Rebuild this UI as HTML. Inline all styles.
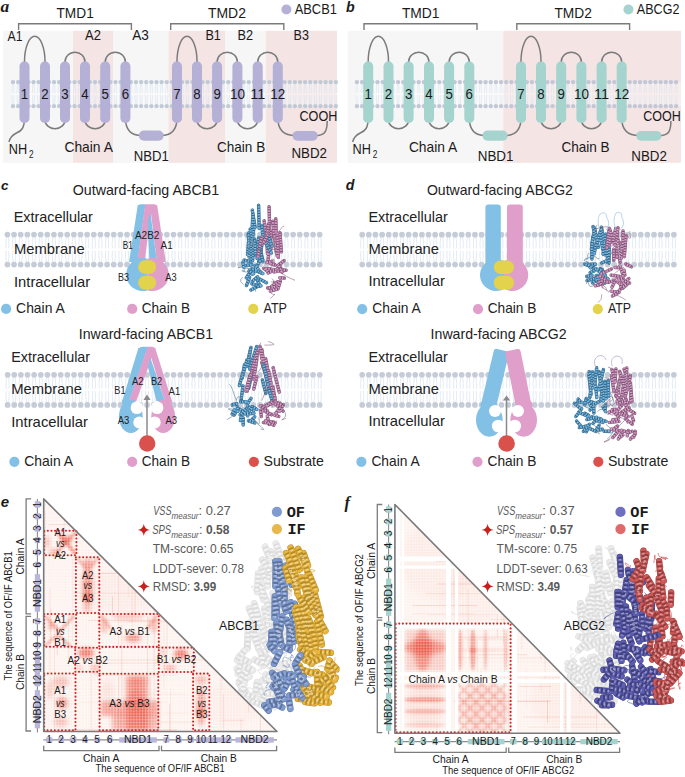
<!DOCTYPE html>
<html><head><meta charset="utf-8"><style>
html,body{margin:0;padding:0;background:#fff;width:685px;height:777px;overflow:hidden}
svg{display:block}
</style></head><body>
<svg width="685" height="777" viewBox="0 0 685 777" font-family="Liberation Sans, sans-serif" fill="#1a1a1a">
<rect x="3" y="30.8" width="70" height="132" fill="#f6f6f6"/>
<rect x="73" y="30.8" width="40" height="132" fill="#f4e4e4"/>
<rect x="113" y="30.8" width="55.5" height="132" fill="#f6f6f6"/>
<rect x="168.5" y="30.8" width="56.8" height="132" fill="#f4e4e4"/>
<rect x="225.3" y="30.8" width="40.5" height="132" fill="#f6f6f6"/>
<rect x="265.8" y="30.8" width="71.2" height="132" fill="#f4e4e4"/>
<rect x="11" y="82.1" width="328" height="24" fill="#ffffff" opacity="0.35"/>
<path d="M12.3 84.1L11.9 93.1M13.7 84.1L14.1 93.1M12.3 104.1L11.9 95.1M13.7 104.1L14.1 95.1M17.43 84.1L17.02 93.1M18.82 84.1L19.23 93.1M17.43 104.1L17.02 95.1M18.82 104.1L19.23 95.1M22.55 84.1L22.15 93.1M23.95 84.1L24.35 93.1M22.55 104.1L22.15 95.1M23.95 104.1L24.35 95.1M27.68 84.1L27.27 93.1M29.07 84.1L29.48 93.1M27.68 104.1L27.27 95.1M29.07 104.1L29.48 95.1M32.8 84.1L32.4 93.1M34.2 84.1L34.6 93.1M32.8 104.1L32.4 95.1M34.2 104.1L34.6 95.1M37.92 84.1L37.52 93.1M39.33 84.1L39.73 93.1M37.92 104.1L37.52 95.1M39.33 104.1L39.73 95.1M43.05 84.1L42.65 93.1M44.45 84.1L44.85 93.1M43.05 104.1L42.65 95.1M44.45 104.1L44.85 95.1M48.17 84.1L47.77 93.1M49.58 84.1L49.98 93.1M48.17 104.1L47.77 95.1M49.58 104.1L49.98 95.1M53.3 84.1L52.9 93.1M54.7 84.1L55.1 93.1M53.3 104.1L52.9 95.1M54.7 104.1L55.1 95.1M58.42 84.1L58.02 93.1M59.83 84.1L60.23 93.1M58.42 104.1L58.02 95.1M59.83 104.1L60.23 95.1M63.55 84.1L63.15 93.1M64.95 84.1L65.35 93.1M63.55 104.1L63.15 95.1M64.95 104.1L65.35 95.1M68.67 84.1L68.28 93.1M70.08 84.1L70.47 93.1M68.67 104.1L68.28 95.1M70.08 104.1L70.47 95.1M73.8 84.1L73.4 93.1M75.2 84.1L75.6 93.1M73.8 104.1L73.4 95.1M75.2 104.1L75.6 95.1M78.92 84.1L78.53 93.1M80.33 84.1L80.72 93.1M78.92 104.1L78.53 95.1M80.33 104.1L80.72 95.1M84.05 84.1L83.65 93.1M85.45 84.1L85.85 93.1M84.05 104.1L83.65 95.1M85.45 104.1L85.85 95.1M89.17 84.1L88.78 93.1M90.58 84.1L90.97 93.1M89.17 104.1L88.78 95.1M90.58 104.1L90.97 95.1M94.3 84.1L93.9 93.1M95.7 84.1L96.1 93.1M94.3 104.1L93.9 95.1M95.7 104.1L96.1 95.1M99.42 84.1L99.03 93.1M100.83 84.1L101.22 93.1M99.42 104.1L99.03 95.1M100.83 104.1L101.22 95.1M104.55 84.1L104.15 93.1M105.95 84.1L106.35 93.1M104.55 104.1L104.15 95.1M105.95 104.1L106.35 95.1M109.67 84.1L109.28 93.1M111.08 84.1L111.47 93.1M109.67 104.1L109.28 95.1M111.08 104.1L111.47 95.1M114.8 84.1L114.4 93.1M116.2 84.1L116.6 93.1M114.8 104.1L114.4 95.1M116.2 104.1L116.6 95.1M119.92 84.1L119.53 93.1M121.33 84.1L121.72 93.1M119.92 104.1L119.53 95.1M121.33 104.1L121.72 95.1M125.05 84.1L124.65 93.1M126.45 84.1L126.85 93.1M125.05 104.1L124.65 95.1M126.45 104.1L126.85 95.1M130.18 84.1L129.78 93.1M131.57 84.1L131.97 93.1M130.18 104.1L129.78 95.1M131.57 104.1L131.97 95.1M135.3 84.1L134.9 93.1M136.7 84.1L137.1 93.1M135.3 104.1L134.9 95.1M136.7 104.1L137.1 95.1M140.43 84.1L140.03 93.1M141.82 84.1L142.22 93.1M140.43 104.1L140.03 95.1M141.82 104.1L142.22 95.1M145.55 84.1L145.15 93.1M146.95 84.1L147.35 93.1M145.55 104.1L145.15 95.1M146.95 104.1L147.35 95.1M150.68 84.1L150.28 93.1M152.07 84.1L152.47 93.1M150.68 104.1L150.28 95.1M152.07 104.1L152.47 95.1M155.8 84.1L155.4 93.1M157.2 84.1L157.6 93.1M155.8 104.1L155.4 95.1M157.2 104.1L157.6 95.1M160.93 84.1L160.53 93.1M162.32 84.1L162.72 93.1M160.93 104.1L160.53 95.1M162.32 104.1L162.72 95.1M166.05 84.1L165.65 93.1M167.45 84.1L167.85 93.1M166.05 104.1L165.65 95.1M167.45 104.1L167.85 95.1M171.18 84.1L170.78 93.1M172.57 84.1L172.97 93.1M171.18 104.1L170.78 95.1M172.57 104.1L172.97 95.1M176.3 84.1L175.9 93.1M177.7 84.1L178.1 93.1M176.3 104.1L175.9 95.1M177.7 104.1L178.1 95.1M181.43 84.1L181.03 93.1M182.82 84.1L183.22 93.1M181.43 104.1L181.03 95.1M182.82 104.1L183.22 95.1M186.55 84.1L186.15 93.1M187.95 84.1L188.35 93.1M186.55 104.1L186.15 95.1M187.95 104.1L188.35 95.1M191.68 84.1L191.28 93.1M193.07 84.1L193.47 93.1M191.68 104.1L191.28 95.1M193.07 104.1L193.47 95.1M196.8 84.1L196.4 93.1M198.2 84.1L198.6 93.1M196.8 104.1L196.4 95.1M198.2 104.1L198.6 95.1M201.93 84.1L201.53 93.1M203.32 84.1L203.72 93.1M201.93 104.1L201.53 95.1M203.32 104.1L203.72 95.1M207.05 84.1L206.65 93.1M208.45 84.1L208.85 93.1M207.05 104.1L206.65 95.1M208.45 104.1L208.85 95.1M212.18 84.1L211.78 93.1M213.57 84.1L213.97 93.1M212.18 104.1L211.78 95.1M213.57 104.1L213.97 95.1M217.3 84.1L216.9 93.1M218.7 84.1L219.1 93.1M217.3 104.1L216.9 95.1M218.7 104.1L219.1 95.1M222.43 84.1L222.03 93.1M223.82 84.1L224.22 93.1M222.43 104.1L222.03 95.1M223.82 104.1L224.22 95.1M227.55 84.1L227.15 93.1M228.95 84.1L229.35 93.1M227.55 104.1L227.15 95.1M228.95 104.1L229.35 95.1M232.68 84.1L232.28 93.1M234.07 84.1L234.47 93.1M232.68 104.1L232.28 95.1M234.07 104.1L234.47 95.1M237.8 84.1L237.4 93.1M239.2 84.1L239.6 93.1M237.8 104.1L237.4 95.1M239.2 104.1L239.6 95.1M242.93 84.1L242.53 93.1M244.32 84.1L244.72 93.1M242.93 104.1L242.53 95.1M244.32 104.1L244.72 95.1M248.05 84.1L247.65 93.1M249.45 84.1L249.85 93.1M248.05 104.1L247.65 95.1M249.45 104.1L249.85 95.1M253.18 84.1L252.78 93.1M254.57 84.1L254.97 93.1M253.18 104.1L252.78 95.1M254.57 104.1L254.97 95.1M258.3 84.1L257.9 93.1M259.7 84.1L260.1 93.1M258.3 104.1L257.9 95.1M259.7 104.1L260.1 95.1M263.43 84.1L263.02 93.1M264.82 84.1L265.23 93.1M263.43 104.1L263.02 95.1M264.82 104.1L265.23 95.1M268.55 84.1L268.15 93.1M269.95 84.1L270.35 93.1M268.55 104.1L268.15 95.1M269.95 104.1L270.35 95.1M273.68 84.1L273.27 93.1M275.07 84.1L275.48 93.1M273.68 104.1L273.27 95.1M275.07 104.1L275.48 95.1M278.8 84.1L278.4 93.1M280.2 84.1L280.6 93.1M278.8 104.1L278.4 95.1M280.2 104.1L280.6 95.1M283.93 84.1L283.52 93.1M285.32 84.1L285.73 93.1M283.93 104.1L283.52 95.1M285.32 104.1L285.73 95.1M289.05 84.1L288.65 93.1M290.45 84.1L290.85 93.1M289.05 104.1L288.65 95.1M290.45 104.1L290.85 95.1M294.18 84.1L293.77 93.1M295.57 84.1L295.98 93.1M294.18 104.1L293.77 95.1M295.57 104.1L295.98 95.1M299.3 84.1L298.9 93.1M300.7 84.1L301.1 93.1M299.3 104.1L298.9 95.1M300.7 104.1L301.1 95.1M304.43 84.1L304.02 93.1M305.82 84.1L306.23 93.1M304.43 104.1L304.02 95.1M305.82 104.1L306.23 95.1M309.55 84.1L309.15 93.1M310.95 84.1L311.35 93.1M309.55 104.1L309.15 95.1M310.95 104.1L311.35 95.1M314.68 84.1L314.27 93.1M316.07 84.1L316.48 93.1M314.68 104.1L314.27 95.1M316.07 104.1L316.48 95.1M319.8 84.1L319.4 93.1M321.2 84.1L321.6 93.1M319.8 104.1L319.4 95.1M321.2 104.1L321.6 95.1M324.93 84.1L324.52 93.1M326.32 84.1L326.73 93.1M324.93 104.1L324.52 95.1M326.32 104.1L326.73 95.1M330.05 84.1L329.65 93.1M331.45 84.1L331.85 93.1M330.05 104.1L329.65 95.1M331.45 104.1L331.85 95.1M335.18 84.1L334.77 93.1M336.57 84.1L336.98 93.1M335.18 104.1L334.77 95.1M336.57 104.1L336.98 95.1" fill="none" stroke="#d4e1ef" stroke-width="0.6"/>
<circle cx="13" cy="82.1" r="2.2" fill="#c0cad6"/>
<circle cx="13" cy="106.1" r="2.2" fill="#c0cad6"/>
<circle cx="18.12" cy="82.1" r="2.2" fill="#c0cad6"/>
<circle cx="18.12" cy="106.1" r="2.2" fill="#c0cad6"/>
<circle cx="23.25" cy="82.1" r="2.2" fill="#c0cad6"/>
<circle cx="23.25" cy="106.1" r="2.2" fill="#c0cad6"/>
<circle cx="28.38" cy="82.1" r="2.2" fill="#c0cad6"/>
<circle cx="28.38" cy="106.1" r="2.2" fill="#c0cad6"/>
<circle cx="33.5" cy="82.1" r="2.2" fill="#c0cad6"/>
<circle cx="33.5" cy="106.1" r="2.2" fill="#c0cad6"/>
<circle cx="38.62" cy="82.1" r="2.2" fill="#c0cad6"/>
<circle cx="38.62" cy="106.1" r="2.2" fill="#c0cad6"/>
<circle cx="43.75" cy="82.1" r="2.2" fill="#c0cad6"/>
<circle cx="43.75" cy="106.1" r="2.2" fill="#c0cad6"/>
<circle cx="48.88" cy="82.1" r="2.2" fill="#c0cad6"/>
<circle cx="48.88" cy="106.1" r="2.2" fill="#c0cad6"/>
<circle cx="54" cy="82.1" r="2.2" fill="#c0cad6"/>
<circle cx="54" cy="106.1" r="2.2" fill="#c0cad6"/>
<circle cx="59.12" cy="82.1" r="2.2" fill="#c0cad6"/>
<circle cx="59.12" cy="106.1" r="2.2" fill="#c0cad6"/>
<circle cx="64.25" cy="82.1" r="2.2" fill="#c0cad6"/>
<circle cx="64.25" cy="106.1" r="2.2" fill="#c0cad6"/>
<circle cx="69.38" cy="82.1" r="2.2" fill="#c0cad6"/>
<circle cx="69.38" cy="106.1" r="2.2" fill="#c0cad6"/>
<circle cx="74.5" cy="82.1" r="2.2" fill="#c0cad6"/>
<circle cx="74.5" cy="106.1" r="2.2" fill="#c0cad6"/>
<circle cx="79.62" cy="82.1" r="2.2" fill="#c0cad6"/>
<circle cx="79.62" cy="106.1" r="2.2" fill="#c0cad6"/>
<circle cx="84.75" cy="82.1" r="2.2" fill="#c0cad6"/>
<circle cx="84.75" cy="106.1" r="2.2" fill="#c0cad6"/>
<circle cx="89.88" cy="82.1" r="2.2" fill="#c0cad6"/>
<circle cx="89.88" cy="106.1" r="2.2" fill="#c0cad6"/>
<circle cx="95" cy="82.1" r="2.2" fill="#c0cad6"/>
<circle cx="95" cy="106.1" r="2.2" fill="#c0cad6"/>
<circle cx="100.12" cy="82.1" r="2.2" fill="#c0cad6"/>
<circle cx="100.12" cy="106.1" r="2.2" fill="#c0cad6"/>
<circle cx="105.25" cy="82.1" r="2.2" fill="#c0cad6"/>
<circle cx="105.25" cy="106.1" r="2.2" fill="#c0cad6"/>
<circle cx="110.38" cy="82.1" r="2.2" fill="#c0cad6"/>
<circle cx="110.38" cy="106.1" r="2.2" fill="#c0cad6"/>
<circle cx="115.5" cy="82.1" r="2.2" fill="#c0cad6"/>
<circle cx="115.5" cy="106.1" r="2.2" fill="#c0cad6"/>
<circle cx="120.62" cy="82.1" r="2.2" fill="#c0cad6"/>
<circle cx="120.62" cy="106.1" r="2.2" fill="#c0cad6"/>
<circle cx="125.75" cy="82.1" r="2.2" fill="#c0cad6"/>
<circle cx="125.75" cy="106.1" r="2.2" fill="#c0cad6"/>
<circle cx="130.88" cy="82.1" r="2.2" fill="#c0cad6"/>
<circle cx="130.88" cy="106.1" r="2.2" fill="#c0cad6"/>
<circle cx="136" cy="82.1" r="2.2" fill="#c0cad6"/>
<circle cx="136" cy="106.1" r="2.2" fill="#c0cad6"/>
<circle cx="141.12" cy="82.1" r="2.2" fill="#c0cad6"/>
<circle cx="141.12" cy="106.1" r="2.2" fill="#c0cad6"/>
<circle cx="146.25" cy="82.1" r="2.2" fill="#c0cad6"/>
<circle cx="146.25" cy="106.1" r="2.2" fill="#c0cad6"/>
<circle cx="151.38" cy="82.1" r="2.2" fill="#c0cad6"/>
<circle cx="151.38" cy="106.1" r="2.2" fill="#c0cad6"/>
<circle cx="156.5" cy="82.1" r="2.2" fill="#c0cad6"/>
<circle cx="156.5" cy="106.1" r="2.2" fill="#c0cad6"/>
<circle cx="161.62" cy="82.1" r="2.2" fill="#c0cad6"/>
<circle cx="161.62" cy="106.1" r="2.2" fill="#c0cad6"/>
<circle cx="166.75" cy="82.1" r="2.2" fill="#c0cad6"/>
<circle cx="166.75" cy="106.1" r="2.2" fill="#c0cad6"/>
<circle cx="171.88" cy="82.1" r="2.2" fill="#c0cad6"/>
<circle cx="171.88" cy="106.1" r="2.2" fill="#c0cad6"/>
<circle cx="177" cy="82.1" r="2.2" fill="#c0cad6"/>
<circle cx="177" cy="106.1" r="2.2" fill="#c0cad6"/>
<circle cx="182.12" cy="82.1" r="2.2" fill="#c0cad6"/>
<circle cx="182.12" cy="106.1" r="2.2" fill="#c0cad6"/>
<circle cx="187.25" cy="82.1" r="2.2" fill="#c0cad6"/>
<circle cx="187.25" cy="106.1" r="2.2" fill="#c0cad6"/>
<circle cx="192.38" cy="82.1" r="2.2" fill="#c0cad6"/>
<circle cx="192.38" cy="106.1" r="2.2" fill="#c0cad6"/>
<circle cx="197.5" cy="82.1" r="2.2" fill="#c0cad6"/>
<circle cx="197.5" cy="106.1" r="2.2" fill="#c0cad6"/>
<circle cx="202.62" cy="82.1" r="2.2" fill="#c0cad6"/>
<circle cx="202.62" cy="106.1" r="2.2" fill="#c0cad6"/>
<circle cx="207.75" cy="82.1" r="2.2" fill="#c0cad6"/>
<circle cx="207.75" cy="106.1" r="2.2" fill="#c0cad6"/>
<circle cx="212.88" cy="82.1" r="2.2" fill="#c0cad6"/>
<circle cx="212.88" cy="106.1" r="2.2" fill="#c0cad6"/>
<circle cx="218" cy="82.1" r="2.2" fill="#c0cad6"/>
<circle cx="218" cy="106.1" r="2.2" fill="#c0cad6"/>
<circle cx="223.12" cy="82.1" r="2.2" fill="#c0cad6"/>
<circle cx="223.12" cy="106.1" r="2.2" fill="#c0cad6"/>
<circle cx="228.25" cy="82.1" r="2.2" fill="#c0cad6"/>
<circle cx="228.25" cy="106.1" r="2.2" fill="#c0cad6"/>
<circle cx="233.38" cy="82.1" r="2.2" fill="#c0cad6"/>
<circle cx="233.38" cy="106.1" r="2.2" fill="#c0cad6"/>
<circle cx="238.5" cy="82.1" r="2.2" fill="#c0cad6"/>
<circle cx="238.5" cy="106.1" r="2.2" fill="#c0cad6"/>
<circle cx="243.62" cy="82.1" r="2.2" fill="#c0cad6"/>
<circle cx="243.62" cy="106.1" r="2.2" fill="#c0cad6"/>
<circle cx="248.75" cy="82.1" r="2.2" fill="#c0cad6"/>
<circle cx="248.75" cy="106.1" r="2.2" fill="#c0cad6"/>
<circle cx="253.88" cy="82.1" r="2.2" fill="#c0cad6"/>
<circle cx="253.88" cy="106.1" r="2.2" fill="#c0cad6"/>
<circle cx="259" cy="82.1" r="2.2" fill="#c0cad6"/>
<circle cx="259" cy="106.1" r="2.2" fill="#c0cad6"/>
<circle cx="264.12" cy="82.1" r="2.2" fill="#c0cad6"/>
<circle cx="264.12" cy="106.1" r="2.2" fill="#c0cad6"/>
<circle cx="269.25" cy="82.1" r="2.2" fill="#c0cad6"/>
<circle cx="269.25" cy="106.1" r="2.2" fill="#c0cad6"/>
<circle cx="274.38" cy="82.1" r="2.2" fill="#c0cad6"/>
<circle cx="274.38" cy="106.1" r="2.2" fill="#c0cad6"/>
<circle cx="279.5" cy="82.1" r="2.2" fill="#c0cad6"/>
<circle cx="279.5" cy="106.1" r="2.2" fill="#c0cad6"/>
<circle cx="284.62" cy="82.1" r="2.2" fill="#c0cad6"/>
<circle cx="284.62" cy="106.1" r="2.2" fill="#c0cad6"/>
<circle cx="289.75" cy="82.1" r="2.2" fill="#c0cad6"/>
<circle cx="289.75" cy="106.1" r="2.2" fill="#c0cad6"/>
<circle cx="294.88" cy="82.1" r="2.2" fill="#c0cad6"/>
<circle cx="294.88" cy="106.1" r="2.2" fill="#c0cad6"/>
<circle cx="300" cy="82.1" r="2.2" fill="#c0cad6"/>
<circle cx="300" cy="106.1" r="2.2" fill="#c0cad6"/>
<circle cx="305.12" cy="82.1" r="2.2" fill="#c0cad6"/>
<circle cx="305.12" cy="106.1" r="2.2" fill="#c0cad6"/>
<circle cx="310.25" cy="82.1" r="2.2" fill="#c0cad6"/>
<circle cx="310.25" cy="106.1" r="2.2" fill="#c0cad6"/>
<circle cx="315.38" cy="82.1" r="2.2" fill="#c0cad6"/>
<circle cx="315.38" cy="106.1" r="2.2" fill="#c0cad6"/>
<circle cx="320.5" cy="82.1" r="2.2" fill="#c0cad6"/>
<circle cx="320.5" cy="106.1" r="2.2" fill="#c0cad6"/>
<circle cx="325.62" cy="82.1" r="2.2" fill="#c0cad6"/>
<circle cx="325.62" cy="106.1" r="2.2" fill="#c0cad6"/>
<circle cx="330.75" cy="82.1" r="2.2" fill="#c0cad6"/>
<circle cx="330.75" cy="106.1" r="2.2" fill="#c0cad6"/>
<circle cx="335.88" cy="82.1" r="2.2" fill="#c0cad6"/>
<circle cx="335.88" cy="106.1" r="2.2" fill="#c0cad6"/>
<path d="M24.5 66V61.5A10.25 25.2 0 0 1 45 61.5V66M177 66V61.5A10 25.2 0 0 1 197 61.5V66M65 66V62A10 9.8 0 0 1 85 62V66M105.2 66V62A10.1 9.8 0 0 1 125.4 62V66M217.1 66V62A10.15 9.8 0 0 1 237.4 62V66M257.7 66V62A10.05 9.8 0 0 1 277.8 62V66M45 116V120A10 8.7 0 0 0 65 120V116M85 116V120A10.1 8.7 0 0 0 105.2 120V116M197 116V120A10.05 8.7 0 0 0 217.1 120V116M237.4 116V120A10.15 8.7 0 0 0 257.7 120V116M24.5 118C24.5 128 21.5 131 16.5 133C12.5 135 10 137 9 142M125.4 118C125.4 132 132.9 135.6 141.9 135.6M160.6 135.6C169.6 135.6 177 132 177 118M277.8 118C277.8 132 286.5 135.6 295.5 135.6M314.7 135.6C324.7 135.6 327.2 132 327.2 121" fill="none" stroke="#7b7b7b" stroke-width="1.5"/>
<rect x="19.5" y="61.6" width="10" height="61.3" fill="#b4b0d6" rx="4.6"/>
<rect x="40" y="61.6" width="10" height="61.3" fill="#b4b0d6" rx="4.6"/>
<rect x="60" y="61.6" width="10" height="61.3" fill="#b4b0d6" rx="4.6"/>
<rect x="80" y="61.6" width="10" height="61.3" fill="#b4b0d6" rx="4.6"/>
<rect x="100.2" y="61.6" width="10" height="61.3" fill="#b4b0d6" rx="4.6"/>
<rect x="120.4" y="61.6" width="10" height="61.3" fill="#b4b0d6" rx="4.6"/>
<rect x="172" y="61.6" width="10" height="61.3" fill="#b4b0d6" rx="4.6"/>
<rect x="192" y="61.6" width="10" height="61.3" fill="#b4b0d6" rx="4.6"/>
<rect x="212.1" y="61.6" width="10" height="61.3" fill="#b4b0d6" rx="4.6"/>
<rect x="232.4" y="61.6" width="10" height="61.3" fill="#b4b0d6" rx="4.6"/>
<rect x="252.7" y="61.6" width="10" height="61.3" fill="#b4b0d6" rx="4.6"/>
<rect x="272.8" y="61.6" width="10" height="61.3" fill="#b4b0d6" rx="4.6"/>
<rect x="138.9" y="130.6" width="24.7" height="10.1" fill="#b4b0d6" rx="5"/>
<rect x="292.5" y="130.9" width="25.2" height="9.8" fill="#b4b0d6" rx="5"/>
<text x="24.5" y="99.3" font-size="14.6" text-anchor="middle" textLength="7.4" lengthAdjust="spacingAndGlyphs">1</text>
<text x="45" y="99.3" font-size="14.6" text-anchor="middle" textLength="7.4" lengthAdjust="spacingAndGlyphs">2</text>
<text x="65" y="99.3" font-size="14.6" text-anchor="middle" textLength="7.4" lengthAdjust="spacingAndGlyphs">3</text>
<text x="85" y="99.3" font-size="14.6" text-anchor="middle" textLength="7.4" lengthAdjust="spacingAndGlyphs">4</text>
<text x="105.2" y="99.3" font-size="14.6" text-anchor="middle" textLength="7.4" lengthAdjust="spacingAndGlyphs">5</text>
<text x="125.4" y="99.3" font-size="14.6" text-anchor="middle" textLength="7.4" lengthAdjust="spacingAndGlyphs">6</text>
<text x="177" y="99.3" font-size="14.6" text-anchor="middle" textLength="7.4" lengthAdjust="spacingAndGlyphs">7</text>
<text x="197" y="99.3" font-size="14.6" text-anchor="middle" textLength="7.4" lengthAdjust="spacingAndGlyphs">8</text>
<text x="217.1" y="99.3" font-size="14.6" text-anchor="middle" textLength="7.4" lengthAdjust="spacingAndGlyphs">9</text>
<text x="237.4" y="99.3" font-size="14.6" text-anchor="middle" textLength="15" lengthAdjust="spacingAndGlyphs">10</text>
<text x="257.7" y="99.3" font-size="14.6" text-anchor="middle" textLength="15" lengthAdjust="spacingAndGlyphs">11</text>
<text x="277.8" y="99.3" font-size="14.6" text-anchor="middle" textLength="15" lengthAdjust="spacingAndGlyphs">12</text>
<path d="M18.6 30V23.8H131.4 V30" fill="none" stroke="#7b7b7b" stroke-width="1.4"/>
<path d="M170.7 30V23.8H283.8 V30" fill="none" stroke="#7b7b7b" stroke-width="1.4"/>
<circle cx="286.4" cy="9.5" r="5" fill="#b4b0d6"/>
<text x="294.7" y="14.3" font-size="14.6" textLength="42.2" lengthAdjust="spacingAndGlyphs">ABCB1</text>
<text x="56.5" y="18.2" font-size="14.6" textLength="37.3" lengthAdjust="spacingAndGlyphs">TMD1</text>
<text x="208" y="18.3" font-size="14.6" textLength="37.9" lengthAdjust="spacingAndGlyphs">TMD2</text>
<text x="7.5" y="40.5" font-size="14.6" textLength="15" lengthAdjust="spacingAndGlyphs">A1</text>
<text x="85" y="40.4" font-size="14.6" textLength="15.9" lengthAdjust="spacingAndGlyphs">A2</text>
<text x="132.2" y="40.4" font-size="14.6" textLength="16.6" lengthAdjust="spacingAndGlyphs">A3</text>
<text x="205.4" y="40.4" font-size="14.6" textLength="15.4" lengthAdjust="spacingAndGlyphs">B1</text>
<text x="237.6" y="40.4" font-size="14.6" textLength="15.6" lengthAdjust="spacingAndGlyphs">B2</text>
<text x="293.6" y="40.4" font-size="14.6" textLength="15.3" lengthAdjust="spacingAndGlyphs">B3</text>
<text x="64.4" y="151.8" font-size="14.6" textLength="48.5" lengthAdjust="spacingAndGlyphs">Chain A</text>
<text x="133.7" y="161" font-size="14.6" textLength="35.1" lengthAdjust="spacingAndGlyphs">NBD1</text>
<text x="217" y="151.8" font-size="14.6" textLength="48.2" lengthAdjust="spacingAndGlyphs">Chain B</text>
<text x="299.5" y="121" font-size="14.6" textLength="37.9" lengthAdjust="spacingAndGlyphs">COOH</text>
<text x="291.4" y="158.1" font-size="14.6" textLength="35.6" lengthAdjust="spacingAndGlyphs">NBD2</text>
<text x="8.8" y="154.1" font-size="14.6" textLength="18.4" lengthAdjust="spacingAndGlyphs">NH</text>
<text x="29" y="157.8" font-size="10.2" textLength="4.6" lengthAdjust="spacingAndGlyphs">2</text>
<text x="0.5" y="11.6" font-size="17.5" font-family="Liberation Serif" font-weight="bold" font-style="italic">a</text>
<rect x="347.7" y="30.8" width="155.6" height="132" fill="#f6f6f6"/>
<rect x="503.3" y="30.8" width="177.7" height="132" fill="#f4e4e4"/>
<rect x="354.9" y="82.1" width="328.1" height="24" fill="#ffffff" opacity="0.35"/>
<path d="M356.2 84.1L355.8 93.1M357.6 84.1L358 93.1M356.2 104.1L355.8 95.1M357.6 104.1L358 95.1M361.35 84.1L360.95 93.1M362.75 84.1L363.15 93.1M361.35 104.1L360.95 95.1M362.75 104.1L363.15 95.1M366.5 84.1L366.1 93.1M367.9 84.1L368.3 93.1M366.5 104.1L366.1 95.1M367.9 104.1L368.3 95.1M371.64 84.1L371.24 93.1M373.04 84.1L373.44 93.1M371.64 104.1L371.24 95.1M373.04 104.1L373.44 95.1M376.79 84.1L376.39 93.1M378.19 84.1L378.59 93.1M376.79 104.1L376.39 95.1M378.19 104.1L378.59 95.1M381.94 84.1L381.54 93.1M383.34 84.1L383.74 93.1M381.94 104.1L381.54 95.1M383.34 104.1L383.74 95.1M387.09 84.1L386.69 93.1M388.49 84.1L388.89 93.1M387.09 104.1L386.69 95.1M388.49 104.1L388.89 95.1M392.24 84.1L391.84 93.1M393.64 84.1L394.04 93.1M392.24 104.1L391.84 95.1M393.64 104.1L394.04 95.1M397.38 84.1L396.98 93.1M398.78 84.1L399.18 93.1M397.38 104.1L396.98 95.1M398.78 104.1L399.18 95.1M402.53 84.1L402.13 93.1M403.93 84.1L404.33 93.1M402.53 104.1L402.13 95.1M403.93 104.1L404.33 95.1M407.68 84.1L407.28 93.1M409.08 84.1L409.48 93.1M407.68 104.1L407.28 95.1M409.08 104.1L409.48 95.1M412.83 84.1L412.43 93.1M414.23 84.1L414.63 93.1M412.83 104.1L412.43 95.1M414.23 104.1L414.63 95.1M417.98 84.1L417.58 93.1M419.38 84.1L419.78 93.1M417.98 104.1L417.58 95.1M419.38 104.1L419.78 95.1M423.12 84.1L422.72 93.1M424.52 84.1L424.92 93.1M423.12 104.1L422.72 95.1M424.52 104.1L424.92 95.1M428.27 84.1L427.87 93.1M429.67 84.1L430.07 93.1M428.27 104.1L427.87 95.1M429.67 104.1L430.07 95.1M433.42 84.1L433.02 93.1M434.82 84.1L435.22 93.1M433.42 104.1L433.02 95.1M434.82 104.1L435.22 95.1M438.57 84.1L438.17 93.1M439.97 84.1L440.37 93.1M438.57 104.1L438.17 95.1M439.97 104.1L440.37 95.1M443.72 84.1L443.32 93.1M445.12 84.1L445.52 93.1M443.72 104.1L443.32 95.1M445.12 104.1L445.52 95.1M448.86 84.1L448.46 93.1M450.26 84.1L450.66 93.1M448.86 104.1L448.46 95.1M450.26 104.1L450.66 95.1M454.01 84.1L453.61 93.1M455.41 84.1L455.81 93.1M454.01 104.1L453.61 95.1M455.41 104.1L455.81 95.1M459.16 84.1L458.76 93.1M460.56 84.1L460.96 93.1M459.16 104.1L458.76 95.1M460.56 104.1L460.96 95.1M464.31 84.1L463.91 93.1M465.71 84.1L466.11 93.1M464.31 104.1L463.91 95.1M465.71 104.1L466.11 95.1M469.46 84.1L469.06 93.1M470.86 84.1L471.26 93.1M469.46 104.1L469.06 95.1M470.86 104.1L471.26 95.1M474.6 84.1L474.2 93.1M476 84.1L476.4 93.1M474.6 104.1L474.2 95.1M476 104.1L476.4 95.1M479.75 84.1L479.35 93.1M481.15 84.1L481.55 93.1M479.75 104.1L479.35 95.1M481.15 104.1L481.55 95.1M484.9 84.1L484.5 93.1M486.3 84.1L486.7 93.1M484.9 104.1L484.5 95.1M486.3 104.1L486.7 95.1M490.05 84.1L489.65 93.1M491.45 84.1L491.85 93.1M490.05 104.1L489.65 95.1M491.45 104.1L491.85 95.1M495.2 84.1L494.8 93.1M496.6 84.1L497 93.1M495.2 104.1L494.8 95.1M496.6 104.1L497 95.1M500.34 84.1L499.94 93.1M501.74 84.1L502.14 93.1M500.34 104.1L499.94 95.1M501.74 104.1L502.14 95.1M505.49 84.1L505.09 93.1M506.89 84.1L507.29 93.1M505.49 104.1L505.09 95.1M506.89 104.1L507.29 95.1M510.64 84.1L510.24 93.1M512.04 84.1L512.44 93.1M510.64 104.1L510.24 95.1M512.04 104.1L512.44 95.1M515.79 84.1L515.39 93.1M517.19 84.1L517.59 93.1M515.79 104.1L515.39 95.1M517.19 104.1L517.59 95.1M520.94 84.1L520.54 93.1M522.34 84.1L522.74 93.1M520.94 104.1L520.54 95.1M522.34 104.1L522.74 95.1M526.08 84.1L525.68 93.1M527.48 84.1L527.88 93.1M526.08 104.1L525.68 95.1M527.48 104.1L527.88 95.1M531.23 84.1L530.83 93.1M532.63 84.1L533.03 93.1M531.23 104.1L530.83 95.1M532.63 104.1L533.03 95.1M536.38 84.1L535.98 93.1M537.78 84.1L538.18 93.1M536.38 104.1L535.98 95.1M537.78 104.1L538.18 95.1M541.53 84.1L541.13 93.1M542.93 84.1L543.33 93.1M541.53 104.1L541.13 95.1M542.93 104.1L543.33 95.1M546.68 84.1L546.28 93.1M548.08 84.1L548.48 93.1M546.68 104.1L546.28 95.1M548.08 104.1L548.48 95.1M551.82 84.1L551.42 93.1M553.22 84.1L553.62 93.1M551.82 104.1L551.42 95.1M553.22 104.1L553.62 95.1M556.97 84.1L556.57 93.1M558.37 84.1L558.77 93.1M556.97 104.1L556.57 95.1M558.37 104.1L558.77 95.1M562.12 84.1L561.72 93.1M563.52 84.1L563.92 93.1M562.12 104.1L561.72 95.1M563.52 104.1L563.92 95.1M567.27 84.1L566.87 93.1M568.67 84.1L569.07 93.1M567.27 104.1L566.87 95.1M568.67 104.1L569.07 95.1M572.42 84.1L572.02 93.1M573.82 84.1L574.22 93.1M572.42 104.1L572.02 95.1M573.82 104.1L574.22 95.1M577.56 84.1L577.16 93.1M578.96 84.1L579.36 93.1M577.56 104.1L577.16 95.1M578.96 104.1L579.36 95.1M582.71 84.1L582.31 93.1M584.11 84.1L584.51 93.1M582.71 104.1L582.31 95.1M584.11 104.1L584.51 95.1M587.86 84.1L587.46 93.1M589.26 84.1L589.66 93.1M587.86 104.1L587.46 95.1M589.26 104.1L589.66 95.1M593.01 84.1L592.61 93.1M594.41 84.1L594.81 93.1M593.01 104.1L592.61 95.1M594.41 104.1L594.81 95.1M598.16 84.1L597.76 93.1M599.56 84.1L599.96 93.1M598.16 104.1L597.76 95.1M599.56 104.1L599.96 95.1M603.3 84.1L602.9 93.1M604.7 84.1L605.1 93.1M603.3 104.1L602.9 95.1M604.7 104.1L605.1 95.1M608.45 84.1L608.05 93.1M609.85 84.1L610.25 93.1M608.45 104.1L608.05 95.1M609.85 104.1L610.25 95.1M613.6 84.1L613.2 93.1M615 84.1L615.4 93.1M613.6 104.1L613.2 95.1M615 104.1L615.4 95.1M618.75 84.1L618.35 93.1M620.15 84.1L620.55 93.1M618.75 104.1L618.35 95.1M620.15 104.1L620.55 95.1M623.9 84.1L623.5 93.1M625.3 84.1L625.7 93.1M623.9 104.1L623.5 95.1M625.3 104.1L625.7 95.1M629.04 84.1L628.64 93.1M630.44 84.1L630.84 93.1M629.04 104.1L628.64 95.1M630.44 104.1L630.84 95.1M634.19 84.1L633.79 93.1M635.59 84.1L635.99 93.1M634.19 104.1L633.79 95.1M635.59 104.1L635.99 95.1M639.34 84.1L638.94 93.1M640.74 84.1L641.14 93.1M639.34 104.1L638.94 95.1M640.74 104.1L641.14 95.1M644.49 84.1L644.09 93.1M645.89 84.1L646.29 93.1M644.49 104.1L644.09 95.1M645.89 104.1L646.29 95.1M649.64 84.1L649.24 93.1M651.04 84.1L651.44 93.1M649.64 104.1L649.24 95.1M651.04 104.1L651.44 95.1M654.78 84.1L654.38 93.1M656.18 84.1L656.58 93.1M654.78 104.1L654.38 95.1M656.18 104.1L656.58 95.1M659.93 84.1L659.53 93.1M661.33 84.1L661.73 93.1M659.93 104.1L659.53 95.1M661.33 104.1L661.73 95.1M665.08 84.1L664.68 93.1M666.48 84.1L666.88 93.1M665.08 104.1L664.68 95.1M666.48 104.1L666.88 95.1M670.23 84.1L669.83 93.1M671.63 84.1L672.03 93.1M670.23 104.1L669.83 95.1M671.63 104.1L672.03 95.1M675.38 84.1L674.98 93.1M676.78 84.1L677.18 93.1M675.38 104.1L674.98 95.1M676.78 104.1L677.18 95.1" fill="none" stroke="#d8e2ef" stroke-width="0.6"/>
<circle cx="356.9" cy="82.1" r="2.2" fill="#c2c7d6"/>
<circle cx="356.9" cy="106.1" r="2.2" fill="#c2c7d6"/>
<circle cx="362.05" cy="82.1" r="2.2" fill="#c2c7d6"/>
<circle cx="362.05" cy="106.1" r="2.2" fill="#c2c7d6"/>
<circle cx="367.2" cy="82.1" r="2.2" fill="#c2c7d6"/>
<circle cx="367.2" cy="106.1" r="2.2" fill="#c2c7d6"/>
<circle cx="372.34" cy="82.1" r="2.2" fill="#c2c7d6"/>
<circle cx="372.34" cy="106.1" r="2.2" fill="#c2c7d6"/>
<circle cx="377.49" cy="82.1" r="2.2" fill="#c2c7d6"/>
<circle cx="377.49" cy="106.1" r="2.2" fill="#c2c7d6"/>
<circle cx="382.64" cy="82.1" r="2.2" fill="#c2c7d6"/>
<circle cx="382.64" cy="106.1" r="2.2" fill="#c2c7d6"/>
<circle cx="387.79" cy="82.1" r="2.2" fill="#c2c7d6"/>
<circle cx="387.79" cy="106.1" r="2.2" fill="#c2c7d6"/>
<circle cx="392.94" cy="82.1" r="2.2" fill="#c2c7d6"/>
<circle cx="392.94" cy="106.1" r="2.2" fill="#c2c7d6"/>
<circle cx="398.08" cy="82.1" r="2.2" fill="#c2c7d6"/>
<circle cx="398.08" cy="106.1" r="2.2" fill="#c2c7d6"/>
<circle cx="403.23" cy="82.1" r="2.2" fill="#c2c7d6"/>
<circle cx="403.23" cy="106.1" r="2.2" fill="#c2c7d6"/>
<circle cx="408.38" cy="82.1" r="2.2" fill="#c2c7d6"/>
<circle cx="408.38" cy="106.1" r="2.2" fill="#c2c7d6"/>
<circle cx="413.53" cy="82.1" r="2.2" fill="#c2c7d6"/>
<circle cx="413.53" cy="106.1" r="2.2" fill="#c2c7d6"/>
<circle cx="418.68" cy="82.1" r="2.2" fill="#c2c7d6"/>
<circle cx="418.68" cy="106.1" r="2.2" fill="#c2c7d6"/>
<circle cx="423.82" cy="82.1" r="2.2" fill="#c2c7d6"/>
<circle cx="423.82" cy="106.1" r="2.2" fill="#c2c7d6"/>
<circle cx="428.97" cy="82.1" r="2.2" fill="#c2c7d6"/>
<circle cx="428.97" cy="106.1" r="2.2" fill="#c2c7d6"/>
<circle cx="434.12" cy="82.1" r="2.2" fill="#c2c7d6"/>
<circle cx="434.12" cy="106.1" r="2.2" fill="#c2c7d6"/>
<circle cx="439.27" cy="82.1" r="2.2" fill="#c2c7d6"/>
<circle cx="439.27" cy="106.1" r="2.2" fill="#c2c7d6"/>
<circle cx="444.42" cy="82.1" r="2.2" fill="#c2c7d6"/>
<circle cx="444.42" cy="106.1" r="2.2" fill="#c2c7d6"/>
<circle cx="449.56" cy="82.1" r="2.2" fill="#c2c7d6"/>
<circle cx="449.56" cy="106.1" r="2.2" fill="#c2c7d6"/>
<circle cx="454.71" cy="82.1" r="2.2" fill="#c2c7d6"/>
<circle cx="454.71" cy="106.1" r="2.2" fill="#c2c7d6"/>
<circle cx="459.86" cy="82.1" r="2.2" fill="#c2c7d6"/>
<circle cx="459.86" cy="106.1" r="2.2" fill="#c2c7d6"/>
<circle cx="465.01" cy="82.1" r="2.2" fill="#c2c7d6"/>
<circle cx="465.01" cy="106.1" r="2.2" fill="#c2c7d6"/>
<circle cx="470.16" cy="82.1" r="2.2" fill="#c2c7d6"/>
<circle cx="470.16" cy="106.1" r="2.2" fill="#c2c7d6"/>
<circle cx="475.3" cy="82.1" r="2.2" fill="#c2c7d6"/>
<circle cx="475.3" cy="106.1" r="2.2" fill="#c2c7d6"/>
<circle cx="480.45" cy="82.1" r="2.2" fill="#c2c7d6"/>
<circle cx="480.45" cy="106.1" r="2.2" fill="#c2c7d6"/>
<circle cx="485.6" cy="82.1" r="2.2" fill="#c2c7d6"/>
<circle cx="485.6" cy="106.1" r="2.2" fill="#c2c7d6"/>
<circle cx="490.75" cy="82.1" r="2.2" fill="#c2c7d6"/>
<circle cx="490.75" cy="106.1" r="2.2" fill="#c2c7d6"/>
<circle cx="495.9" cy="82.1" r="2.2" fill="#c2c7d6"/>
<circle cx="495.9" cy="106.1" r="2.2" fill="#c2c7d6"/>
<circle cx="501.04" cy="82.1" r="2.2" fill="#c2c7d6"/>
<circle cx="501.04" cy="106.1" r="2.2" fill="#c2c7d6"/>
<circle cx="506.19" cy="82.1" r="2.2" fill="#c2c7d6"/>
<circle cx="506.19" cy="106.1" r="2.2" fill="#c2c7d6"/>
<circle cx="511.34" cy="82.1" r="2.2" fill="#c2c7d6"/>
<circle cx="511.34" cy="106.1" r="2.2" fill="#c2c7d6"/>
<circle cx="516.49" cy="82.1" r="2.2" fill="#c2c7d6"/>
<circle cx="516.49" cy="106.1" r="2.2" fill="#c2c7d6"/>
<circle cx="521.64" cy="82.1" r="2.2" fill="#c2c7d6"/>
<circle cx="521.64" cy="106.1" r="2.2" fill="#c2c7d6"/>
<circle cx="526.78" cy="82.1" r="2.2" fill="#c2c7d6"/>
<circle cx="526.78" cy="106.1" r="2.2" fill="#c2c7d6"/>
<circle cx="531.93" cy="82.1" r="2.2" fill="#c2c7d6"/>
<circle cx="531.93" cy="106.1" r="2.2" fill="#c2c7d6"/>
<circle cx="537.08" cy="82.1" r="2.2" fill="#c2c7d6"/>
<circle cx="537.08" cy="106.1" r="2.2" fill="#c2c7d6"/>
<circle cx="542.23" cy="82.1" r="2.2" fill="#c2c7d6"/>
<circle cx="542.23" cy="106.1" r="2.2" fill="#c2c7d6"/>
<circle cx="547.38" cy="82.1" r="2.2" fill="#c2c7d6"/>
<circle cx="547.38" cy="106.1" r="2.2" fill="#c2c7d6"/>
<circle cx="552.52" cy="82.1" r="2.2" fill="#c2c7d6"/>
<circle cx="552.52" cy="106.1" r="2.2" fill="#c2c7d6"/>
<circle cx="557.67" cy="82.1" r="2.2" fill="#c2c7d6"/>
<circle cx="557.67" cy="106.1" r="2.2" fill="#c2c7d6"/>
<circle cx="562.82" cy="82.1" r="2.2" fill="#c2c7d6"/>
<circle cx="562.82" cy="106.1" r="2.2" fill="#c2c7d6"/>
<circle cx="567.97" cy="82.1" r="2.2" fill="#c2c7d6"/>
<circle cx="567.97" cy="106.1" r="2.2" fill="#c2c7d6"/>
<circle cx="573.12" cy="82.1" r="2.2" fill="#c2c7d6"/>
<circle cx="573.12" cy="106.1" r="2.2" fill="#c2c7d6"/>
<circle cx="578.26" cy="82.1" r="2.2" fill="#c2c7d6"/>
<circle cx="578.26" cy="106.1" r="2.2" fill="#c2c7d6"/>
<circle cx="583.41" cy="82.1" r="2.2" fill="#c2c7d6"/>
<circle cx="583.41" cy="106.1" r="2.2" fill="#c2c7d6"/>
<circle cx="588.56" cy="82.1" r="2.2" fill="#c2c7d6"/>
<circle cx="588.56" cy="106.1" r="2.2" fill="#c2c7d6"/>
<circle cx="593.71" cy="82.1" r="2.2" fill="#c2c7d6"/>
<circle cx="593.71" cy="106.1" r="2.2" fill="#c2c7d6"/>
<circle cx="598.86" cy="82.1" r="2.2" fill="#c2c7d6"/>
<circle cx="598.86" cy="106.1" r="2.2" fill="#c2c7d6"/>
<circle cx="604" cy="82.1" r="2.2" fill="#c2c7d6"/>
<circle cx="604" cy="106.1" r="2.2" fill="#c2c7d6"/>
<circle cx="609.15" cy="82.1" r="2.2" fill="#c2c7d6"/>
<circle cx="609.15" cy="106.1" r="2.2" fill="#c2c7d6"/>
<circle cx="614.3" cy="82.1" r="2.2" fill="#c2c7d6"/>
<circle cx="614.3" cy="106.1" r="2.2" fill="#c2c7d6"/>
<circle cx="619.45" cy="82.1" r="2.2" fill="#c2c7d6"/>
<circle cx="619.45" cy="106.1" r="2.2" fill="#c2c7d6"/>
<circle cx="624.6" cy="82.1" r="2.2" fill="#c2c7d6"/>
<circle cx="624.6" cy="106.1" r="2.2" fill="#c2c7d6"/>
<circle cx="629.74" cy="82.1" r="2.2" fill="#c2c7d6"/>
<circle cx="629.74" cy="106.1" r="2.2" fill="#c2c7d6"/>
<circle cx="634.89" cy="82.1" r="2.2" fill="#c2c7d6"/>
<circle cx="634.89" cy="106.1" r="2.2" fill="#c2c7d6"/>
<circle cx="640.04" cy="82.1" r="2.2" fill="#c2c7d6"/>
<circle cx="640.04" cy="106.1" r="2.2" fill="#c2c7d6"/>
<circle cx="645.19" cy="82.1" r="2.2" fill="#c2c7d6"/>
<circle cx="645.19" cy="106.1" r="2.2" fill="#c2c7d6"/>
<circle cx="650.34" cy="82.1" r="2.2" fill="#c2c7d6"/>
<circle cx="650.34" cy="106.1" r="2.2" fill="#c2c7d6"/>
<circle cx="655.48" cy="82.1" r="2.2" fill="#c2c7d6"/>
<circle cx="655.48" cy="106.1" r="2.2" fill="#c2c7d6"/>
<circle cx="660.63" cy="82.1" r="2.2" fill="#c2c7d6"/>
<circle cx="660.63" cy="106.1" r="2.2" fill="#c2c7d6"/>
<circle cx="665.78" cy="82.1" r="2.2" fill="#c2c7d6"/>
<circle cx="665.78" cy="106.1" r="2.2" fill="#c2c7d6"/>
<circle cx="670.93" cy="82.1" r="2.2" fill="#c2c7d6"/>
<circle cx="670.93" cy="106.1" r="2.2" fill="#c2c7d6"/>
<circle cx="676.08" cy="82.1" r="2.2" fill="#c2c7d6"/>
<circle cx="676.08" cy="106.1" r="2.2" fill="#c2c7d6"/>
<path d="M368.2 66V61.5A10.15 25.2 0 0 1 388.5 61.5V66M521 66V61.5A10 25.2 0 0 1 541 61.5V66M408.6 66V62A10.2 9.8 0 0 1 429 62V66M449.1 66V62A10.1 9.8 0 0 1 469.3 62V66M561.2 66V62A10.1 9.8 0 0 1 581.4 62V66M601.6 66V62A10.05 9.8 0 0 1 621.7 62V66M388.5 116V120A10.05 8.7 0 0 0 408.6 120V116M429 116V120A10.05 8.7 0 0 0 449.1 120V116M541 116V120A10.1 8.7 0 0 0 561.2 120V116M581.4 116V120A10.1 8.7 0 0 0 601.6 120V116M368.2 118C368.2 128 365.2 131 360.2 133C356.2 135 353.7 137 352.7 142M469.3 118C469.3 132 476.5 135.6 485.5 135.6M504.6 135.6C513.6 135.6 521 132 521 118M621.7 118C621.7 132 630.3 135.6 639.3 135.6M658.4 135.6C668.4 135.6 670.9 132 670.9 121" fill="none" stroke="#7b7b7b" stroke-width="1.5"/>
<rect x="363.2" y="61.6" width="10" height="61.3" fill="#a5d4ce" rx="4.6"/>
<rect x="383.5" y="61.6" width="10" height="61.3" fill="#a5d4ce" rx="4.6"/>
<rect x="403.6" y="61.6" width="10" height="61.3" fill="#a5d4ce" rx="4.6"/>
<rect x="424" y="61.6" width="10" height="61.3" fill="#a5d4ce" rx="4.6"/>
<rect x="444.1" y="61.6" width="10" height="61.3" fill="#a5d4ce" rx="4.6"/>
<rect x="464.3" y="61.6" width="10" height="61.3" fill="#a5d4ce" rx="4.6"/>
<rect x="516" y="61.6" width="10" height="61.3" fill="#a5d4ce" rx="4.6"/>
<rect x="536" y="61.6" width="10" height="61.3" fill="#a5d4ce" rx="4.6"/>
<rect x="556.2" y="61.6" width="10" height="61.3" fill="#a5d4ce" rx="4.6"/>
<rect x="576.4" y="61.6" width="10" height="61.3" fill="#a5d4ce" rx="4.6"/>
<rect x="596.6" y="61.6" width="10" height="61.3" fill="#a5d4ce" rx="4.6"/>
<rect x="616.7" y="61.6" width="10" height="61.3" fill="#a5d4ce" rx="4.6"/>
<rect x="482.5" y="130.6" width="25.1" height="10.1" fill="#a5d4ce" rx="5"/>
<rect x="636.3" y="130.9" width="25.1" height="9.8" fill="#a5d4ce" rx="5"/>
<text x="368.2" y="99.3" font-size="14.6" text-anchor="middle" textLength="7.4" lengthAdjust="spacingAndGlyphs">1</text>
<text x="388.5" y="99.3" font-size="14.6" text-anchor="middle" textLength="7.4" lengthAdjust="spacingAndGlyphs">2</text>
<text x="408.6" y="99.3" font-size="14.6" text-anchor="middle" textLength="7.4" lengthAdjust="spacingAndGlyphs">3</text>
<text x="429" y="99.3" font-size="14.6" text-anchor="middle" textLength="7.4" lengthAdjust="spacingAndGlyphs">4</text>
<text x="449.1" y="99.3" font-size="14.6" text-anchor="middle" textLength="7.4" lengthAdjust="spacingAndGlyphs">5</text>
<text x="469.3" y="99.3" font-size="14.6" text-anchor="middle" textLength="7.4" lengthAdjust="spacingAndGlyphs">6</text>
<text x="521" y="99.3" font-size="14.6" text-anchor="middle" textLength="7.4" lengthAdjust="spacingAndGlyphs">7</text>
<text x="541" y="99.3" font-size="14.6" text-anchor="middle" textLength="7.4" lengthAdjust="spacingAndGlyphs">8</text>
<text x="561.2" y="99.3" font-size="14.6" text-anchor="middle" textLength="7.4" lengthAdjust="spacingAndGlyphs">9</text>
<text x="581.4" y="99.3" font-size="14.6" text-anchor="middle" textLength="15" lengthAdjust="spacingAndGlyphs">10</text>
<text x="601.6" y="99.3" font-size="14.6" text-anchor="middle" textLength="15" lengthAdjust="spacingAndGlyphs">11</text>
<text x="621.7" y="99.3" font-size="14.6" text-anchor="middle" textLength="15" lengthAdjust="spacingAndGlyphs">12</text>
<path d="M364 30V23.8H477 V30" fill="none" stroke="#7b7b7b" stroke-width="1.4"/>
<path d="M516.8 30V23.8H629.6 V30" fill="none" stroke="#7b7b7b" stroke-width="1.4"/>
<circle cx="628.4" cy="9.5" r="5" fill="#a5d4ce"/>
<text x="636.8" y="14.3" font-size="14.6" textLength="42.6" lengthAdjust="spacingAndGlyphs">ABCG2</text>
<text x="401.9" y="17.9" font-size="14.6" textLength="37.6" lengthAdjust="spacingAndGlyphs">TMD1</text>
<text x="554.4" y="18" font-size="14.6" textLength="37.4" lengthAdjust="spacingAndGlyphs">TMD2</text>
<text x="408.9" y="152" font-size="14.6" textLength="48.4" lengthAdjust="spacingAndGlyphs">Chain A</text>
<text x="477.7" y="160.7" font-size="14.6" textLength="35.8" lengthAdjust="spacingAndGlyphs">NBD1</text>
<text x="561.4" y="152.2" font-size="14.6" textLength="48.2" lengthAdjust="spacingAndGlyphs">Chain B</text>
<text x="643.3" y="120.5" font-size="14.6" textLength="37.6" lengthAdjust="spacingAndGlyphs">COOH</text>
<text x="631.3" y="160.9" font-size="14.6" textLength="35.6" lengthAdjust="spacingAndGlyphs">NBD2</text>
<text x="352.6" y="154.1" font-size="14.6" textLength="18.4" lengthAdjust="spacingAndGlyphs">NH</text>
<text x="372.8" y="157.8" font-size="10.2" textLength="4.6" lengthAdjust="spacingAndGlyphs">2</text>
<text x="346" y="12.1" font-size="14.2" font-weight="bold" font-style="italic">b</text>
<path d="M6.4 237.1L5.8 243.1L6.1 248.4M8.4 237.1L9 243.1L8.7 248.4M6.4 262.1L5.8 256.1L6.1 250.8M8.4 262.1L9 256.1L8.7 250.8M13.04 237.1L12.44 243.1L12.74 248.4M15.04 237.1L15.64 243.1L15.34 248.4M13.04 262.1L12.44 256.1L12.74 250.8M15.04 262.1L15.64 256.1L15.34 250.8M19.69 237.1L19.09 243.1L19.39 248.4M21.69 237.1L22.29 243.1L21.99 248.4M19.69 262.1L19.09 256.1L19.39 250.8M21.69 262.1L22.29 256.1L21.99 250.8M26.33 237.1L25.73 243.1L26.03 248.4M28.33 237.1L28.93 243.1L28.63 248.4M26.33 262.1L25.73 256.1L26.03 250.8M28.33 262.1L28.93 256.1L28.63 250.8M32.98 237.1L32.38 243.1L32.68 248.4M34.98 237.1L35.58 243.1L35.28 248.4M32.98 262.1L32.38 256.1L32.68 250.8M34.98 262.1L35.58 256.1L35.28 250.8M39.62 237.1L39.02 243.1L39.32 248.4M41.62 237.1L42.22 243.1L41.92 248.4M39.62 262.1L39.02 256.1L39.32 250.8M41.62 262.1L42.22 256.1L41.92 250.8M46.27 237.1L45.67 243.1L45.97 248.4M48.27 237.1L48.87 243.1L48.57 248.4M46.27 262.1L45.67 256.1L45.97 250.8M48.27 262.1L48.87 256.1L48.57 250.8M52.91 237.1L52.31 243.1L52.61 248.4M54.91 237.1L55.51 243.1L55.21 248.4M52.91 262.1L52.31 256.1L52.61 250.8M54.91 262.1L55.51 256.1L55.21 250.8M59.56 237.1L58.96 243.1L59.26 248.4M61.56 237.1L62.16 243.1L61.86 248.4M59.56 262.1L58.96 256.1L59.26 250.8M61.56 262.1L62.16 256.1L61.86 250.8M66.2 237.1L65.6 243.1L65.9 248.4M68.2 237.1L68.8 243.1L68.5 248.4M66.2 262.1L65.6 256.1L65.9 250.8M68.2 262.1L68.8 256.1L68.5 250.8M72.85 237.1L72.25 243.1L72.55 248.4M74.85 237.1L75.45 243.1L75.15 248.4M72.85 262.1L72.25 256.1L72.55 250.8M74.85 262.1L75.45 256.1L75.15 250.8M79.49 237.1L78.89 243.1L79.19 248.4M81.49 237.1L82.09 243.1L81.79 248.4M79.49 262.1L78.89 256.1L79.19 250.8M81.49 262.1L82.09 256.1L81.79 250.8M86.14 237.1L85.54 243.1L85.84 248.4M88.14 237.1L88.74 243.1L88.44 248.4M86.14 262.1L85.54 256.1L85.84 250.8M88.14 262.1L88.74 256.1L88.44 250.8M92.78 237.1L92.18 243.1L92.48 248.4M94.78 237.1L95.38 243.1L95.08 248.4M92.78 262.1L92.18 256.1L92.48 250.8M94.78 262.1L95.38 256.1L95.08 250.8M99.43 237.1L98.83 243.1L99.13 248.4M101.43 237.1L102.03 243.1L101.73 248.4M99.43 262.1L98.83 256.1L99.13 250.8M101.43 262.1L102.03 256.1L101.73 250.8M106.07 237.1L105.47 243.1L105.77 248.4M108.07 237.1L108.67 243.1L108.37 248.4M106.07 262.1L105.47 256.1L105.77 250.8M108.07 262.1L108.67 256.1L108.37 250.8M112.71 237.1L112.11 243.1L112.41 248.4M114.71 237.1L115.31 243.1L115.01 248.4M112.71 262.1L112.11 256.1L112.41 250.8M114.71 262.1L115.31 256.1L115.01 250.8M119.36 237.1L118.76 243.1L119.06 248.4M121.36 237.1L121.96 243.1L121.66 248.4M119.36 262.1L118.76 256.1L119.06 250.8M121.36 262.1L121.96 256.1L121.66 250.8M126 237.1L125.4 243.1L125.7 248.4M128 237.1L128.6 243.1L128.3 248.4M126 262.1L125.4 256.1L125.7 250.8M128 262.1L128.6 256.1L128.3 250.8M132.65 237.1L132.05 243.1L132.35 248.4M134.65 237.1L135.25 243.1L134.95 248.4M132.65 262.1L132.05 256.1L132.35 250.8M134.65 262.1L135.25 256.1L134.95 250.8M139.29 237.1L138.69 243.1L138.99 248.4M141.29 237.1L141.89 243.1L141.59 248.4M139.29 262.1L138.69 256.1L138.99 250.8M141.29 262.1L141.89 256.1L141.59 250.8M145.94 237.1L145.34 243.1L145.64 248.4M147.94 237.1L148.54 243.1L148.24 248.4M145.94 262.1L145.34 256.1L145.64 250.8M147.94 262.1L148.54 256.1L148.24 250.8M152.58 237.1L151.98 243.1L152.28 248.4M154.58 237.1L155.18 243.1L154.88 248.4M152.58 262.1L151.98 256.1L152.28 250.8M154.58 262.1L155.18 256.1L154.88 250.8M159.23 237.1L158.63 243.1L158.93 248.4M161.23 237.1L161.83 243.1L161.53 248.4M159.23 262.1L158.63 256.1L158.93 250.8M161.23 262.1L161.83 256.1L161.53 250.8M165.87 237.1L165.27 243.1L165.57 248.4M167.87 237.1L168.47 243.1L168.17 248.4M165.87 262.1L165.27 256.1L165.57 250.8M167.87 262.1L168.47 256.1L168.17 250.8M172.52 237.1L171.92 243.1L172.22 248.4M174.52 237.1L175.12 243.1L174.82 248.4M172.52 262.1L171.92 256.1L172.22 250.8M174.52 262.1L175.12 256.1L174.82 250.8M179.16 237.1L178.56 243.1L178.86 248.4M181.16 237.1L181.76 243.1L181.46 248.4M179.16 262.1L178.56 256.1L178.86 250.8M181.16 262.1L181.76 256.1L181.46 250.8M185.81 237.1L185.21 243.1L185.51 248.4M187.81 237.1L188.41 243.1L188.11 248.4M185.81 262.1L185.21 256.1L185.51 250.8M187.81 262.1L188.41 256.1L188.11 250.8M192.45 237.1L191.85 243.1L192.15 248.4M194.45 237.1L195.05 243.1L194.75 248.4M192.45 262.1L191.85 256.1L192.15 250.8M194.45 262.1L195.05 256.1L194.75 250.8M199.1 237.1L198.5 243.1L198.8 248.4M201.1 237.1L201.7 243.1L201.4 248.4M199.1 262.1L198.5 256.1L198.8 250.8M201.1 262.1L201.7 256.1L201.4 250.8M205.74 237.1L205.14 243.1L205.44 248.4M207.74 237.1L208.34 243.1L208.04 248.4M205.74 262.1L205.14 256.1L205.44 250.8M207.74 262.1L208.34 256.1L208.04 250.8M212.39 237.1L211.79 243.1L212.09 248.4M214.39 237.1L214.99 243.1L214.69 248.4M212.39 262.1L211.79 256.1L212.09 250.8M214.39 262.1L214.99 256.1L214.69 250.8M219.03 237.1L218.43 243.1L218.73 248.4M221.03 237.1L221.63 243.1L221.33 248.4M219.03 262.1L218.43 256.1L218.73 250.8M221.03 262.1L221.63 256.1L221.33 250.8M225.67 237.1L225.07 243.1L225.37 248.4M227.67 237.1L228.27 243.1L227.97 248.4M225.67 262.1L225.07 256.1L225.37 250.8M227.67 262.1L228.27 256.1L227.97 250.8M232.32 237.1L231.72 243.1L232.02 248.4M234.32 237.1L234.92 243.1L234.62 248.4M232.32 262.1L231.72 256.1L232.02 250.8M234.32 262.1L234.92 256.1L234.62 250.8M238.96 237.1L238.36 243.1L238.66 248.4M240.96 237.1L241.56 243.1L241.26 248.4M238.96 262.1L238.36 256.1L238.66 250.8M240.96 262.1L241.56 256.1L241.26 250.8M245.61 237.1L245.01 243.1L245.31 248.4M247.61 237.1L248.21 243.1L247.91 248.4M245.61 262.1L245.01 256.1L245.31 250.8M247.61 262.1L248.21 256.1L247.91 250.8M252.25 237.1L251.65 243.1L251.95 248.4M254.25 237.1L254.85 243.1L254.55 248.4M252.25 262.1L251.65 256.1L251.95 250.8M254.25 262.1L254.85 256.1L254.55 250.8M258.9 237.1L258.3 243.1L258.6 248.4M260.9 237.1L261.5 243.1L261.2 248.4M258.9 262.1L258.3 256.1L258.6 250.8M260.9 262.1L261.5 256.1L261.2 250.8M265.54 237.1L264.94 243.1L265.24 248.4M267.54 237.1L268.14 243.1L267.84 248.4M265.54 262.1L264.94 256.1L265.24 250.8M267.54 262.1L268.14 256.1L267.84 250.8M272.19 237.1L271.59 243.1L271.89 248.4M274.19 237.1L274.79 243.1L274.49 248.4M272.19 262.1L271.59 256.1L271.89 250.8M274.19 262.1L274.79 256.1L274.49 250.8M278.83 237.1L278.23 243.1L278.53 248.4M280.83 237.1L281.43 243.1L281.13 248.4M278.83 262.1L278.23 256.1L278.53 250.8M280.83 262.1L281.43 256.1L281.13 250.8M285.48 237.1L284.88 243.1L285.18 248.4M287.48 237.1L288.08 243.1L287.78 248.4M285.48 262.1L284.88 256.1L285.18 250.8M287.48 262.1L288.08 256.1L287.78 250.8M292.12 237.1L291.52 243.1L291.82 248.4M294.12 237.1L294.72 243.1L294.42 248.4M292.12 262.1L291.52 256.1L291.82 250.8M294.12 262.1L294.72 256.1L294.42 250.8M298.77 237.1L298.17 243.1L298.47 248.4M300.77 237.1L301.37 243.1L301.07 248.4M298.77 262.1L298.17 256.1L298.47 250.8M300.77 262.1L301.37 256.1L301.07 250.8M305.41 237.1L304.81 243.1L305.11 248.4M307.41 237.1L308.01 243.1L307.71 248.4M305.41 262.1L304.81 256.1L305.11 250.8M307.41 262.1L308.01 256.1L307.71 250.8M312.06 237.1L311.46 243.1L311.76 248.4M314.06 237.1L314.66 243.1L314.36 248.4M312.06 262.1L311.46 256.1L311.76 250.8M314.06 262.1L314.66 256.1L314.36 250.8M318.7 237.1L318.1 243.1L318.4 248.4M320.7 237.1L321.3 243.1L321 248.4M318.7 262.1L318.1 256.1L318.4 250.8M320.7 262.1L321.3 256.1L321 250.8" fill="none" stroke="#d9e4ef" stroke-width="0.75"/>
<circle cx="7.4" cy="234.6" r="2.85" fill="#c5ccd8"/>
<circle cx="7.4" cy="264.6" r="2.85" fill="#c5ccd8"/>
<circle cx="14.04" cy="234.6" r="2.85" fill="#c5ccd8"/>
<circle cx="14.04" cy="264.6" r="2.85" fill="#c5ccd8"/>
<circle cx="20.69" cy="234.6" r="2.85" fill="#c5ccd8"/>
<circle cx="20.69" cy="264.6" r="2.85" fill="#c5ccd8"/>
<circle cx="27.33" cy="234.6" r="2.85" fill="#c5ccd8"/>
<circle cx="27.33" cy="264.6" r="2.85" fill="#c5ccd8"/>
<circle cx="33.98" cy="234.6" r="2.85" fill="#c5ccd8"/>
<circle cx="33.98" cy="264.6" r="2.85" fill="#c5ccd8"/>
<circle cx="40.62" cy="234.6" r="2.85" fill="#c5ccd8"/>
<circle cx="40.62" cy="264.6" r="2.85" fill="#c5ccd8"/>
<circle cx="47.27" cy="234.6" r="2.85" fill="#c5ccd8"/>
<circle cx="47.27" cy="264.6" r="2.85" fill="#c5ccd8"/>
<circle cx="53.91" cy="234.6" r="2.85" fill="#c5ccd8"/>
<circle cx="53.91" cy="264.6" r="2.85" fill="#c5ccd8"/>
<circle cx="60.56" cy="234.6" r="2.85" fill="#c5ccd8"/>
<circle cx="60.56" cy="264.6" r="2.85" fill="#c5ccd8"/>
<circle cx="67.2" cy="234.6" r="2.85" fill="#c5ccd8"/>
<circle cx="67.2" cy="264.6" r="2.85" fill="#c5ccd8"/>
<circle cx="73.85" cy="234.6" r="2.85" fill="#c5ccd8"/>
<circle cx="73.85" cy="264.6" r="2.85" fill="#c5ccd8"/>
<circle cx="80.49" cy="234.6" r="2.85" fill="#c5ccd8"/>
<circle cx="80.49" cy="264.6" r="2.85" fill="#c5ccd8"/>
<circle cx="87.14" cy="234.6" r="2.85" fill="#c5ccd8"/>
<circle cx="87.14" cy="264.6" r="2.85" fill="#c5ccd8"/>
<circle cx="93.78" cy="234.6" r="2.85" fill="#c5ccd8"/>
<circle cx="93.78" cy="264.6" r="2.85" fill="#c5ccd8"/>
<circle cx="100.43" cy="234.6" r="2.85" fill="#c5ccd8"/>
<circle cx="100.43" cy="264.6" r="2.85" fill="#c5ccd8"/>
<circle cx="107.07" cy="234.6" r="2.85" fill="#c5ccd8"/>
<circle cx="107.07" cy="264.6" r="2.85" fill="#c5ccd8"/>
<circle cx="113.71" cy="234.6" r="2.85" fill="#c5ccd8"/>
<circle cx="113.71" cy="264.6" r="2.85" fill="#c5ccd8"/>
<circle cx="120.36" cy="234.6" r="2.85" fill="#c5ccd8"/>
<circle cx="120.36" cy="264.6" r="2.85" fill="#c5ccd8"/>
<circle cx="127" cy="234.6" r="2.85" fill="#c5ccd8"/>
<circle cx="127" cy="264.6" r="2.85" fill="#c5ccd8"/>
<circle cx="133.65" cy="234.6" r="2.85" fill="#c5ccd8"/>
<circle cx="133.65" cy="264.6" r="2.85" fill="#c5ccd8"/>
<circle cx="140.29" cy="234.6" r="2.85" fill="#c5ccd8"/>
<circle cx="140.29" cy="264.6" r="2.85" fill="#c5ccd8"/>
<circle cx="146.94" cy="234.6" r="2.85" fill="#c5ccd8"/>
<circle cx="146.94" cy="264.6" r="2.85" fill="#c5ccd8"/>
<circle cx="153.58" cy="234.6" r="2.85" fill="#c5ccd8"/>
<circle cx="153.58" cy="264.6" r="2.85" fill="#c5ccd8"/>
<circle cx="160.23" cy="234.6" r="2.85" fill="#c5ccd8"/>
<circle cx="160.23" cy="264.6" r="2.85" fill="#c5ccd8"/>
<circle cx="166.87" cy="234.6" r="2.85" fill="#c5ccd8"/>
<circle cx="166.87" cy="264.6" r="2.85" fill="#c5ccd8"/>
<circle cx="173.52" cy="234.6" r="2.85" fill="#c5ccd8"/>
<circle cx="173.52" cy="264.6" r="2.85" fill="#c5ccd8"/>
<circle cx="180.16" cy="234.6" r="2.85" fill="#c5ccd8"/>
<circle cx="180.16" cy="264.6" r="2.85" fill="#c5ccd8"/>
<circle cx="186.81" cy="234.6" r="2.85" fill="#c5ccd8"/>
<circle cx="186.81" cy="264.6" r="2.85" fill="#c5ccd8"/>
<circle cx="193.45" cy="234.6" r="2.85" fill="#c5ccd8"/>
<circle cx="193.45" cy="264.6" r="2.85" fill="#c5ccd8"/>
<circle cx="200.1" cy="234.6" r="2.85" fill="#c5ccd8"/>
<circle cx="200.1" cy="264.6" r="2.85" fill="#c5ccd8"/>
<circle cx="206.74" cy="234.6" r="2.85" fill="#c5ccd8"/>
<circle cx="206.74" cy="264.6" r="2.85" fill="#c5ccd8"/>
<circle cx="213.39" cy="234.6" r="2.85" fill="#c5ccd8"/>
<circle cx="213.39" cy="264.6" r="2.85" fill="#c5ccd8"/>
<circle cx="220.03" cy="234.6" r="2.85" fill="#c5ccd8"/>
<circle cx="220.03" cy="264.6" r="2.85" fill="#c5ccd8"/>
<circle cx="226.67" cy="234.6" r="2.85" fill="#c5ccd8"/>
<circle cx="226.67" cy="264.6" r="2.85" fill="#c5ccd8"/>
<circle cx="233.32" cy="234.6" r="2.85" fill="#c5ccd8"/>
<circle cx="233.32" cy="264.6" r="2.85" fill="#c5ccd8"/>
<circle cx="239.96" cy="234.6" r="2.85" fill="#c5ccd8"/>
<circle cx="239.96" cy="264.6" r="2.85" fill="#c5ccd8"/>
<circle cx="246.61" cy="234.6" r="2.85" fill="#c5ccd8"/>
<circle cx="246.61" cy="264.6" r="2.85" fill="#c5ccd8"/>
<circle cx="253.25" cy="234.6" r="2.85" fill="#c5ccd8"/>
<circle cx="253.25" cy="264.6" r="2.85" fill="#c5ccd8"/>
<circle cx="259.9" cy="234.6" r="2.85" fill="#c5ccd8"/>
<circle cx="259.9" cy="264.6" r="2.85" fill="#c5ccd8"/>
<circle cx="266.54" cy="234.6" r="2.85" fill="#c5ccd8"/>
<circle cx="266.54" cy="264.6" r="2.85" fill="#c5ccd8"/>
<circle cx="273.19" cy="234.6" r="2.85" fill="#c5ccd8"/>
<circle cx="273.19" cy="264.6" r="2.85" fill="#c5ccd8"/>
<circle cx="279.83" cy="234.6" r="2.85" fill="#c5ccd8"/>
<circle cx="279.83" cy="264.6" r="2.85" fill="#c5ccd8"/>
<circle cx="286.48" cy="234.6" r="2.85" fill="#c5ccd8"/>
<circle cx="286.48" cy="264.6" r="2.85" fill="#c5ccd8"/>
<circle cx="293.12" cy="234.6" r="2.85" fill="#c5ccd8"/>
<circle cx="293.12" cy="264.6" r="2.85" fill="#c5ccd8"/>
<circle cx="299.77" cy="234.6" r="2.85" fill="#c5ccd8"/>
<circle cx="299.77" cy="264.6" r="2.85" fill="#c5ccd8"/>
<circle cx="306.41" cy="234.6" r="2.85" fill="#c5ccd8"/>
<circle cx="306.41" cy="264.6" r="2.85" fill="#c5ccd8"/>
<circle cx="313.06" cy="234.6" r="2.85" fill="#c5ccd8"/>
<circle cx="313.06" cy="264.6" r="2.85" fill="#c5ccd8"/>
<circle cx="319.7" cy="234.6" r="2.85" fill="#c5ccd8"/>
<circle cx="319.7" cy="264.6" r="2.85" fill="#c5ccd8"/>
<path d="M6.6 377.3L6 383.3L6.3 388.65M8.6 377.3L9.2 383.3L8.9 388.65M6.6 402.4L6 396.4L6.3 391.05M8.6 402.4L9.2 396.4L8.9 391.05M13.24 377.3L12.64 383.3L12.94 388.65M15.24 377.3L15.84 383.3L15.54 388.65M13.24 402.4L12.64 396.4L12.94 391.05M15.24 402.4L15.84 396.4L15.54 391.05M19.88 377.3L19.28 383.3L19.58 388.65M21.88 377.3L22.48 383.3L22.18 388.65M19.88 402.4L19.28 396.4L19.58 391.05M21.88 402.4L22.48 396.4L22.18 391.05M26.52 377.3L25.92 383.3L26.22 388.65M28.52 377.3L29.12 383.3L28.82 388.65M26.52 402.4L25.92 396.4L26.22 391.05M28.52 402.4L29.12 396.4L28.82 391.05M33.16 377.3L32.56 383.3L32.86 388.65M35.16 377.3L35.76 383.3L35.46 388.65M33.16 402.4L32.56 396.4L32.86 391.05M35.16 402.4L35.76 396.4L35.46 391.05M39.8 377.3L39.2 383.3L39.5 388.65M41.8 377.3L42.4 383.3L42.1 388.65M39.8 402.4L39.2 396.4L39.5 391.05M41.8 402.4L42.4 396.4L42.1 391.05M46.44 377.3L45.84 383.3L46.14 388.65M48.44 377.3L49.04 383.3L48.74 388.65M46.44 402.4L45.84 396.4L46.14 391.05M48.44 402.4L49.04 396.4L48.74 391.05M53.08 377.3L52.48 383.3L52.78 388.65M55.08 377.3L55.68 383.3L55.38 388.65M53.08 402.4L52.48 396.4L52.78 391.05M55.08 402.4L55.68 396.4L55.38 391.05M59.72 377.3L59.12 383.3L59.42 388.65M61.72 377.3L62.32 383.3L62.02 388.65M59.72 402.4L59.12 396.4L59.42 391.05M61.72 402.4L62.32 396.4L62.02 391.05M66.36 377.3L65.76 383.3L66.06 388.65M68.36 377.3L68.96 383.3L68.66 388.65M66.36 402.4L65.76 396.4L66.06 391.05M68.36 402.4L68.96 396.4L68.66 391.05M73 377.3L72.4 383.3L72.7 388.65M75 377.3L75.6 383.3L75.3 388.65M73 402.4L72.4 396.4L72.7 391.05M75 402.4L75.6 396.4L75.3 391.05M79.64 377.3L79.04 383.3L79.34 388.65M81.64 377.3L82.24 383.3L81.94 388.65M79.64 402.4L79.04 396.4L79.34 391.05M81.64 402.4L82.24 396.4L81.94 391.05M86.29 377.3L85.69 383.3L85.99 388.65M88.29 377.3L88.89 383.3L88.59 388.65M86.29 402.4L85.69 396.4L85.99 391.05M88.29 402.4L88.89 396.4L88.59 391.05M92.93 377.3L92.33 383.3L92.63 388.65M94.93 377.3L95.53 383.3L95.23 388.65M92.93 402.4L92.33 396.4L92.63 391.05M94.93 402.4L95.53 396.4L95.23 391.05M99.57 377.3L98.97 383.3L99.27 388.65M101.57 377.3L102.17 383.3L101.87 388.65M99.57 402.4L98.97 396.4L99.27 391.05M101.57 402.4L102.17 396.4L101.87 391.05M106.21 377.3L105.61 383.3L105.91 388.65M108.21 377.3L108.81 383.3L108.51 388.65M106.21 402.4L105.61 396.4L105.91 391.05M108.21 402.4L108.81 396.4L108.51 391.05M112.85 377.3L112.25 383.3L112.55 388.65M114.85 377.3L115.45 383.3L115.15 388.65M112.85 402.4L112.25 396.4L112.55 391.05M114.85 402.4L115.45 396.4L115.15 391.05M119.49 377.3L118.89 383.3L119.19 388.65M121.49 377.3L122.09 383.3L121.79 388.65M119.49 402.4L118.89 396.4L119.19 391.05M121.49 402.4L122.09 396.4L121.79 391.05M126.13 377.3L125.53 383.3L125.83 388.65M128.13 377.3L128.73 383.3L128.43 388.65M126.13 402.4L125.53 396.4L125.83 391.05M128.13 402.4L128.73 396.4L128.43 391.05M132.77 377.3L132.17 383.3L132.47 388.65M134.77 377.3L135.37 383.3L135.07 388.65M132.77 402.4L132.17 396.4L132.47 391.05M134.77 402.4L135.37 396.4L135.07 391.05M139.41 377.3L138.81 383.3L139.11 388.65M141.41 377.3L142.01 383.3L141.71 388.65M139.41 402.4L138.81 396.4L139.11 391.05M141.41 402.4L142.01 396.4L141.71 391.05M146.05 377.3L145.45 383.3L145.75 388.65M148.05 377.3L148.65 383.3L148.35 388.65M146.05 402.4L145.45 396.4L145.75 391.05M148.05 402.4L148.65 396.4L148.35 391.05M152.69 377.3L152.09 383.3L152.39 388.65M154.69 377.3L155.29 383.3L154.99 388.65M152.69 402.4L152.09 396.4L152.39 391.05M154.69 402.4L155.29 396.4L154.99 391.05M159.33 377.3L158.73 383.3L159.03 388.65M161.33 377.3L161.93 383.3L161.63 388.65M159.33 402.4L158.73 396.4L159.03 391.05M161.33 402.4L161.93 396.4L161.63 391.05M165.97 377.3L165.37 383.3L165.67 388.65M167.97 377.3L168.57 383.3L168.27 388.65M165.97 402.4L165.37 396.4L165.67 391.05M167.97 402.4L168.57 396.4L168.27 391.05M172.61 377.3L172.01 383.3L172.31 388.65M174.61 377.3L175.21 383.3L174.91 388.65M172.61 402.4L172.01 396.4L172.31 391.05M174.61 402.4L175.21 396.4L174.91 391.05M179.25 377.3L178.65 383.3L178.95 388.65M181.25 377.3L181.85 383.3L181.55 388.65M179.25 402.4L178.65 396.4L178.95 391.05M181.25 402.4L181.85 396.4L181.55 391.05M185.89 377.3L185.29 383.3L185.59 388.65M187.89 377.3L188.49 383.3L188.19 388.65M185.89 402.4L185.29 396.4L185.59 391.05M187.89 402.4L188.49 396.4L188.19 391.05M192.53 377.3L191.93 383.3L192.23 388.65M194.53 377.3L195.13 383.3L194.83 388.65M192.53 402.4L191.93 396.4L192.23 391.05M194.53 402.4L195.13 396.4L194.83 391.05M199.17 377.3L198.57 383.3L198.87 388.65M201.17 377.3L201.77 383.3L201.47 388.65M199.17 402.4L198.57 396.4L198.87 391.05M201.17 402.4L201.77 396.4L201.47 391.05M205.81 377.3L205.21 383.3L205.51 388.65M207.81 377.3L208.41 383.3L208.11 388.65M205.81 402.4L205.21 396.4L205.51 391.05M207.81 402.4L208.41 396.4L208.11 391.05M212.45 377.3L211.85 383.3L212.15 388.65M214.45 377.3L215.05 383.3L214.75 388.65M212.45 402.4L211.85 396.4L212.15 391.05M214.45 402.4L215.05 396.4L214.75 391.05M219.09 377.3L218.49 383.3L218.79 388.65M221.09 377.3L221.69 383.3L221.39 388.65M219.09 402.4L218.49 396.4L218.79 391.05M221.09 402.4L221.69 396.4L221.39 391.05M225.73 377.3L225.13 383.3L225.43 388.65M227.73 377.3L228.33 383.3L228.03 388.65M225.73 402.4L225.13 396.4L225.43 391.05M227.73 402.4L228.33 396.4L228.03 391.05M232.37 377.3L231.77 383.3L232.07 388.65M234.37 377.3L234.97 383.3L234.67 388.65M232.37 402.4L231.77 396.4L232.07 391.05M234.37 402.4L234.97 396.4L234.67 391.05M239.01 377.3L238.41 383.3L238.71 388.65M241.01 377.3L241.61 383.3L241.31 388.65M239.01 402.4L238.41 396.4L238.71 391.05M241.01 402.4L241.61 396.4L241.31 391.05M245.66 377.3L245.06 383.3L245.36 388.65M247.66 377.3L248.26 383.3L247.96 388.65M245.66 402.4L245.06 396.4L245.36 391.05M247.66 402.4L248.26 396.4L247.96 391.05M252.3 377.3L251.7 383.3L252 388.65M254.3 377.3L254.9 383.3L254.6 388.65M252.3 402.4L251.7 396.4L252 391.05M254.3 402.4L254.9 396.4L254.6 391.05M258.94 377.3L258.34 383.3L258.64 388.65M260.94 377.3L261.54 383.3L261.24 388.65M258.94 402.4L258.34 396.4L258.64 391.05M260.94 402.4L261.54 396.4L261.24 391.05M265.58 377.3L264.98 383.3L265.28 388.65M267.58 377.3L268.18 383.3L267.88 388.65M265.58 402.4L264.98 396.4L265.28 391.05M267.58 402.4L268.18 396.4L267.88 391.05M272.22 377.3L271.62 383.3L271.92 388.65M274.22 377.3L274.82 383.3L274.52 388.65M272.22 402.4L271.62 396.4L271.92 391.05M274.22 402.4L274.82 396.4L274.52 391.05M278.86 377.3L278.26 383.3L278.56 388.65M280.86 377.3L281.46 383.3L281.16 388.65M278.86 402.4L278.26 396.4L278.56 391.05M280.86 402.4L281.46 396.4L281.16 391.05M285.5 377.3L284.9 383.3L285.2 388.65M287.5 377.3L288.1 383.3L287.8 388.65M285.5 402.4L284.9 396.4L285.2 391.05M287.5 402.4L288.1 396.4L287.8 391.05M292.14 377.3L291.54 383.3L291.84 388.65M294.14 377.3L294.74 383.3L294.44 388.65M292.14 402.4L291.54 396.4L291.84 391.05M294.14 402.4L294.74 396.4L294.44 391.05M298.78 377.3L298.18 383.3L298.48 388.65M300.78 377.3L301.38 383.3L301.08 388.65M298.78 402.4L298.18 396.4L298.48 391.05M300.78 402.4L301.38 396.4L301.08 391.05M305.42 377.3L304.82 383.3L305.12 388.65M307.42 377.3L308.02 383.3L307.72 388.65M305.42 402.4L304.82 396.4L305.12 391.05M307.42 402.4L308.02 396.4L307.72 391.05M312.06 377.3L311.46 383.3L311.76 388.65M314.06 377.3L314.66 383.3L314.36 388.65M312.06 402.4L311.46 396.4L311.76 391.05M314.06 402.4L314.66 396.4L314.36 391.05M318.7 377.3L318.1 383.3L318.4 388.65M320.7 377.3L321.3 383.3L321 388.65M318.7 402.4L318.1 396.4L318.4 391.05M320.7 402.4L321.3 396.4L321 391.05" fill="none" stroke="#d9e4ef" stroke-width="0.75"/>
<circle cx="7.6" cy="374.8" r="2.85" fill="#c5ccd8"/>
<circle cx="7.6" cy="404.9" r="2.85" fill="#c5ccd8"/>
<circle cx="14.24" cy="374.8" r="2.85" fill="#c5ccd8"/>
<circle cx="14.24" cy="404.9" r="2.85" fill="#c5ccd8"/>
<circle cx="20.88" cy="374.8" r="2.85" fill="#c5ccd8"/>
<circle cx="20.88" cy="404.9" r="2.85" fill="#c5ccd8"/>
<circle cx="27.52" cy="374.8" r="2.85" fill="#c5ccd8"/>
<circle cx="27.52" cy="404.9" r="2.85" fill="#c5ccd8"/>
<circle cx="34.16" cy="374.8" r="2.85" fill="#c5ccd8"/>
<circle cx="34.16" cy="404.9" r="2.85" fill="#c5ccd8"/>
<circle cx="40.8" cy="374.8" r="2.85" fill="#c5ccd8"/>
<circle cx="40.8" cy="404.9" r="2.85" fill="#c5ccd8"/>
<circle cx="47.44" cy="374.8" r="2.85" fill="#c5ccd8"/>
<circle cx="47.44" cy="404.9" r="2.85" fill="#c5ccd8"/>
<circle cx="54.08" cy="374.8" r="2.85" fill="#c5ccd8"/>
<circle cx="54.08" cy="404.9" r="2.85" fill="#c5ccd8"/>
<circle cx="60.72" cy="374.8" r="2.85" fill="#c5ccd8"/>
<circle cx="60.72" cy="404.9" r="2.85" fill="#c5ccd8"/>
<circle cx="67.36" cy="374.8" r="2.85" fill="#c5ccd8"/>
<circle cx="67.36" cy="404.9" r="2.85" fill="#c5ccd8"/>
<circle cx="74" cy="374.8" r="2.85" fill="#c5ccd8"/>
<circle cx="74" cy="404.9" r="2.85" fill="#c5ccd8"/>
<circle cx="80.64" cy="374.8" r="2.85" fill="#c5ccd8"/>
<circle cx="80.64" cy="404.9" r="2.85" fill="#c5ccd8"/>
<circle cx="87.29" cy="374.8" r="2.85" fill="#c5ccd8"/>
<circle cx="87.29" cy="404.9" r="2.85" fill="#c5ccd8"/>
<circle cx="93.93" cy="374.8" r="2.85" fill="#c5ccd8"/>
<circle cx="93.93" cy="404.9" r="2.85" fill="#c5ccd8"/>
<circle cx="100.57" cy="374.8" r="2.85" fill="#c5ccd8"/>
<circle cx="100.57" cy="404.9" r="2.85" fill="#c5ccd8"/>
<circle cx="107.21" cy="374.8" r="2.85" fill="#c5ccd8"/>
<circle cx="107.21" cy="404.9" r="2.85" fill="#c5ccd8"/>
<circle cx="113.85" cy="374.8" r="2.85" fill="#c5ccd8"/>
<circle cx="113.85" cy="404.9" r="2.85" fill="#c5ccd8"/>
<circle cx="120.49" cy="374.8" r="2.85" fill="#c5ccd8"/>
<circle cx="120.49" cy="404.9" r="2.85" fill="#c5ccd8"/>
<circle cx="127.13" cy="374.8" r="2.85" fill="#c5ccd8"/>
<circle cx="127.13" cy="404.9" r="2.85" fill="#c5ccd8"/>
<circle cx="133.77" cy="374.8" r="2.85" fill="#c5ccd8"/>
<circle cx="133.77" cy="404.9" r="2.85" fill="#c5ccd8"/>
<circle cx="140.41" cy="374.8" r="2.85" fill="#c5ccd8"/>
<circle cx="140.41" cy="404.9" r="2.85" fill="#c5ccd8"/>
<circle cx="147.05" cy="374.8" r="2.85" fill="#c5ccd8"/>
<circle cx="147.05" cy="404.9" r="2.85" fill="#c5ccd8"/>
<circle cx="153.69" cy="374.8" r="2.85" fill="#c5ccd8"/>
<circle cx="153.69" cy="404.9" r="2.85" fill="#c5ccd8"/>
<circle cx="160.33" cy="374.8" r="2.85" fill="#c5ccd8"/>
<circle cx="160.33" cy="404.9" r="2.85" fill="#c5ccd8"/>
<circle cx="166.97" cy="374.8" r="2.85" fill="#c5ccd8"/>
<circle cx="166.97" cy="404.9" r="2.85" fill="#c5ccd8"/>
<circle cx="173.61" cy="374.8" r="2.85" fill="#c5ccd8"/>
<circle cx="173.61" cy="404.9" r="2.85" fill="#c5ccd8"/>
<circle cx="180.25" cy="374.8" r="2.85" fill="#c5ccd8"/>
<circle cx="180.25" cy="404.9" r="2.85" fill="#c5ccd8"/>
<circle cx="186.89" cy="374.8" r="2.85" fill="#c5ccd8"/>
<circle cx="186.89" cy="404.9" r="2.85" fill="#c5ccd8"/>
<circle cx="193.53" cy="374.8" r="2.85" fill="#c5ccd8"/>
<circle cx="193.53" cy="404.9" r="2.85" fill="#c5ccd8"/>
<circle cx="200.17" cy="374.8" r="2.85" fill="#c5ccd8"/>
<circle cx="200.17" cy="404.9" r="2.85" fill="#c5ccd8"/>
<circle cx="206.81" cy="374.8" r="2.85" fill="#c5ccd8"/>
<circle cx="206.81" cy="404.9" r="2.85" fill="#c5ccd8"/>
<circle cx="213.45" cy="374.8" r="2.85" fill="#c5ccd8"/>
<circle cx="213.45" cy="404.9" r="2.85" fill="#c5ccd8"/>
<circle cx="220.09" cy="374.8" r="2.85" fill="#c5ccd8"/>
<circle cx="220.09" cy="404.9" r="2.85" fill="#c5ccd8"/>
<circle cx="226.73" cy="374.8" r="2.85" fill="#c5ccd8"/>
<circle cx="226.73" cy="404.9" r="2.85" fill="#c5ccd8"/>
<circle cx="233.37" cy="374.8" r="2.85" fill="#c5ccd8"/>
<circle cx="233.37" cy="404.9" r="2.85" fill="#c5ccd8"/>
<circle cx="240.01" cy="374.8" r="2.85" fill="#c5ccd8"/>
<circle cx="240.01" cy="404.9" r="2.85" fill="#c5ccd8"/>
<circle cx="246.66" cy="374.8" r="2.85" fill="#c5ccd8"/>
<circle cx="246.66" cy="404.9" r="2.85" fill="#c5ccd8"/>
<circle cx="253.3" cy="374.8" r="2.85" fill="#c5ccd8"/>
<circle cx="253.3" cy="404.9" r="2.85" fill="#c5ccd8"/>
<circle cx="259.94" cy="374.8" r="2.85" fill="#c5ccd8"/>
<circle cx="259.94" cy="404.9" r="2.85" fill="#c5ccd8"/>
<circle cx="266.58" cy="374.8" r="2.85" fill="#c5ccd8"/>
<circle cx="266.58" cy="404.9" r="2.85" fill="#c5ccd8"/>
<circle cx="273.22" cy="374.8" r="2.85" fill="#c5ccd8"/>
<circle cx="273.22" cy="404.9" r="2.85" fill="#c5ccd8"/>
<circle cx="279.86" cy="374.8" r="2.85" fill="#c5ccd8"/>
<circle cx="279.86" cy="404.9" r="2.85" fill="#c5ccd8"/>
<circle cx="286.5" cy="374.8" r="2.85" fill="#c5ccd8"/>
<circle cx="286.5" cy="404.9" r="2.85" fill="#c5ccd8"/>
<circle cx="293.14" cy="374.8" r="2.85" fill="#c5ccd8"/>
<circle cx="293.14" cy="404.9" r="2.85" fill="#c5ccd8"/>
<circle cx="299.78" cy="374.8" r="2.85" fill="#c5ccd8"/>
<circle cx="299.78" cy="404.9" r="2.85" fill="#c5ccd8"/>
<circle cx="306.42" cy="374.8" r="2.85" fill="#c5ccd8"/>
<circle cx="306.42" cy="404.9" r="2.85" fill="#c5ccd8"/>
<circle cx="313.06" cy="374.8" r="2.85" fill="#c5ccd8"/>
<circle cx="313.06" cy="404.9" r="2.85" fill="#c5ccd8"/>
<circle cx="319.7" cy="374.8" r="2.85" fill="#c5ccd8"/>
<circle cx="319.7" cy="404.9" r="2.85" fill="#c5ccd8"/>
<path d="M361.2 237.2L360.6 243.2L360.9 248.45M363.2 237.2L363.8 243.2L363.5 248.45M361.2 262.1L360.6 256.1L360.9 250.85M363.2 262.1L363.8 256.1L363.5 250.85M367.83 237.2L367.23 243.2L367.53 248.45M369.83 237.2L370.43 243.2L370.13 248.45M367.83 262.1L367.23 256.1L367.53 250.85M369.83 262.1L370.43 256.1L370.13 250.85M374.46 237.2L373.86 243.2L374.16 248.45M376.46 237.2L377.06 243.2L376.76 248.45M374.46 262.1L373.86 256.1L374.16 250.85M376.46 262.1L377.06 256.1L376.76 250.85M381.1 237.2L380.5 243.2L380.8 248.45M383.1 237.2L383.7 243.2L383.4 248.45M381.1 262.1L380.5 256.1L380.8 250.85M383.1 262.1L383.7 256.1L383.4 250.85M387.73 237.2L387.13 243.2L387.43 248.45M389.73 237.2L390.33 243.2L390.03 248.45M387.73 262.1L387.13 256.1L387.43 250.85M389.73 262.1L390.33 256.1L390.03 250.85M394.36 237.2L393.76 243.2L394.06 248.45M396.36 237.2L396.96 243.2L396.66 248.45M394.36 262.1L393.76 256.1L394.06 250.85M396.36 262.1L396.96 256.1L396.66 250.85M400.99 237.2L400.39 243.2L400.69 248.45M402.99 237.2L403.59 243.2L403.29 248.45M400.99 262.1L400.39 256.1L400.69 250.85M402.99 262.1L403.59 256.1L403.29 250.85M407.62 237.2L407.02 243.2L407.32 248.45M409.62 237.2L410.22 243.2L409.92 248.45M407.62 262.1L407.02 256.1L407.32 250.85M409.62 262.1L410.22 256.1L409.92 250.85M414.26 237.2L413.66 243.2L413.96 248.45M416.26 237.2L416.86 243.2L416.56 248.45M414.26 262.1L413.66 256.1L413.96 250.85M416.26 262.1L416.86 256.1L416.56 250.85M420.89 237.2L420.29 243.2L420.59 248.45M422.89 237.2L423.49 243.2L423.19 248.45M420.89 262.1L420.29 256.1L420.59 250.85M422.89 262.1L423.49 256.1L423.19 250.85M427.52 237.2L426.92 243.2L427.22 248.45M429.52 237.2L430.12 243.2L429.82 248.45M427.52 262.1L426.92 256.1L427.22 250.85M429.52 262.1L430.12 256.1L429.82 250.85M434.15 237.2L433.55 243.2L433.85 248.45M436.15 237.2L436.75 243.2L436.45 248.45M434.15 262.1L433.55 256.1L433.85 250.85M436.15 262.1L436.75 256.1L436.45 250.85M440.78 237.2L440.18 243.2L440.48 248.45M442.78 237.2L443.38 243.2L443.08 248.45M440.78 262.1L440.18 256.1L440.48 250.85M442.78 262.1L443.38 256.1L443.08 250.85M447.41 237.2L446.81 243.2L447.11 248.45M449.41 237.2L450.01 243.2L449.71 248.45M447.41 262.1L446.81 256.1L447.11 250.85M449.41 262.1L450.01 256.1L449.71 250.85M454.05 237.2L453.45 243.2L453.75 248.45M456.05 237.2L456.65 243.2L456.35 248.45M454.05 262.1L453.45 256.1L453.75 250.85M456.05 262.1L456.65 256.1L456.35 250.85M460.68 237.2L460.08 243.2L460.38 248.45M462.68 237.2L463.28 243.2L462.98 248.45M460.68 262.1L460.08 256.1L460.38 250.85M462.68 262.1L463.28 256.1L462.98 250.85M467.31 237.2L466.71 243.2L467.01 248.45M469.31 237.2L469.91 243.2L469.61 248.45M467.31 262.1L466.71 256.1L467.01 250.85M469.31 262.1L469.91 256.1L469.61 250.85M473.94 237.2L473.34 243.2L473.64 248.45M475.94 237.2L476.54 243.2L476.24 248.45M473.94 262.1L473.34 256.1L473.64 250.85M475.94 262.1L476.54 256.1L476.24 250.85M480.57 237.2L479.97 243.2L480.27 248.45M482.57 237.2L483.17 243.2L482.87 248.45M480.57 262.1L479.97 256.1L480.27 250.85M482.57 262.1L483.17 256.1L482.87 250.85M487.21 237.2L486.61 243.2L486.91 248.45M489.21 237.2L489.81 243.2L489.51 248.45M487.21 262.1L486.61 256.1L486.91 250.85M489.21 262.1L489.81 256.1L489.51 250.85M493.84 237.2L493.24 243.2L493.54 248.45M495.84 237.2L496.44 243.2L496.14 248.45M493.84 262.1L493.24 256.1L493.54 250.85M495.84 262.1L496.44 256.1L496.14 250.85M500.47 237.2L499.87 243.2L500.17 248.45M502.47 237.2L503.07 243.2L502.77 248.45M500.47 262.1L499.87 256.1L500.17 250.85M502.47 262.1L503.07 256.1L502.77 250.85M507.1 237.2L506.5 243.2L506.8 248.45M509.1 237.2L509.7 243.2L509.4 248.45M507.1 262.1L506.5 256.1L506.8 250.85M509.1 262.1L509.7 256.1L509.4 250.85M513.73 237.2L513.13 243.2L513.43 248.45M515.73 237.2L516.33 243.2L516.03 248.45M513.73 262.1L513.13 256.1L513.43 250.85M515.73 262.1L516.33 256.1L516.03 250.85M520.37 237.2L519.77 243.2L520.07 248.45M522.37 237.2L522.97 243.2L522.67 248.45M520.37 262.1L519.77 256.1L520.07 250.85M522.37 262.1L522.97 256.1L522.67 250.85M527 237.2L526.4 243.2L526.7 248.45M529 237.2L529.6 243.2L529.3 248.45M527 262.1L526.4 256.1L526.7 250.85M529 262.1L529.6 256.1L529.3 250.85M533.63 237.2L533.03 243.2L533.33 248.45M535.63 237.2L536.23 243.2L535.93 248.45M533.63 262.1L533.03 256.1L533.33 250.85M535.63 262.1L536.23 256.1L535.93 250.85M540.26 237.2L539.66 243.2L539.96 248.45M542.26 237.2L542.86 243.2L542.56 248.45M540.26 262.1L539.66 256.1L539.96 250.85M542.26 262.1L542.86 256.1L542.56 250.85M546.89 237.2L546.29 243.2L546.59 248.45M548.89 237.2L549.49 243.2L549.19 248.45M546.89 262.1L546.29 256.1L546.59 250.85M548.89 262.1L549.49 256.1L549.19 250.85M553.53 237.2L552.93 243.2L553.23 248.45M555.53 237.2L556.13 243.2L555.83 248.45M553.53 262.1L552.93 256.1L553.23 250.85M555.53 262.1L556.13 256.1L555.83 250.85M560.16 237.2L559.56 243.2L559.86 248.45M562.16 237.2L562.76 243.2L562.46 248.45M560.16 262.1L559.56 256.1L559.86 250.85M562.16 262.1L562.76 256.1L562.46 250.85M566.79 237.2L566.19 243.2L566.49 248.45M568.79 237.2L569.39 243.2L569.09 248.45M566.79 262.1L566.19 256.1L566.49 250.85M568.79 262.1L569.39 256.1L569.09 250.85M573.42 237.2L572.82 243.2L573.12 248.45M575.42 237.2L576.02 243.2L575.72 248.45M573.42 262.1L572.82 256.1L573.12 250.85M575.42 262.1L576.02 256.1L575.72 250.85M580.05 237.2L579.45 243.2L579.75 248.45M582.05 237.2L582.65 243.2L582.35 248.45M580.05 262.1L579.45 256.1L579.75 250.85M582.05 262.1L582.65 256.1L582.35 250.85M586.69 237.2L586.09 243.2L586.39 248.45M588.69 237.2L589.29 243.2L588.99 248.45M586.69 262.1L586.09 256.1L586.39 250.85M588.69 262.1L589.29 256.1L588.99 250.85M593.32 237.2L592.72 243.2L593.02 248.45M595.32 237.2L595.92 243.2L595.62 248.45M593.32 262.1L592.72 256.1L593.02 250.85M595.32 262.1L595.92 256.1L595.62 250.85M599.95 237.2L599.35 243.2L599.65 248.45M601.95 237.2L602.55 243.2L602.25 248.45M599.95 262.1L599.35 256.1L599.65 250.85M601.95 262.1L602.55 256.1L602.25 250.85M606.58 237.2L605.98 243.2L606.28 248.45M608.58 237.2L609.18 243.2L608.88 248.45M606.58 262.1L605.98 256.1L606.28 250.85M608.58 262.1L609.18 256.1L608.88 250.85M613.21 237.2L612.61 243.2L612.91 248.45M615.21 237.2L615.81 243.2L615.51 248.45M613.21 262.1L612.61 256.1L612.91 250.85M615.21 262.1L615.81 256.1L615.51 250.85M619.84 237.2L619.24 243.2L619.54 248.45M621.84 237.2L622.44 243.2L622.14 248.45M619.84 262.1L619.24 256.1L619.54 250.85M621.84 262.1L622.44 256.1L622.14 250.85M626.48 237.2L625.88 243.2L626.18 248.45M628.48 237.2L629.08 243.2L628.78 248.45M626.48 262.1L625.88 256.1L626.18 250.85M628.48 262.1L629.08 256.1L628.78 250.85M633.11 237.2L632.51 243.2L632.81 248.45M635.11 237.2L635.71 243.2L635.41 248.45M633.11 262.1L632.51 256.1L632.81 250.85M635.11 262.1L635.71 256.1L635.41 250.85M639.74 237.2L639.14 243.2L639.44 248.45M641.74 237.2L642.34 243.2L642.04 248.45M639.74 262.1L639.14 256.1L639.44 250.85M641.74 262.1L642.34 256.1L642.04 250.85M646.37 237.2L645.77 243.2L646.07 248.45M648.37 237.2L648.97 243.2L648.67 248.45M646.37 262.1L645.77 256.1L646.07 250.85M648.37 262.1L648.97 256.1L648.67 250.85M653 237.2L652.4 243.2L652.7 248.45M655 237.2L655.6 243.2L655.3 248.45M653 262.1L652.4 256.1L652.7 250.85M655 262.1L655.6 256.1L655.3 250.85M659.64 237.2L659.04 243.2L659.34 248.45M661.64 237.2L662.24 243.2L661.94 248.45M659.64 262.1L659.04 256.1L659.34 250.85M661.64 262.1L662.24 256.1L661.94 250.85M666.27 237.2L665.67 243.2L665.97 248.45M668.27 237.2L668.87 243.2L668.57 248.45M666.27 262.1L665.67 256.1L665.97 250.85M668.27 262.1L668.87 256.1L668.57 250.85M672.9 237.2L672.3 243.2L672.6 248.45M674.9 237.2L675.5 243.2L675.2 248.45M672.9 262.1L672.3 256.1L672.6 250.85M674.9 262.1L675.5 256.1L675.2 250.85" fill="none" stroke="#d9e4ef" stroke-width="0.75"/>
<circle cx="362.2" cy="234.7" r="2.85" fill="#c5ccd8"/>
<circle cx="362.2" cy="264.6" r="2.85" fill="#c5ccd8"/>
<circle cx="368.83" cy="234.7" r="2.85" fill="#c5ccd8"/>
<circle cx="368.83" cy="264.6" r="2.85" fill="#c5ccd8"/>
<circle cx="375.46" cy="234.7" r="2.85" fill="#c5ccd8"/>
<circle cx="375.46" cy="264.6" r="2.85" fill="#c5ccd8"/>
<circle cx="382.1" cy="234.7" r="2.85" fill="#c5ccd8"/>
<circle cx="382.1" cy="264.6" r="2.85" fill="#c5ccd8"/>
<circle cx="388.73" cy="234.7" r="2.85" fill="#c5ccd8"/>
<circle cx="388.73" cy="264.6" r="2.85" fill="#c5ccd8"/>
<circle cx="395.36" cy="234.7" r="2.85" fill="#c5ccd8"/>
<circle cx="395.36" cy="264.6" r="2.85" fill="#c5ccd8"/>
<circle cx="401.99" cy="234.7" r="2.85" fill="#c5ccd8"/>
<circle cx="401.99" cy="264.6" r="2.85" fill="#c5ccd8"/>
<circle cx="408.62" cy="234.7" r="2.85" fill="#c5ccd8"/>
<circle cx="408.62" cy="264.6" r="2.85" fill="#c5ccd8"/>
<circle cx="415.26" cy="234.7" r="2.85" fill="#c5ccd8"/>
<circle cx="415.26" cy="264.6" r="2.85" fill="#c5ccd8"/>
<circle cx="421.89" cy="234.7" r="2.85" fill="#c5ccd8"/>
<circle cx="421.89" cy="264.6" r="2.85" fill="#c5ccd8"/>
<circle cx="428.52" cy="234.7" r="2.85" fill="#c5ccd8"/>
<circle cx="428.52" cy="264.6" r="2.85" fill="#c5ccd8"/>
<circle cx="435.15" cy="234.7" r="2.85" fill="#c5ccd8"/>
<circle cx="435.15" cy="264.6" r="2.85" fill="#c5ccd8"/>
<circle cx="441.78" cy="234.7" r="2.85" fill="#c5ccd8"/>
<circle cx="441.78" cy="264.6" r="2.85" fill="#c5ccd8"/>
<circle cx="448.41" cy="234.7" r="2.85" fill="#c5ccd8"/>
<circle cx="448.41" cy="264.6" r="2.85" fill="#c5ccd8"/>
<circle cx="455.05" cy="234.7" r="2.85" fill="#c5ccd8"/>
<circle cx="455.05" cy="264.6" r="2.85" fill="#c5ccd8"/>
<circle cx="461.68" cy="234.7" r="2.85" fill="#c5ccd8"/>
<circle cx="461.68" cy="264.6" r="2.85" fill="#c5ccd8"/>
<circle cx="468.31" cy="234.7" r="2.85" fill="#c5ccd8"/>
<circle cx="468.31" cy="264.6" r="2.85" fill="#c5ccd8"/>
<circle cx="474.94" cy="234.7" r="2.85" fill="#c5ccd8"/>
<circle cx="474.94" cy="264.6" r="2.85" fill="#c5ccd8"/>
<circle cx="481.57" cy="234.7" r="2.85" fill="#c5ccd8"/>
<circle cx="481.57" cy="264.6" r="2.85" fill="#c5ccd8"/>
<circle cx="488.21" cy="234.7" r="2.85" fill="#c5ccd8"/>
<circle cx="488.21" cy="264.6" r="2.85" fill="#c5ccd8"/>
<circle cx="494.84" cy="234.7" r="2.85" fill="#c5ccd8"/>
<circle cx="494.84" cy="264.6" r="2.85" fill="#c5ccd8"/>
<circle cx="501.47" cy="234.7" r="2.85" fill="#c5ccd8"/>
<circle cx="501.47" cy="264.6" r="2.85" fill="#c5ccd8"/>
<circle cx="508.1" cy="234.7" r="2.85" fill="#c5ccd8"/>
<circle cx="508.1" cy="264.6" r="2.85" fill="#c5ccd8"/>
<circle cx="514.73" cy="234.7" r="2.85" fill="#c5ccd8"/>
<circle cx="514.73" cy="264.6" r="2.85" fill="#c5ccd8"/>
<circle cx="521.37" cy="234.7" r="2.85" fill="#c5ccd8"/>
<circle cx="521.37" cy="264.6" r="2.85" fill="#c5ccd8"/>
<circle cx="528" cy="234.7" r="2.85" fill="#c5ccd8"/>
<circle cx="528" cy="264.6" r="2.85" fill="#c5ccd8"/>
<circle cx="534.63" cy="234.7" r="2.85" fill="#c5ccd8"/>
<circle cx="534.63" cy="264.6" r="2.85" fill="#c5ccd8"/>
<circle cx="541.26" cy="234.7" r="2.85" fill="#c5ccd8"/>
<circle cx="541.26" cy="264.6" r="2.85" fill="#c5ccd8"/>
<circle cx="547.89" cy="234.7" r="2.85" fill="#c5ccd8"/>
<circle cx="547.89" cy="264.6" r="2.85" fill="#c5ccd8"/>
<circle cx="554.53" cy="234.7" r="2.85" fill="#c5ccd8"/>
<circle cx="554.53" cy="264.6" r="2.85" fill="#c5ccd8"/>
<circle cx="561.16" cy="234.7" r="2.85" fill="#c5ccd8"/>
<circle cx="561.16" cy="264.6" r="2.85" fill="#c5ccd8"/>
<circle cx="567.79" cy="234.7" r="2.85" fill="#c5ccd8"/>
<circle cx="567.79" cy="264.6" r="2.85" fill="#c5ccd8"/>
<circle cx="574.42" cy="234.7" r="2.85" fill="#c5ccd8"/>
<circle cx="574.42" cy="264.6" r="2.85" fill="#c5ccd8"/>
<circle cx="581.05" cy="234.7" r="2.85" fill="#c5ccd8"/>
<circle cx="581.05" cy="264.6" r="2.85" fill="#c5ccd8"/>
<circle cx="587.69" cy="234.7" r="2.85" fill="#c5ccd8"/>
<circle cx="587.69" cy="264.6" r="2.85" fill="#c5ccd8"/>
<circle cx="594.32" cy="234.7" r="2.85" fill="#c5ccd8"/>
<circle cx="594.32" cy="264.6" r="2.85" fill="#c5ccd8"/>
<circle cx="600.95" cy="234.7" r="2.85" fill="#c5ccd8"/>
<circle cx="600.95" cy="264.6" r="2.85" fill="#c5ccd8"/>
<circle cx="607.58" cy="234.7" r="2.85" fill="#c5ccd8"/>
<circle cx="607.58" cy="264.6" r="2.85" fill="#c5ccd8"/>
<circle cx="614.21" cy="234.7" r="2.85" fill="#c5ccd8"/>
<circle cx="614.21" cy="264.6" r="2.85" fill="#c5ccd8"/>
<circle cx="620.84" cy="234.7" r="2.85" fill="#c5ccd8"/>
<circle cx="620.84" cy="264.6" r="2.85" fill="#c5ccd8"/>
<circle cx="627.48" cy="234.7" r="2.85" fill="#c5ccd8"/>
<circle cx="627.48" cy="264.6" r="2.85" fill="#c5ccd8"/>
<circle cx="634.11" cy="234.7" r="2.85" fill="#c5ccd8"/>
<circle cx="634.11" cy="264.6" r="2.85" fill="#c5ccd8"/>
<circle cx="640.74" cy="234.7" r="2.85" fill="#c5ccd8"/>
<circle cx="640.74" cy="264.6" r="2.85" fill="#c5ccd8"/>
<circle cx="647.37" cy="234.7" r="2.85" fill="#c5ccd8"/>
<circle cx="647.37" cy="264.6" r="2.85" fill="#c5ccd8"/>
<circle cx="654" cy="234.7" r="2.85" fill="#c5ccd8"/>
<circle cx="654" cy="264.6" r="2.85" fill="#c5ccd8"/>
<circle cx="660.64" cy="234.7" r="2.85" fill="#c5ccd8"/>
<circle cx="660.64" cy="264.6" r="2.85" fill="#c5ccd8"/>
<circle cx="667.27" cy="234.7" r="2.85" fill="#c5ccd8"/>
<circle cx="667.27" cy="264.6" r="2.85" fill="#c5ccd8"/>
<circle cx="673.9" cy="234.7" r="2.85" fill="#c5ccd8"/>
<circle cx="673.9" cy="264.6" r="2.85" fill="#c5ccd8"/>
<path d="M361.2 377.3L360.6 383.3L360.9 388.65M363.2 377.3L363.8 383.3L363.5 388.65M361.2 402.4L360.6 396.4L360.9 391.05M363.2 402.4L363.8 396.4L363.5 391.05M367.83 377.3L367.23 383.3L367.53 388.65M369.83 377.3L370.43 383.3L370.13 388.65M367.83 402.4L367.23 396.4L367.53 391.05M369.83 402.4L370.43 396.4L370.13 391.05M374.46 377.3L373.86 383.3L374.16 388.65M376.46 377.3L377.06 383.3L376.76 388.65M374.46 402.4L373.86 396.4L374.16 391.05M376.46 402.4L377.06 396.4L376.76 391.05M381.1 377.3L380.5 383.3L380.8 388.65M383.1 377.3L383.7 383.3L383.4 388.65M381.1 402.4L380.5 396.4L380.8 391.05M383.1 402.4L383.7 396.4L383.4 391.05M387.73 377.3L387.13 383.3L387.43 388.65M389.73 377.3L390.33 383.3L390.03 388.65M387.73 402.4L387.13 396.4L387.43 391.05M389.73 402.4L390.33 396.4L390.03 391.05M394.36 377.3L393.76 383.3L394.06 388.65M396.36 377.3L396.96 383.3L396.66 388.65M394.36 402.4L393.76 396.4L394.06 391.05M396.36 402.4L396.96 396.4L396.66 391.05M400.99 377.3L400.39 383.3L400.69 388.65M402.99 377.3L403.59 383.3L403.29 388.65M400.99 402.4L400.39 396.4L400.69 391.05M402.99 402.4L403.59 396.4L403.29 391.05M407.62 377.3L407.02 383.3L407.32 388.65M409.62 377.3L410.22 383.3L409.92 388.65M407.62 402.4L407.02 396.4L407.32 391.05M409.62 402.4L410.22 396.4L409.92 391.05M414.26 377.3L413.66 383.3L413.96 388.65M416.26 377.3L416.86 383.3L416.56 388.65M414.26 402.4L413.66 396.4L413.96 391.05M416.26 402.4L416.86 396.4L416.56 391.05M420.89 377.3L420.29 383.3L420.59 388.65M422.89 377.3L423.49 383.3L423.19 388.65M420.89 402.4L420.29 396.4L420.59 391.05M422.89 402.4L423.49 396.4L423.19 391.05M427.52 377.3L426.92 383.3L427.22 388.65M429.52 377.3L430.12 383.3L429.82 388.65M427.52 402.4L426.92 396.4L427.22 391.05M429.52 402.4L430.12 396.4L429.82 391.05M434.15 377.3L433.55 383.3L433.85 388.65M436.15 377.3L436.75 383.3L436.45 388.65M434.15 402.4L433.55 396.4L433.85 391.05M436.15 402.4L436.75 396.4L436.45 391.05M440.78 377.3L440.18 383.3L440.48 388.65M442.78 377.3L443.38 383.3L443.08 388.65M440.78 402.4L440.18 396.4L440.48 391.05M442.78 402.4L443.38 396.4L443.08 391.05M447.41 377.3L446.81 383.3L447.11 388.65M449.41 377.3L450.01 383.3L449.71 388.65M447.41 402.4L446.81 396.4L447.11 391.05M449.41 402.4L450.01 396.4L449.71 391.05M454.05 377.3L453.45 383.3L453.75 388.65M456.05 377.3L456.65 383.3L456.35 388.65M454.05 402.4L453.45 396.4L453.75 391.05M456.05 402.4L456.65 396.4L456.35 391.05M460.68 377.3L460.08 383.3L460.38 388.65M462.68 377.3L463.28 383.3L462.98 388.65M460.68 402.4L460.08 396.4L460.38 391.05M462.68 402.4L463.28 396.4L462.98 391.05M467.31 377.3L466.71 383.3L467.01 388.65M469.31 377.3L469.91 383.3L469.61 388.65M467.31 402.4L466.71 396.4L467.01 391.05M469.31 402.4L469.91 396.4L469.61 391.05M473.94 377.3L473.34 383.3L473.64 388.65M475.94 377.3L476.54 383.3L476.24 388.65M473.94 402.4L473.34 396.4L473.64 391.05M475.94 402.4L476.54 396.4L476.24 391.05M480.57 377.3L479.97 383.3L480.27 388.65M482.57 377.3L483.17 383.3L482.87 388.65M480.57 402.4L479.97 396.4L480.27 391.05M482.57 402.4L483.17 396.4L482.87 391.05M487.21 377.3L486.61 383.3L486.91 388.65M489.21 377.3L489.81 383.3L489.51 388.65M487.21 402.4L486.61 396.4L486.91 391.05M489.21 402.4L489.81 396.4L489.51 391.05M493.84 377.3L493.24 383.3L493.54 388.65M495.84 377.3L496.44 383.3L496.14 388.65M493.84 402.4L493.24 396.4L493.54 391.05M495.84 402.4L496.44 396.4L496.14 391.05M500.47 377.3L499.87 383.3L500.17 388.65M502.47 377.3L503.07 383.3L502.77 388.65M500.47 402.4L499.87 396.4L500.17 391.05M502.47 402.4L503.07 396.4L502.77 391.05M507.1 377.3L506.5 383.3L506.8 388.65M509.1 377.3L509.7 383.3L509.4 388.65M507.1 402.4L506.5 396.4L506.8 391.05M509.1 402.4L509.7 396.4L509.4 391.05M513.73 377.3L513.13 383.3L513.43 388.65M515.73 377.3L516.33 383.3L516.03 388.65M513.73 402.4L513.13 396.4L513.43 391.05M515.73 402.4L516.33 396.4L516.03 391.05M520.37 377.3L519.77 383.3L520.07 388.65M522.37 377.3L522.97 383.3L522.67 388.65M520.37 402.4L519.77 396.4L520.07 391.05M522.37 402.4L522.97 396.4L522.67 391.05M527 377.3L526.4 383.3L526.7 388.65M529 377.3L529.6 383.3L529.3 388.65M527 402.4L526.4 396.4L526.7 391.05M529 402.4L529.6 396.4L529.3 391.05M533.63 377.3L533.03 383.3L533.33 388.65M535.63 377.3L536.23 383.3L535.93 388.65M533.63 402.4L533.03 396.4L533.33 391.05M535.63 402.4L536.23 396.4L535.93 391.05M540.26 377.3L539.66 383.3L539.96 388.65M542.26 377.3L542.86 383.3L542.56 388.65M540.26 402.4L539.66 396.4L539.96 391.05M542.26 402.4L542.86 396.4L542.56 391.05M546.89 377.3L546.29 383.3L546.59 388.65M548.89 377.3L549.49 383.3L549.19 388.65M546.89 402.4L546.29 396.4L546.59 391.05M548.89 402.4L549.49 396.4L549.19 391.05M553.53 377.3L552.93 383.3L553.23 388.65M555.53 377.3L556.13 383.3L555.83 388.65M553.53 402.4L552.93 396.4L553.23 391.05M555.53 402.4L556.13 396.4L555.83 391.05M560.16 377.3L559.56 383.3L559.86 388.65M562.16 377.3L562.76 383.3L562.46 388.65M560.16 402.4L559.56 396.4L559.86 391.05M562.16 402.4L562.76 396.4L562.46 391.05M566.79 377.3L566.19 383.3L566.49 388.65M568.79 377.3L569.39 383.3L569.09 388.65M566.79 402.4L566.19 396.4L566.49 391.05M568.79 402.4L569.39 396.4L569.09 391.05M573.42 377.3L572.82 383.3L573.12 388.65M575.42 377.3L576.02 383.3L575.72 388.65M573.42 402.4L572.82 396.4L573.12 391.05M575.42 402.4L576.02 396.4L575.72 391.05M580.05 377.3L579.45 383.3L579.75 388.65M582.05 377.3L582.65 383.3L582.35 388.65M580.05 402.4L579.45 396.4L579.75 391.05M582.05 402.4L582.65 396.4L582.35 391.05M586.69 377.3L586.09 383.3L586.39 388.65M588.69 377.3L589.29 383.3L588.99 388.65M586.69 402.4L586.09 396.4L586.39 391.05M588.69 402.4L589.29 396.4L588.99 391.05M593.32 377.3L592.72 383.3L593.02 388.65M595.32 377.3L595.92 383.3L595.62 388.65M593.32 402.4L592.72 396.4L593.02 391.05M595.32 402.4L595.92 396.4L595.62 391.05M599.95 377.3L599.35 383.3L599.65 388.65M601.95 377.3L602.55 383.3L602.25 388.65M599.95 402.4L599.35 396.4L599.65 391.05M601.95 402.4L602.55 396.4L602.25 391.05M606.58 377.3L605.98 383.3L606.28 388.65M608.58 377.3L609.18 383.3L608.88 388.65M606.58 402.4L605.98 396.4L606.28 391.05M608.58 402.4L609.18 396.4L608.88 391.05M613.21 377.3L612.61 383.3L612.91 388.65M615.21 377.3L615.81 383.3L615.51 388.65M613.21 402.4L612.61 396.4L612.91 391.05M615.21 402.4L615.81 396.4L615.51 391.05M619.84 377.3L619.24 383.3L619.54 388.65M621.84 377.3L622.44 383.3L622.14 388.65M619.84 402.4L619.24 396.4L619.54 391.05M621.84 402.4L622.44 396.4L622.14 391.05M626.48 377.3L625.88 383.3L626.18 388.65M628.48 377.3L629.08 383.3L628.78 388.65M626.48 402.4L625.88 396.4L626.18 391.05M628.48 402.4L629.08 396.4L628.78 391.05M633.11 377.3L632.51 383.3L632.81 388.65M635.11 377.3L635.71 383.3L635.41 388.65M633.11 402.4L632.51 396.4L632.81 391.05M635.11 402.4L635.71 396.4L635.41 391.05M639.74 377.3L639.14 383.3L639.44 388.65M641.74 377.3L642.34 383.3L642.04 388.65M639.74 402.4L639.14 396.4L639.44 391.05M641.74 402.4L642.34 396.4L642.04 391.05M646.37 377.3L645.77 383.3L646.07 388.65M648.37 377.3L648.97 383.3L648.67 388.65M646.37 402.4L645.77 396.4L646.07 391.05M648.37 402.4L648.97 396.4L648.67 391.05M653 377.3L652.4 383.3L652.7 388.65M655 377.3L655.6 383.3L655.3 388.65M653 402.4L652.4 396.4L652.7 391.05M655 402.4L655.6 396.4L655.3 391.05M659.64 377.3L659.04 383.3L659.34 388.65M661.64 377.3L662.24 383.3L661.94 388.65M659.64 402.4L659.04 396.4L659.34 391.05M661.64 402.4L662.24 396.4L661.94 391.05M666.27 377.3L665.67 383.3L665.97 388.65M668.27 377.3L668.87 383.3L668.57 388.65M666.27 402.4L665.67 396.4L665.97 391.05M668.27 402.4L668.87 396.4L668.57 391.05M672.9 377.3L672.3 383.3L672.6 388.65M674.9 377.3L675.5 383.3L675.2 388.65M672.9 402.4L672.3 396.4L672.6 391.05M674.9 402.4L675.5 396.4L675.2 391.05" fill="none" stroke="#d9e4ef" stroke-width="0.75"/>
<circle cx="362.2" cy="374.8" r="2.85" fill="#c5ccd8"/>
<circle cx="362.2" cy="404.9" r="2.85" fill="#c5ccd8"/>
<circle cx="368.83" cy="374.8" r="2.85" fill="#c5ccd8"/>
<circle cx="368.83" cy="404.9" r="2.85" fill="#c5ccd8"/>
<circle cx="375.46" cy="374.8" r="2.85" fill="#c5ccd8"/>
<circle cx="375.46" cy="404.9" r="2.85" fill="#c5ccd8"/>
<circle cx="382.1" cy="374.8" r="2.85" fill="#c5ccd8"/>
<circle cx="382.1" cy="404.9" r="2.85" fill="#c5ccd8"/>
<circle cx="388.73" cy="374.8" r="2.85" fill="#c5ccd8"/>
<circle cx="388.73" cy="404.9" r="2.85" fill="#c5ccd8"/>
<circle cx="395.36" cy="374.8" r="2.85" fill="#c5ccd8"/>
<circle cx="395.36" cy="404.9" r="2.85" fill="#c5ccd8"/>
<circle cx="401.99" cy="374.8" r="2.85" fill="#c5ccd8"/>
<circle cx="401.99" cy="404.9" r="2.85" fill="#c5ccd8"/>
<circle cx="408.62" cy="374.8" r="2.85" fill="#c5ccd8"/>
<circle cx="408.62" cy="404.9" r="2.85" fill="#c5ccd8"/>
<circle cx="415.26" cy="374.8" r="2.85" fill="#c5ccd8"/>
<circle cx="415.26" cy="404.9" r="2.85" fill="#c5ccd8"/>
<circle cx="421.89" cy="374.8" r="2.85" fill="#c5ccd8"/>
<circle cx="421.89" cy="404.9" r="2.85" fill="#c5ccd8"/>
<circle cx="428.52" cy="374.8" r="2.85" fill="#c5ccd8"/>
<circle cx="428.52" cy="404.9" r="2.85" fill="#c5ccd8"/>
<circle cx="435.15" cy="374.8" r="2.85" fill="#c5ccd8"/>
<circle cx="435.15" cy="404.9" r="2.85" fill="#c5ccd8"/>
<circle cx="441.78" cy="374.8" r="2.85" fill="#c5ccd8"/>
<circle cx="441.78" cy="404.9" r="2.85" fill="#c5ccd8"/>
<circle cx="448.41" cy="374.8" r="2.85" fill="#c5ccd8"/>
<circle cx="448.41" cy="404.9" r="2.85" fill="#c5ccd8"/>
<circle cx="455.05" cy="374.8" r="2.85" fill="#c5ccd8"/>
<circle cx="455.05" cy="404.9" r="2.85" fill="#c5ccd8"/>
<circle cx="461.68" cy="374.8" r="2.85" fill="#c5ccd8"/>
<circle cx="461.68" cy="404.9" r="2.85" fill="#c5ccd8"/>
<circle cx="468.31" cy="374.8" r="2.85" fill="#c5ccd8"/>
<circle cx="468.31" cy="404.9" r="2.85" fill="#c5ccd8"/>
<circle cx="474.94" cy="374.8" r="2.85" fill="#c5ccd8"/>
<circle cx="474.94" cy="404.9" r="2.85" fill="#c5ccd8"/>
<circle cx="481.57" cy="374.8" r="2.85" fill="#c5ccd8"/>
<circle cx="481.57" cy="404.9" r="2.85" fill="#c5ccd8"/>
<circle cx="488.21" cy="374.8" r="2.85" fill="#c5ccd8"/>
<circle cx="488.21" cy="404.9" r="2.85" fill="#c5ccd8"/>
<circle cx="494.84" cy="374.8" r="2.85" fill="#c5ccd8"/>
<circle cx="494.84" cy="404.9" r="2.85" fill="#c5ccd8"/>
<circle cx="501.47" cy="374.8" r="2.85" fill="#c5ccd8"/>
<circle cx="501.47" cy="404.9" r="2.85" fill="#c5ccd8"/>
<circle cx="508.1" cy="374.8" r="2.85" fill="#c5ccd8"/>
<circle cx="508.1" cy="404.9" r="2.85" fill="#c5ccd8"/>
<circle cx="514.73" cy="374.8" r="2.85" fill="#c5ccd8"/>
<circle cx="514.73" cy="404.9" r="2.85" fill="#c5ccd8"/>
<circle cx="521.37" cy="374.8" r="2.85" fill="#c5ccd8"/>
<circle cx="521.37" cy="404.9" r="2.85" fill="#c5ccd8"/>
<circle cx="528" cy="374.8" r="2.85" fill="#c5ccd8"/>
<circle cx="528" cy="404.9" r="2.85" fill="#c5ccd8"/>
<circle cx="534.63" cy="374.8" r="2.85" fill="#c5ccd8"/>
<circle cx="534.63" cy="404.9" r="2.85" fill="#c5ccd8"/>
<circle cx="541.26" cy="374.8" r="2.85" fill="#c5ccd8"/>
<circle cx="541.26" cy="404.9" r="2.85" fill="#c5ccd8"/>
<circle cx="547.89" cy="374.8" r="2.85" fill="#c5ccd8"/>
<circle cx="547.89" cy="404.9" r="2.85" fill="#c5ccd8"/>
<circle cx="554.53" cy="374.8" r="2.85" fill="#c5ccd8"/>
<circle cx="554.53" cy="404.9" r="2.85" fill="#c5ccd8"/>
<circle cx="561.16" cy="374.8" r="2.85" fill="#c5ccd8"/>
<circle cx="561.16" cy="404.9" r="2.85" fill="#c5ccd8"/>
<circle cx="567.79" cy="374.8" r="2.85" fill="#c5ccd8"/>
<circle cx="567.79" cy="404.9" r="2.85" fill="#c5ccd8"/>
<circle cx="574.42" cy="374.8" r="2.85" fill="#c5ccd8"/>
<circle cx="574.42" cy="404.9" r="2.85" fill="#c5ccd8"/>
<circle cx="581.05" cy="374.8" r="2.85" fill="#c5ccd8"/>
<circle cx="581.05" cy="404.9" r="2.85" fill="#c5ccd8"/>
<circle cx="587.69" cy="374.8" r="2.85" fill="#c5ccd8"/>
<circle cx="587.69" cy="404.9" r="2.85" fill="#c5ccd8"/>
<circle cx="594.32" cy="374.8" r="2.85" fill="#c5ccd8"/>
<circle cx="594.32" cy="404.9" r="2.85" fill="#c5ccd8"/>
<circle cx="600.95" cy="374.8" r="2.85" fill="#c5ccd8"/>
<circle cx="600.95" cy="404.9" r="2.85" fill="#c5ccd8"/>
<circle cx="607.58" cy="374.8" r="2.85" fill="#c5ccd8"/>
<circle cx="607.58" cy="404.9" r="2.85" fill="#c5ccd8"/>
<circle cx="614.21" cy="374.8" r="2.85" fill="#c5ccd8"/>
<circle cx="614.21" cy="404.9" r="2.85" fill="#c5ccd8"/>
<circle cx="620.84" cy="374.8" r="2.85" fill="#c5ccd8"/>
<circle cx="620.84" cy="404.9" r="2.85" fill="#c5ccd8"/>
<circle cx="627.48" cy="374.8" r="2.85" fill="#c5ccd8"/>
<circle cx="627.48" cy="404.9" r="2.85" fill="#c5ccd8"/>
<circle cx="634.11" cy="374.8" r="2.85" fill="#c5ccd8"/>
<circle cx="634.11" cy="404.9" r="2.85" fill="#c5ccd8"/>
<circle cx="640.74" cy="374.8" r="2.85" fill="#c5ccd8"/>
<circle cx="640.74" cy="404.9" r="2.85" fill="#c5ccd8"/>
<circle cx="647.37" cy="374.8" r="2.85" fill="#c5ccd8"/>
<circle cx="647.37" cy="404.9" r="2.85" fill="#c5ccd8"/>
<circle cx="654" cy="374.8" r="2.85" fill="#c5ccd8"/>
<circle cx="654" cy="404.9" r="2.85" fill="#c5ccd8"/>
<circle cx="660.64" cy="374.8" r="2.85" fill="#c5ccd8"/>
<circle cx="660.64" cy="404.9" r="2.85" fill="#c5ccd8"/>
<circle cx="667.27" cy="374.8" r="2.85" fill="#c5ccd8"/>
<circle cx="667.27" cy="404.9" r="2.85" fill="#c5ccd8"/>
<circle cx="673.9" cy="374.8" r="2.85" fill="#c5ccd8"/>
<circle cx="673.9" cy="404.9" r="2.85" fill="#c5ccd8"/>
<text x="13.7" y="221.7" font-size="14.3" fill="#222222" textLength="79.2" lengthAdjust="spacingAndGlyphs">Extracellular</text>
<text x="14" y="254.1" font-size="14.3" fill="#222222" textLength="70.6" lengthAdjust="spacingAndGlyphs">Membrane</text>
<text x="14" y="286.5" font-size="14.3" fill="#222222" textLength="76.2" lengthAdjust="spacingAndGlyphs">Intracellular</text>
<text x="11.2" y="362.2" font-size="14.3" fill="#222222" textLength="78.9" lengthAdjust="spacingAndGlyphs">Extracellular</text>
<text x="11.2" y="394" font-size="14.3" fill="#222222" textLength="70.8" lengthAdjust="spacingAndGlyphs">Membrane</text>
<text x="11.2" y="426.5" font-size="14.3" fill="#222222" textLength="76.7" lengthAdjust="spacingAndGlyphs">Intracellular</text>
<text x="368.5" y="221.6" font-size="14.3" fill="#222222" textLength="79.3" lengthAdjust="spacingAndGlyphs">Extracellular</text>
<text x="368.5" y="254" font-size="14.3" fill="#222222" textLength="70.5" lengthAdjust="spacingAndGlyphs">Membrane</text>
<text x="368.5" y="286.3" font-size="14.3" fill="#222222" textLength="76.3" lengthAdjust="spacingAndGlyphs">Intracellular</text>
<text x="368.5" y="361.8" font-size="14.3" fill="#222222" textLength="79.3" lengthAdjust="spacingAndGlyphs">Extracellular</text>
<text x="368.5" y="394" font-size="14.3" fill="#222222" textLength="70.5" lengthAdjust="spacingAndGlyphs">Membrane</text>
<text x="368.5" y="426.3" font-size="14.3" fill="#222222" textLength="76.3" lengthAdjust="spacingAndGlyphs">Intracellular</text>
<text x="72.7" y="194.5" font-size="14.3" fill="#222222" textLength="146.5" lengthAdjust="spacingAndGlyphs">Outward-facing ABCB1</text>
<text x="78.8" y="338.8" font-size="14.3" fill="#222222" textLength="134.3" lengthAdjust="spacingAndGlyphs">Inward-facing ABCB1</text>
<text x="426.9" y="194.7" font-size="14.3" fill="#222222" textLength="146" lengthAdjust="spacingAndGlyphs">Outward-facing ABCG2</text>
<text x="430.6" y="339.2" font-size="14.3" fill="#222222" textLength="136" lengthAdjust="spacingAndGlyphs">Inward-facing ABCG2</text>
<text x="0.9" y="190.2" font-size="13.4" font-weight="bold" font-style="italic">c</text>
<text x="345.8" y="190" font-size="14.2" font-weight="bold" font-style="italic">d</text>
<circle cx="6.1" cy="308.9" r="5.1" fill="#83c0e6"/>
<text x="16.1" y="313.2" font-size="14.3" fill="#222222" textLength="48.7" lengthAdjust="spacingAndGlyphs">Chain A</text>
<circle cx="132.2" cy="308.9" r="5.1" fill="#e09fcb"/>
<text x="141.8" y="313.2" font-size="14.3" fill="#222222" textLength="48.2" lengthAdjust="spacingAndGlyphs">Chain B</text>
<circle cx="253.3" cy="308.9" r="5.1" fill="#e3d24c"/>
<text x="263.5" y="313.2" font-size="14.3" fill="#222222" textLength="23.5" lengthAdjust="spacingAndGlyphs">ATP</text>
<circle cx="14.4" cy="461.8" r="5.1" fill="#83c0e6"/>
<text x="24.3" y="466.1" font-size="14.3" fill="#222222" textLength="48.7" lengthAdjust="spacingAndGlyphs">Chain A</text>
<circle cx="132.2" cy="461.8" r="5.1" fill="#e09fcb"/>
<text x="141.8" y="466.1" font-size="14.3" fill="#222222" textLength="48.2" lengthAdjust="spacingAndGlyphs">Chain B</text>
<circle cx="253.9" cy="461.8" r="5.1" fill="#d9504c"/>
<text x="263.5" y="466.1" font-size="14.3" fill="#222222" textLength="60.4" lengthAdjust="spacingAndGlyphs">Substrate</text>
<circle cx="362.2" cy="309.1" r="5.1" fill="#83c0e6"/>
<text x="372.3" y="313.4" font-size="14.3" fill="#222222" textLength="48.4" lengthAdjust="spacingAndGlyphs">Chain A</text>
<circle cx="478" cy="309.1" r="5.1" fill="#e09fcb"/>
<text x="487.7" y="313.4" font-size="14.3" fill="#222222" textLength="48.7" lengthAdjust="spacingAndGlyphs">Chain B</text>
<circle cx="597.8" cy="309.1" r="5.1" fill="#e3d24c"/>
<text x="607.9" y="313.4" font-size="14.3" fill="#222222" textLength="23.1" lengthAdjust="spacingAndGlyphs">ATP</text>
<circle cx="361.4" cy="461.8" r="5.1" fill="#83c0e6"/>
<text x="371.4" y="466.1" font-size="14.3" fill="#222222" textLength="48.2" lengthAdjust="spacingAndGlyphs">Chain A</text>
<circle cx="477.5" cy="461.8" r="5.1" fill="#e09fcb"/>
<text x="487.5" y="466.1" font-size="14.3" fill="#222222" textLength="48.9" lengthAdjust="spacingAndGlyphs">Chain B</text>
<circle cx="598.3" cy="461.8" r="5.1" fill="#d9504c"/>
<text x="607.9" y="466.1" font-size="14.3" fill="#222222" textLength="60.4" lengthAdjust="spacingAndGlyphs">Substrate</text>
<defs><clipPath id="cL1"><rect x="100" y="240" width="47.5" height="60"/></clipPath><clipPath id="cR1"><rect x="147.5" y="240" width="40" height="60"/></clipPath><clipPath id="cL2"><rect x="460" y="240" width="44" height="60"/></clipPath><clipPath id="cR2"><rect x="504" y="240" width="40" height="60"/></clipPath></defs>
<polygon points="137.7,205.5 145.3,205.5 137.6,262 129,262" fill="#83c0e6"/>
<polygon points="145,205.5 152,205.5 144.6,262 137.4,262" fill="#e09fcb"/>
<polygon points="150,205.5 157.2,205.5 165.8,262 156.9,262" fill="#e09fcb"/>
<polygon points="150.4,212.5 157,262 149.4,262 147.6,222" fill="#83c0e6"/>
<path d="M137.7 206.5Q138 204.2 141 204.2L145.3 204.2 145.3 207Z" fill="#83c0e6"/>
<path d="M145 204.2L154 204.2Q157.2 204.2 157.2 207L145 207Z" fill="#e09fcb"/>
<circle cx="142.7" cy="274.6" r="16.5" fill="#83c0e6" clip-path="url(#cL1)"/>
<circle cx="152.3" cy="274.6" r="16.5" fill="#e09fcb" clip-path="url(#cR1)"/>
<rect x="138.2" y="260.3" width="18" height="13.5" fill="#e3d24c" rx="6.7"/>
<rect x="138.2" y="275.8" width="18" height="13.6" fill="#e3d24c" rx="6.7"/>
<text x="134.9" y="239.4" font-size="10.2" fill="#222222" textLength="24.5" lengthAdjust="spacingAndGlyphs">A2B2</text>
<text x="122.8" y="249.4" font-size="10.2" fill="#222222" textLength="10.1" lengthAdjust="spacingAndGlyphs">B1</text>
<text x="160.6" y="249.4" font-size="10.2" fill="#222222" textLength="12" lengthAdjust="spacingAndGlyphs">A1</text>
<text x="118" y="281" font-size="10.2" fill="#222222" textLength="11" lengthAdjust="spacingAndGlyphs">B3</text>
<text x="165.3" y="281" font-size="10.2" fill="#222222" textLength="11.3" lengthAdjust="spacingAndGlyphs">A3</text>
<polygon points="138.4,348 147.6,348 129.4,401 122.2,401" fill="#83c0e6"/>
<polygon points="147.2,348 155,348 136.4,401 129.2,401" fill="#e09fcb"/>
<polygon points="148.2,348 155.2,348 171.9,401 164.7,401" fill="#e09fcb"/>
<polygon points="150.3,357.5 164.8,401 156.4,401 147.9,367" fill="#83c0e6"/>
<path d="M138.4 349Q140 346.8 143 346.8L147.6 346.8 147.6 350Z" fill="#83c0e6"/>
<path d="M147.4 346.8L151.5 346.8Q155 346.8 155.5 350L147.4 350Z" fill="#e09fcb"/>
<ellipse cx="130.8" cy="416.6" rx="11.9" ry="16.5" fill="#83c0e6"/>
<circle cx="126" cy="402.5" r="4" fill="#83c0e6"/>
<circle cx="136.9" cy="407.8" r="6.3" fill="#ffffff"/>
<circle cx="139.3" cy="422.4" r="6" fill="#ffffff"/>
<ellipse cx="163.2" cy="416.6" rx="11.9" ry="16.5" fill="#e09fcb"/>
<circle cx="168" cy="402.5" r="4" fill="#e09fcb"/>
<circle cx="157.1" cy="407.8" r="6.3" fill="#ffffff"/>
<circle cx="154.7" cy="422.4" r="6" fill="#ffffff"/>
<path d="M147 436V399" fill="none" stroke="#8a8a8a" stroke-width="1.5"/>
<polygon points="147,394.6 150.6,400 143.4,400" fill="#8a8a8a"/>
<circle cx="147.2" cy="443.5" r="8.2" fill="#d9504c"/>
<text x="132" y="384.5" font-size="10.2" fill="#222222" textLength="11.5" lengthAdjust="spacingAndGlyphs">A2</text>
<text x="150.9" y="384.5" font-size="10.2" fill="#222222" textLength="11.3" lengthAdjust="spacingAndGlyphs">B2</text>
<text x="114.3" y="393.5" font-size="10.2" fill="#222222" textLength="11.2" lengthAdjust="spacingAndGlyphs">B1</text>
<text x="168.6" y="395.4" font-size="10.2" fill="#222222" textLength="11.6" lengthAdjust="spacingAndGlyphs">A1</text>
<text x="117.8" y="424.4" font-size="10.2" fill="#222222" textLength="11.6" lengthAdjust="spacingAndGlyphs">A3</text>
<text x="165.4" y="424.4" font-size="10.2" fill="#222222" textLength="11.6" lengthAdjust="spacingAndGlyphs">A3</text>
<rect x="485.4" y="204.5" width="15.4" height="62" fill="#83c0e6" rx="3"/>
<rect x="507" y="204.5" width="15.8" height="62" fill="#e09fcb" rx="3"/>
<circle cx="496" cy="275" r="16" fill="#83c0e6" clip-path="url(#cL2)"/>
<circle cx="512.2" cy="275" r="16" fill="#e09fcb" clip-path="url(#cR2)"/>
<rect x="493.8" y="260.5" width="20.2" height="13.5" fill="#e3d24c" rx="6.7"/>
<rect x="493.8" y="275.8" width="20.2" height="13.8" fill="#e3d24c" rx="6.7"/>
<rect x="-7.7" y="-2" width="15.4" height="58" rx="3" fill="#83c0e6" transform="translate(501.4 352) rotate(13.4)"/>
<rect x="-7.8" y="-2" width="15.6" height="58" rx="3" fill="#e09fcb" transform="translate(512.8 352) rotate(-11.4)"/>
<ellipse cx="489.3" cy="420.1" rx="13.3" ry="16.6" fill="#83c0e6"/>
<circle cx="484.8" cy="405" r="4.5" fill="#83c0e6"/>
<circle cx="495" cy="411" r="6" fill="#ffffff"/>
<circle cx="498.2" cy="426" r="6.3" fill="#ffffff"/>
<ellipse cx="523.7" cy="420.1" rx="13.3" ry="16.6" fill="#e09fcb"/>
<circle cx="528.2" cy="405" r="4.5" fill="#e09fcb"/>
<circle cx="518" cy="411" r="6" fill="#ffffff"/>
<circle cx="514.8" cy="426" r="6.3" fill="#ffffff"/>
<path d="M506.5 436V399.5" fill="none" stroke="#8a8a8a" stroke-width="1.5"/>
<polygon points="506.5,395.4 510.1,400.5 502.9,400.5" fill="#8a8a8a"/>
<circle cx="506.6" cy="443.5" r="8.3" fill="#d9504c"/>
<path d="M260.43 226.08Q262.89 223.45 262.71 226.69T265.01 224.21M263.97 242.68Q264.93 236.82 265.5 233.83T267.56 233.38M261.52 242.55Q265.09 240.73 266.82 243.58T270.76 241.78" fill="none" stroke="#366380" stroke-width="0.5"/>
<path d="M258.57 237.61L257.1 258.44M248.22 234.06L249.05 247.56M258.61 205.23L259.15 228.52M252.81 215.09L252.03 230.86M254.45 239.57L255.83 252.18M261.74 245.94L258.75 262.06M254.5 224.93L250.98 245.94M248.43 242.2L247.68 254.62M250.2 229.15L254.74 251.71M248.52 233L249.13 256.95M252.3 210.15L255.13 227.38M254.55 238.92L256 255.7M251.18 239.15L251.17 261.56M253.12 240.61L252.61 260.57" fill="none" stroke="#366380" stroke-width="3.4" stroke-linecap="round"/>
<path d="M258.57 237.61L257.1 258.44M248.22 234.06L249.05 247.56M258.61 205.23L259.15 228.52M252.81 215.09L252.03 230.86M254.45 239.57L255.83 252.18M261.74 245.94L258.75 262.06M254.5 224.93L250.98 245.94M248.43 242.2L247.68 254.62M250.2 229.15L254.74 251.71M248.52 233L249.13 256.95M252.3 210.15L255.13 227.38M254.55 238.92L256 255.7M251.18 239.15L251.17 261.56M253.12 240.61L252.61 260.57" fill="none" stroke="#5aa5d6" stroke-width="2.6" stroke-linecap="round"/>
<path d="M258.57 237.61L257.1 258.44M248.22 234.06L249.05 247.56M258.61 205.23L259.15 228.52M252.81 215.09L252.03 230.86M254.45 239.57L255.83 252.18M261.74 245.94L258.75 262.06M254.5 224.93L250.98 245.94M248.43 242.2L247.68 254.62M250.2 229.15L254.74 251.71M248.52 233L249.13 256.95M252.3 210.15L255.13 227.38M254.55 238.92L256 255.7M251.18 239.15L251.17 261.56M253.12 240.61L252.61 260.57" fill="none" stroke="#366380" stroke-width="2.34" stroke-dasharray="1 1.6"/>
<path d="M258.57 237.61L257.1 258.44M248.22 234.06L249.05 247.56M258.61 205.23L259.15 228.52M252.81 215.09L252.03 230.86M254.45 239.57L255.83 252.18M261.74 245.94L258.75 262.06M254.5 224.93L250.98 245.94M248.43 242.2L247.68 254.62M250.2 229.15L254.74 251.71M248.52 233L249.13 256.95M252.3 210.15L255.13 227.38M254.55 238.92L256 255.7M251.18 239.15L251.17 261.56M253.12 240.61L252.61 260.57" fill="none" stroke="#acd2ea" stroke-width="1.17" stroke-dasharray="0.8 1.8" stroke-dashoffset="-1.3" opacity="0.85"/>
<path d="M268.3 259.24Q271.68 256.19 268.89 252.05T274.76 249.57M275.98 232.53Q277.72 233.77 280.65 229.19T283.77 226.8M274.27 224.5Q271.83 224.85 271.4 223.19T274.34 224.28" fill="none" stroke="#78516e" stroke-width="0.5"/>
<path d="M277.45 236.07L278.36 257.41M274.52 235.12L276.2 252.09M275.46 243.83L277.23 256.03M264.09 220.81L267.27 240.35M266.55 235.97L267.53 253.6M269.08 206.74L269.52 224.32M270.67 230.94L270.83 250.02M269.04 226.97L270.57 250.42M279.99 232.7L281.41 251.8M275.79 218.72L276.21 232.01M274.76 233.84L275.27 247.52M272.78 221.21L274.05 236.99M269.2 224.02L267.98 241.3M269.47 239.4L268.02 261.28" fill="none" stroke="#78516e" stroke-width="3.4" stroke-linecap="round"/>
<path d="M277.45 236.07L278.36 257.41M274.52 235.12L276.2 252.09M275.46 243.83L277.23 256.03M264.09 220.81L267.27 240.35M266.55 235.97L267.53 253.6M269.08 206.74L269.52 224.32M270.67 230.94L270.83 250.02M269.04 226.97L270.57 250.42M279.99 232.7L281.41 251.8M275.79 218.72L276.21 232.01M274.76 233.84L275.27 247.52M272.78 221.21L274.05 236.99M269.2 224.02L267.98 241.3M269.47 239.4L268.02 261.28" fill="none" stroke="#c987b8" stroke-width="2.6" stroke-linecap="round"/>
<path d="M277.45 236.07L278.36 257.41M274.52 235.12L276.2 252.09M275.46 243.83L277.23 256.03M264.09 220.81L267.27 240.35M266.55 235.97L267.53 253.6M269.08 206.74L269.52 224.32M270.67 230.94L270.83 250.02M269.04 226.97L270.57 250.42M279.99 232.7L281.41 251.8M275.79 218.72L276.21 232.01M274.76 233.84L275.27 247.52M272.78 221.21L274.05 236.99M269.2 224.02L267.98 241.3M269.47 239.4L268.02 261.28" fill="none" stroke="#78516e" stroke-width="2.34" stroke-dasharray="1 1.6"/>
<path d="M277.45 236.07L278.36 257.41M274.52 235.12L276.2 252.09M275.46 243.83L277.23 256.03M264.09 220.81L267.27 240.35M266.55 235.97L267.53 253.6M269.08 206.74L269.52 224.32M270.67 230.94L270.83 250.02M269.04 226.97L270.57 250.42M279.99 232.7L281.41 251.8M275.79 218.72L276.21 232.01M274.76 233.84L275.27 247.52M272.78 221.21L274.05 236.99M269.2 224.02L267.98 241.3M269.47 239.4L268.02 261.28" fill="none" stroke="#e4c3db" stroke-width="1.17" stroke-dasharray="0.8 1.8" stroke-dashoffset="-1.3" opacity="0.85"/>
<path d="M267.25 232.18L271.89 246.03M264.94 241.6L271.39 252.98M260.83 250.38L262.84 261.77M261.83 225.37L263.49 241.53" fill="none" stroke="#366380" stroke-width="3.4" stroke-linecap="round"/>
<path d="M267.25 232.18L271.89 246.03M264.94 241.6L271.39 252.98M260.83 250.38L262.84 261.77M261.83 225.37L263.49 241.53" fill="none" stroke="#5aa5d6" stroke-width="2.6" stroke-linecap="round"/>
<path d="M267.25 232.18L271.89 246.03M264.94 241.6L271.39 252.98M260.83 250.38L262.84 261.77M261.83 225.37L263.49 241.53" fill="none" stroke="#366380" stroke-width="2.34" stroke-dasharray="1 1.6"/>
<path d="M267.25 232.18L271.89 246.03M264.94 241.6L271.39 252.98M260.83 250.38L262.84 261.77M261.83 225.37L263.49 241.53" fill="none" stroke="#acd2ea" stroke-width="1.17" stroke-dasharray="0.8 1.8" stroke-dashoffset="-1.3" opacity="0.85"/>
<path d="M260.97 239.14L258.04 256.52M268.53 233.63L263.01 243.48M261.64 237.14L258.78 250.99M268.65 223.9L266.92 234.44" fill="none" stroke="#78516e" stroke-width="3.4" stroke-linecap="round"/>
<path d="M260.97 239.14L258.04 256.52M268.53 233.63L263.01 243.48M261.64 237.14L258.78 250.99M268.65 223.9L266.92 234.44" fill="none" stroke="#c987b8" stroke-width="2.6" stroke-linecap="round"/>
<path d="M260.97 239.14L258.04 256.52M268.53 233.63L263.01 243.48M261.64 237.14L258.78 250.99M268.65 223.9L266.92 234.44" fill="none" stroke="#78516e" stroke-width="2.34" stroke-dasharray="1 1.6"/>
<path d="M260.97 239.14L258.04 256.52M268.53 233.63L263.01 243.48M261.64 237.14L258.78 250.99M268.65 223.9L266.92 234.44" fill="none" stroke="#e4c3db" stroke-width="1.17" stroke-dasharray="0.8 1.8" stroke-dashoffset="-1.3" opacity="0.85"/>
<path d="M258.15 273.78Q263.85 267.86 258.58 271.21T257.5 265.75M255.71 291.67Q255.94 289.87 251.06 284.72T255.85 284.62M265.39 261.72Q262.31 256.33 261.08 251.05T258.15 249.94M249.65 261.64Q244.1 267.3 240.25 267.41T239.08 267.78M244.11 270.04Q239.4 270.55 244.46 271.73T248.74 268.3M242.44 277.27Q242.27 278.13 240.79 279.63T243.5 284.58M249.69 274.37Q253.61 271.06 249 268.8T244.05 272.07" fill="none" stroke="#366380" stroke-width="0.5"/>
<path d="M257.58 264.94L259.82 260.9M255.08 265.45L258.62 269.82M242.99 262.29L243.69 267.36M256.33 286.77L260.92 285.75M254.19 270.47L261.05 272.21M249.37 270.43L252.07 274.26M259.13 278.8L266.43 282.66M252.32 281.18L257.56 276.75M258.16 271.77L262.85 273.54M252.12 283.73L255.93 284.93M250.98 289.99L256.53 286.95M249.11 270.98L253.63 273.7M246.26 265.62L251.62 264.72M249.4 272.93L246.36 277.92M257.66 281.25L260.06 285.43M244.09 260.15L249.96 261.45M251.29 269.01L256.11 269.11M246.46 285.57L249.57 277.45" fill="none" stroke="#366380" stroke-width="3.4" stroke-linecap="round"/>
<path d="M257.58 264.94L259.82 260.9M255.08 265.45L258.62 269.82M242.99 262.29L243.69 267.36M256.33 286.77L260.92 285.75M254.19 270.47L261.05 272.21M249.37 270.43L252.07 274.26M259.13 278.8L266.43 282.66M252.32 281.18L257.56 276.75M258.16 271.77L262.85 273.54M252.12 283.73L255.93 284.93M250.98 289.99L256.53 286.95M249.11 270.98L253.63 273.7M246.26 265.62L251.62 264.72M249.4 272.93L246.36 277.92M257.66 281.25L260.06 285.43M244.09 260.15L249.96 261.45M251.29 269.01L256.11 269.11M246.46 285.57L249.57 277.45" fill="none" stroke="#5aa5d6" stroke-width="2.6" stroke-linecap="round"/>
<path d="M257.58 264.94L259.82 260.9M255.08 265.45L258.62 269.82M242.99 262.29L243.69 267.36M256.33 286.77L260.92 285.75M254.19 270.47L261.05 272.21M249.37 270.43L252.07 274.26M259.13 278.8L266.43 282.66M252.32 281.18L257.56 276.75M258.16 271.77L262.85 273.54M252.12 283.73L255.93 284.93M250.98 289.99L256.53 286.95M249.11 270.98L253.63 273.7M246.26 265.62L251.62 264.72M249.4 272.93L246.36 277.92M257.66 281.25L260.06 285.43M244.09 260.15L249.96 261.45M251.29 269.01L256.11 269.11M246.46 285.57L249.57 277.45" fill="none" stroke="#366380" stroke-width="2.34" stroke-dasharray="1 1.6"/>
<path d="M257.58 264.94L259.82 260.9M255.08 265.45L258.62 269.82M242.99 262.29L243.69 267.36M256.33 286.77L260.92 285.75M254.19 270.47L261.05 272.21M249.37 270.43L252.07 274.26M259.13 278.8L266.43 282.66M252.32 281.18L257.56 276.75M258.16 271.77L262.85 273.54M252.12 283.73L255.93 284.93M250.98 289.99L256.53 286.95M249.11 270.98L253.63 273.7M246.26 265.62L251.62 264.72M249.4 272.93L246.36 277.92M257.66 281.25L260.06 285.43M244.09 260.15L249.96 261.45M251.29 269.01L256.11 269.11M246.46 285.57L249.57 277.45" fill="none" stroke="#acd2ea" stroke-width="1.17" stroke-dasharray="0.8 1.8" stroke-dashoffset="-1.3" opacity="0.85"/>
<path d="M269.21 291.44Q273.29 295.64 274.71 294.45T270.42 298.43M275.25 261.21Q271.29 256.39 273.9 261.19T270.29 264.76M271.1 281.85Q275.46 283.33 279.06 281.85T273.18 281.99M277.67 265.91Q276.34 263.72 270.66 261.46T269.25 261.18M280.58 272.77Q286.37 276.56 291.46 278.87T293.5 279.31M282.97 271.61Q284.09 273.76 284.36 271.17T279.29 266.22M271.9 278.57Q275.01 281.15 272.69 286.3T269.99 288.89" fill="none" stroke="#78516e" stroke-width="0.5"/>
<path d="M286.09 270.2L280.88 269.82M271.55 261.33L266.72 262.6M272.19 271.01L268.11 272.91M277.7 269.38L269.33 270.71M280.32 281.01L278.39 287.61M274.74 282.38L273.37 289.9M278.95 264.86L282.11 272.27M275.09 264.98L270.03 263.35M282.05 269.22L277.74 269.05M284.41 278.07L279.78 277.59M276.27 286.96L267.59 288.06M280.01 265.14L276.59 269.65M284.06 260.62L278.28 265.48M277.99 288.95L270.32 291.12M268.39 272.04L263.52 268.25M277.44 281.87L270.63 287.25M270.89 268.94L265.89 268.79M279.9 270.94L274.22 271.91" fill="none" stroke="#78516e" stroke-width="3.4" stroke-linecap="round"/>
<path d="M286.09 270.2L280.88 269.82M271.55 261.33L266.72 262.6M272.19 271.01L268.11 272.91M277.7 269.38L269.33 270.71M280.32 281.01L278.39 287.61M274.74 282.38L273.37 289.9M278.95 264.86L282.11 272.27M275.09 264.98L270.03 263.35M282.05 269.22L277.74 269.05M284.41 278.07L279.78 277.59M276.27 286.96L267.59 288.06M280.01 265.14L276.59 269.65M284.06 260.62L278.28 265.48M277.99 288.95L270.32 291.12M268.39 272.04L263.52 268.25M277.44 281.87L270.63 287.25M270.89 268.94L265.89 268.79M279.9 270.94L274.22 271.91" fill="none" stroke="#c987b8" stroke-width="2.6" stroke-linecap="round"/>
<path d="M286.09 270.2L280.88 269.82M271.55 261.33L266.72 262.6M272.19 271.01L268.11 272.91M277.7 269.38L269.33 270.71M280.32 281.01L278.39 287.61M274.74 282.38L273.37 289.9M278.95 264.86L282.11 272.27M275.09 264.98L270.03 263.35M282.05 269.22L277.74 269.05M284.41 278.07L279.78 277.59M276.27 286.96L267.59 288.06M280.01 265.14L276.59 269.65M284.06 260.62L278.28 265.48M277.99 288.95L270.32 291.12M268.39 272.04L263.52 268.25M277.44 281.87L270.63 287.25M270.89 268.94L265.89 268.79M279.9 270.94L274.22 271.91" fill="none" stroke="#78516e" stroke-width="2.34" stroke-dasharray="1 1.6"/>
<path d="M286.09 270.2L280.88 269.82M271.55 261.33L266.72 262.6M272.19 271.01L268.11 272.91M277.7 269.38L269.33 270.71M280.32 281.01L278.39 287.61M274.74 282.38L273.37 289.9M278.95 264.86L282.11 272.27M275.09 264.98L270.03 263.35M282.05 269.22L277.74 269.05M284.41 278.07L279.78 277.59M276.27 286.96L267.59 288.06M280.01 265.14L276.59 269.65M284.06 260.62L278.28 265.48M277.99 288.95L270.32 291.12M268.39 272.04L263.52 268.25M277.44 281.87L270.63 287.25M270.89 268.94L265.89 268.79M279.9 270.94L274.22 271.91" fill="none" stroke="#e4c3db" stroke-width="1.17" stroke-dasharray="0.8 1.8" stroke-dashoffset="-1.3" opacity="0.85"/>
<path d="M244.08 375.98Q242.58 371.39 243.75 369.88T245.95 369.83M252.03 361.87Q247.43 361.62 245.68 364.46T250.7 363.05" fill="none" stroke="#366380" stroke-width="0.5"/>
<path d="M250.95 347.43L247.6 366.37M253.79 364.61L248.65 388.48M256.77 346.56L249.56 369.05M246.93 359.88L241.91 378.62M242.68 373.52L239.36 385.49M250.67 348.32L247.5 362.64M250.05 375.52L247.68 388.16M242.94 385.93L240.98 401.01M244.53 364.66L242.19 377.63" fill="none" stroke="#366380" stroke-width="3.4" stroke-linecap="round"/>
<path d="M250.95 347.43L247.6 366.37M253.79 364.61L248.65 388.48M256.77 346.56L249.56 369.05M246.93 359.88L241.91 378.62M242.68 373.52L239.36 385.49M250.67 348.32L247.5 362.64M250.05 375.52L247.68 388.16M242.94 385.93L240.98 401.01M244.53 364.66L242.19 377.63" fill="none" stroke="#5aa5d6" stroke-width="2.6" stroke-linecap="round"/>
<path d="M250.95 347.43L247.6 366.37M253.79 364.61L248.65 388.48M256.77 346.56L249.56 369.05M246.93 359.88L241.91 378.62M242.68 373.52L239.36 385.49M250.67 348.32L247.5 362.64M250.05 375.52L247.68 388.16M242.94 385.93L240.98 401.01M244.53 364.66L242.19 377.63" fill="none" stroke="#366380" stroke-width="2.34" stroke-dasharray="1 1.6"/>
<path d="M250.95 347.43L247.6 366.37M253.79 364.61L248.65 388.48M256.77 346.56L249.56 369.05M246.93 359.88L241.91 378.62M242.68 373.52L239.36 385.49M250.67 348.32L247.5 362.64M250.05 375.52L247.68 388.16M242.94 385.93L240.98 401.01M244.53 364.66L242.19 377.63" fill="none" stroke="#acd2ea" stroke-width="1.17" stroke-dasharray="0.8 1.8" stroke-dashoffset="-1.3" opacity="0.85"/>
<path d="M257.65 371.78Q257.7 373.11 261.22 367.78T261.22 362.24" fill="none" stroke="#78516e" stroke-width="0.5"/>
<path d="M249.23 378.19L245.81 391.09M251.82 370.69L248.73 383.05M256.79 377L253.73 389.13M249.86 377.94L247.03 391.37M256.79 359.55L253.67 379.45M256.4 354.21L251.21 373.15M257.51 350.92L256.29 362.97" fill="none" stroke="#78516e" stroke-width="3.4" stroke-linecap="round"/>
<path d="M249.23 378.19L245.81 391.09M251.82 370.69L248.73 383.05M256.79 377L253.73 389.13M249.86 377.94L247.03 391.37M256.79 359.55L253.67 379.45M256.4 354.21L251.21 373.15M257.51 350.92L256.29 362.97" fill="none" stroke="#c987b8" stroke-width="2.6" stroke-linecap="round"/>
<path d="M249.23 378.19L245.81 391.09M251.82 370.69L248.73 383.05M256.79 377L253.73 389.13M249.86 377.94L247.03 391.37M256.79 359.55L253.67 379.45M256.4 354.21L251.21 373.15M257.51 350.92L256.29 362.97" fill="none" stroke="#78516e" stroke-width="2.34" stroke-dasharray="1 1.6"/>
<path d="M249.23 378.19L245.81 391.09M251.82 370.69L248.73 383.05M256.79 377L253.73 389.13M249.86 377.94L247.03 391.37M256.79 359.55L253.67 379.45M256.4 354.21L251.21 373.15M257.51 350.92L256.29 362.97" fill="none" stroke="#e4c3db" stroke-width="1.17" stroke-dasharray="0.8 1.8" stroke-dashoffset="-1.3" opacity="0.85"/>
<path d="M264.36 345.09Q267.46 345.27 272.28 344.86T268.15 341.46M261.75 350.03Q259.98 344.98 259.08 346.44T260.89 342.53" fill="none" stroke="#78516e" stroke-width="0.5"/>
<path d="M265.59 358.68L267.99 370.74M261.81 362.44L266.87 378.86M266.64 373.81L275.04 397.49M268.63 370.95L271.05 383.56M261.82 349.34L264.92 372.1M264.38 368.97L269.39 392.72M259.97 346.54L261.94 359.11M273.1 367.59L279.28 392.1M272.75 386.36L275.26 399.81" fill="none" stroke="#78516e" stroke-width="3.4" stroke-linecap="round"/>
<path d="M265.59 358.68L267.99 370.74M261.81 362.44L266.87 378.86M266.64 373.81L275.04 397.49M268.63 370.95L271.05 383.56M261.82 349.34L264.92 372.1M264.38 368.97L269.39 392.72M259.97 346.54L261.94 359.11M273.1 367.59L279.28 392.1M272.75 386.36L275.26 399.81" fill="none" stroke="#c987b8" stroke-width="2.6" stroke-linecap="round"/>
<path d="M265.59 358.68L267.99 370.74M261.81 362.44L266.87 378.86M266.64 373.81L275.04 397.49M268.63 370.95L271.05 383.56M261.82 349.34L264.92 372.1M264.38 368.97L269.39 392.72M259.97 346.54L261.94 359.11M273.1 367.59L279.28 392.1M272.75 386.36L275.26 399.81" fill="none" stroke="#78516e" stroke-width="2.34" stroke-dasharray="1 1.6"/>
<path d="M265.59 358.68L267.99 370.74M261.81 362.44L266.87 378.86M266.64 373.81L275.04 397.49M268.63 370.95L271.05 383.56M261.82 349.34L264.92 372.1M264.38 368.97L269.39 392.72M259.97 346.54L261.94 359.11M273.1 367.59L279.28 392.1M272.75 386.36L275.26 399.81" fill="none" stroke="#e4c3db" stroke-width="1.17" stroke-dasharray="0.8 1.8" stroke-dashoffset="-1.3" opacity="0.85"/>
<path d="M268.97 389.01L272.13 401.2M262.38 379.91L265.91 393.54M263.2 364.58L266.11 374.42M265.19 372.19L268.18 384.56" fill="none" stroke="#366380" stroke-width="3.4" stroke-linecap="round"/>
<path d="M268.97 389.01L272.13 401.2M262.38 379.91L265.91 393.54M263.2 364.58L266.11 374.42M265.19 372.19L268.18 384.56" fill="none" stroke="#5aa5d6" stroke-width="2.6" stroke-linecap="round"/>
<path d="M268.97 389.01L272.13 401.2M262.38 379.91L265.91 393.54M263.2 364.58L266.11 374.42M265.19 372.19L268.18 384.56" fill="none" stroke="#366380" stroke-width="2.34" stroke-dasharray="1 1.6"/>
<path d="M268.97 389.01L272.13 401.2M262.38 379.91L265.91 393.54M263.2 364.58L266.11 374.42M265.19 372.19L268.18 384.56" fill="none" stroke="#acd2ea" stroke-width="1.17" stroke-dasharray="0.8 1.8" stroke-dashoffset="-1.3" opacity="0.85"/>
<path d="M248.84 399.91Q245.97 404 241.73 398.68T235.91 401.87M233.76 412.2Q233.02 415.84 232.74 416.1T227.04 419.64M250.95 417.33Q254.97 418.7 257.56 422.91T258.97 417.15M236.23 400.05Q234.31 395.25 232.75 390.32T229.39 384.36M242.15 407.3Q244.89 405.97 240.88 411.41T245.62 413.68M236.64 410.48Q236.05 409.39 230.37 408.85T233.58 411.18M253.37 419.17Q256.52 423.62 261.53 427.14T260.52 429.05" fill="none" stroke="#366380" stroke-width="0.5"/>
<path d="M252.92 406.82L256.86 409.37M240.18 414.87L246.05 408.6M243.31 413.85L248.54 413.16M243.27 418L243.19 425.03M232.34 404.96L236.64 403.61M232.21 413.97L234.46 409.71M247.31 404.17L251.03 398.36M237.37 406.75L237.73 411.34M248.05 406.39L253.69 410.47M247.56 410.45L247.68 415.85M238.98 408.72L244.87 412.99M248.69 420.36L252.67 420.79M250.9 421.09L254.66 416.81M246.06 414.11L253.99 413.21M234.05 415.01L236.23 411.65M248.38 420.9L254.74 422.93M240.94 401.82L245.95 401.59M241.62 415.49L240.4 420.49M242.14 413.44L246.06 409.53M248.52 412.23L251.72 406.89" fill="none" stroke="#366380" stroke-width="3.4" stroke-linecap="round"/>
<path d="M252.92 406.82L256.86 409.37M240.18 414.87L246.05 408.6M243.31 413.85L248.54 413.16M243.27 418L243.19 425.03M232.34 404.96L236.64 403.61M232.21 413.97L234.46 409.71M247.31 404.17L251.03 398.36M237.37 406.75L237.73 411.34M248.05 406.39L253.69 410.47M247.56 410.45L247.68 415.85M238.98 408.72L244.87 412.99M248.69 420.36L252.67 420.79M250.9 421.09L254.66 416.81M246.06 414.11L253.99 413.21M234.05 415.01L236.23 411.65M248.38 420.9L254.74 422.93M240.94 401.82L245.95 401.59M241.62 415.49L240.4 420.49M242.14 413.44L246.06 409.53M248.52 412.23L251.72 406.89" fill="none" stroke="#5aa5d6" stroke-width="2.6" stroke-linecap="round"/>
<path d="M252.92 406.82L256.86 409.37M240.18 414.87L246.05 408.6M243.31 413.85L248.54 413.16M243.27 418L243.19 425.03M232.34 404.96L236.64 403.61M232.21 413.97L234.46 409.71M247.31 404.17L251.03 398.36M237.37 406.75L237.73 411.34M248.05 406.39L253.69 410.47M247.56 410.45L247.68 415.85M238.98 408.72L244.87 412.99M248.69 420.36L252.67 420.79M250.9 421.09L254.66 416.81M246.06 414.11L253.99 413.21M234.05 415.01L236.23 411.65M248.38 420.9L254.74 422.93M240.94 401.82L245.95 401.59M241.62 415.49L240.4 420.49M242.14 413.44L246.06 409.53M248.52 412.23L251.72 406.89" fill="none" stroke="#366380" stroke-width="2.34" stroke-dasharray="1 1.6"/>
<path d="M252.92 406.82L256.86 409.37M240.18 414.87L246.05 408.6M243.31 413.85L248.54 413.16M243.27 418L243.19 425.03M232.34 404.96L236.64 403.61M232.21 413.97L234.46 409.71M247.31 404.17L251.03 398.36M237.37 406.75L237.73 411.34M248.05 406.39L253.69 410.47M247.56 410.45L247.68 415.85M238.98 408.72L244.87 412.99M248.69 420.36L252.67 420.79M250.9 421.09L254.66 416.81M246.06 414.11L253.99 413.21M234.05 415.01L236.23 411.65M248.38 420.9L254.74 422.93M240.94 401.82L245.95 401.59M241.62 415.49L240.4 420.49M242.14 413.44L246.06 409.53M248.52 412.23L251.72 406.89" fill="none" stroke="#acd2ea" stroke-width="1.17" stroke-dasharray="0.8 1.8" stroke-dashoffset="-1.3" opacity="0.85"/>
<path d="M276.42 416.45Q275.29 415.57 270.87 414.84T275.41 412.51M269.13 416.1Q270.22 412.2 269.57 415.01T264.06 410.32M261.69 400.44Q263.21 397.86 265.08 392.27T264.56 388.21M268.3 418.81Q268.43 423.05 272.53 424.48T276.7 420.61M271.86 407.59Q273.36 402.92 277.99 401.37T281.39 406.68M283.51 409.71Q287.79 415.67 283.35 418.64T286.08 418.13M266.95 403.2Q265.89 408.38 264.71 405.45T266.14 404.7" fill="none" stroke="#78516e" stroke-width="0.5"/>
<path d="M274.36 402L267.81 405.45M282.29 405.09L276.18 402.43M283.01 411.08L279.01 406.86M265.37 407.59L261.82 405.69M267.08 410.43L260.36 411.09M274.97 422.88L268.91 421.32M273.47 421.93L268.55 423.44M269.14 424.33L265.6 420.66M278.77 416.48L274.49 415.19M280.67 407.09L275.84 413.34M268.18 420.6L267.3 416.07M260.68 410.24L261.35 416.55M273.13 401.8L269.03 403.27M278.83 407.19L274.89 403.42M264.25 408.12L260.29 406.04M270.44 403.04L266.68 405.5M283.38 404.61L279.73 411.08M273.81 425.24L268.83 423.06M269.86 422.82L263.36 422.5M271.46 414.62L265.88 411.8" fill="none" stroke="#78516e" stroke-width="3.4" stroke-linecap="round"/>
<path d="M274.36 402L267.81 405.45M282.29 405.09L276.18 402.43M283.01 411.08L279.01 406.86M265.37 407.59L261.82 405.69M267.08 410.43L260.36 411.09M274.97 422.88L268.91 421.32M273.47 421.93L268.55 423.44M269.14 424.33L265.6 420.66M278.77 416.48L274.49 415.19M280.67 407.09L275.84 413.34M268.18 420.6L267.3 416.07M260.68 410.24L261.35 416.55M273.13 401.8L269.03 403.27M278.83 407.19L274.89 403.42M264.25 408.12L260.29 406.04M270.44 403.04L266.68 405.5M283.38 404.61L279.73 411.08M273.81 425.24L268.83 423.06M269.86 422.82L263.36 422.5M271.46 414.62L265.88 411.8" fill="none" stroke="#c987b8" stroke-width="2.6" stroke-linecap="round"/>
<path d="M274.36 402L267.81 405.45M282.29 405.09L276.18 402.43M283.01 411.08L279.01 406.86M265.37 407.59L261.82 405.69M267.08 410.43L260.36 411.09M274.97 422.88L268.91 421.32M273.47 421.93L268.55 423.44M269.14 424.33L265.6 420.66M278.77 416.48L274.49 415.19M280.67 407.09L275.84 413.34M268.18 420.6L267.3 416.07M260.68 410.24L261.35 416.55M273.13 401.8L269.03 403.27M278.83 407.19L274.89 403.42M264.25 408.12L260.29 406.04M270.44 403.04L266.68 405.5M283.38 404.61L279.73 411.08M273.81 425.24L268.83 423.06M269.86 422.82L263.36 422.5M271.46 414.62L265.88 411.8" fill="none" stroke="#78516e" stroke-width="2.34" stroke-dasharray="1 1.6"/>
<path d="M274.36 402L267.81 405.45M282.29 405.09L276.18 402.43M283.01 411.08L279.01 406.86M265.37 407.59L261.82 405.69M267.08 410.43L260.36 411.09M274.97 422.88L268.91 421.32M273.47 421.93L268.55 423.44M269.14 424.33L265.6 420.66M278.77 416.48L274.49 415.19M280.67 407.09L275.84 413.34M268.18 420.6L267.3 416.07M260.68 410.24L261.35 416.55M273.13 401.8L269.03 403.27M278.83 407.19L274.89 403.42M264.25 408.12L260.29 406.04M270.44 403.04L266.68 405.5M283.38 404.61L279.73 411.08M273.81 425.24L268.83 423.06M269.86 422.82L263.36 422.5M271.46 414.62L265.88 411.8" fill="none" stroke="#e4c3db" stroke-width="1.17" stroke-dasharray="0.8 1.8" stroke-dashoffset="-1.3" opacity="0.85"/>
<path d="M593.76 253.03Q590.24 258.09 585.67 259.19T588.12 261.98M598.69 258.25Q600.24 260.54 595.19 256.78T594.78 257.32M589.28 253.44Q587.44 253.14 587.71 257.21T585.33 257.93" fill="none" stroke="#366380" stroke-width="0.5"/>
<path d="M600.72 236.17L602.73 249.46M601.35 227.13L604.28 242.9M608.63 247.97L608.62 261.65M596.02 243.44L594.24 253.83M601.22 228.27L596.75 243.96M592.73 236.74L591.88 249.01M609.22 250.91L608.96 262.93M605.47 234.14L603.08 254.19M607.5 243.6L607.35 262.38M607.98 239.98L609.79 253.25M594.49 229.72L591.38 249.52M604.57 240.99L605.16 254.85M594.66 228.15L598.19 247.32M593.06 226.59L595.12 236.48M601.78 228.11L600.28 240.76M591.96 242.08L591.89 259.09" fill="none" stroke="#366380" stroke-width="3.4" stroke-linecap="round"/>
<path d="M600.72 236.17L602.73 249.46M601.35 227.13L604.28 242.9M608.63 247.97L608.62 261.65M596.02 243.44L594.24 253.83M601.22 228.27L596.75 243.96M592.73 236.74L591.88 249.01M609.22 250.91L608.96 262.93M605.47 234.14L603.08 254.19M607.5 243.6L607.35 262.38M607.98 239.98L609.79 253.25M594.49 229.72L591.38 249.52M604.57 240.99L605.16 254.85M594.66 228.15L598.19 247.32M593.06 226.59L595.12 236.48M601.78 228.11L600.28 240.76M591.96 242.08L591.89 259.09" fill="none" stroke="#5aa5d6" stroke-width="2.6" stroke-linecap="round"/>
<path d="M600.72 236.17L602.73 249.46M601.35 227.13L604.28 242.9M608.63 247.97L608.62 261.65M596.02 243.44L594.24 253.83M601.22 228.27L596.75 243.96M592.73 236.74L591.88 249.01M609.22 250.91L608.96 262.93M605.47 234.14L603.08 254.19M607.5 243.6L607.35 262.38M607.98 239.98L609.79 253.25M594.49 229.72L591.38 249.52M604.57 240.99L605.16 254.85M594.66 228.15L598.19 247.32M593.06 226.59L595.12 236.48M601.78 228.11L600.28 240.76M591.96 242.08L591.89 259.09" fill="none" stroke="#366380" stroke-width="2.34" stroke-dasharray="1 1.6"/>
<path d="M600.72 236.17L602.73 249.46M601.35 227.13L604.28 242.9M608.63 247.97L608.62 261.65M596.02 243.44L594.24 253.83M601.22 228.27L596.75 243.96M592.73 236.74L591.88 249.01M609.22 250.91L608.96 262.93M605.47 234.14L603.08 254.19M607.5 243.6L607.35 262.38M607.98 239.98L609.79 253.25M594.49 229.72L591.38 249.52M604.57 240.99L605.16 254.85M594.66 228.15L598.19 247.32M593.06 226.59L595.12 236.48M601.78 228.11L600.28 240.76M591.96 242.08L591.89 259.09" fill="none" stroke="#acd2ea" stroke-width="1.17" stroke-dasharray="0.8 1.8" stroke-dashoffset="-1.3" opacity="0.85"/>
<path d="M609.69 227.09Q605.14 225.95 599.26 228.05T597.31 224.85M613.84 244.23Q610.36 248.46 610.15 243.29T605.17 247.97M620.45 236.78Q623.01 231.33 627.68 236.57T629.65 231.17" fill="none" stroke="#78516e" stroke-width="0.5"/>
<path d="M620.8 242.43L621.47 258.06M621.63 244.08L620.42 255.62M617.39 236.16L616.92 257.3M609.08 229.91L606.89 248.12M617.94 227.7L616.17 243.36M623.05 230.91L623.16 248.31M623.15 241.71L619.56 259.87M618.14 243.18L620.05 262.27M616.86 239.67L619.46 257.87M617.82 238.99L618.86 249.53M615.69 228.56L612.74 242.62M609.99 230.52L609.45 244.76M609.39 228.55L615.1 245.15M626.06 235.45L624.24 256.72M613.72 249.15L613.66 260.39M618.52 243.73L619.66 258.09" fill="none" stroke="#78516e" stroke-width="3.4" stroke-linecap="round"/>
<path d="M620.8 242.43L621.47 258.06M621.63 244.08L620.42 255.62M617.39 236.16L616.92 257.3M609.08 229.91L606.89 248.12M617.94 227.7L616.17 243.36M623.05 230.91L623.16 248.31M623.15 241.71L619.56 259.87M618.14 243.18L620.05 262.27M616.86 239.67L619.46 257.87M617.82 238.99L618.86 249.53M615.69 228.56L612.74 242.62M609.99 230.52L609.45 244.76M609.39 228.55L615.1 245.15M626.06 235.45L624.24 256.72M613.72 249.15L613.66 260.39M618.52 243.73L619.66 258.09" fill="none" stroke="#c987b8" stroke-width="2.6" stroke-linecap="round"/>
<path d="M620.8 242.43L621.47 258.06M621.63 244.08L620.42 255.62M617.39 236.16L616.92 257.3M609.08 229.91L606.89 248.12M617.94 227.7L616.17 243.36M623.05 230.91L623.16 248.31M623.15 241.71L619.56 259.87M618.14 243.18L620.05 262.27M616.86 239.67L619.46 257.87M617.82 238.99L618.86 249.53M615.69 228.56L612.74 242.62M609.99 230.52L609.45 244.76M609.39 228.55L615.1 245.15M626.06 235.45L624.24 256.72M613.72 249.15L613.66 260.39M618.52 243.73L619.66 258.09" fill="none" stroke="#78516e" stroke-width="2.34" stroke-dasharray="1 1.6"/>
<path d="M620.8 242.43L621.47 258.06M621.63 244.08L620.42 255.62M617.39 236.16L616.92 257.3M609.08 229.91L606.89 248.12M617.94 227.7L616.17 243.36M623.05 230.91L623.16 248.31M623.15 241.71L619.56 259.87M618.14 243.18L620.05 262.27M616.86 239.67L619.46 257.87M617.82 238.99L618.86 249.53M615.69 228.56L612.74 242.62M609.99 230.52L609.45 244.76M609.39 228.55L615.1 245.15M626.06 235.45L624.24 256.72M613.72 249.15L613.66 260.39M618.52 243.73L619.66 258.09" fill="none" stroke="#e4c3db" stroke-width="1.17" stroke-dasharray="0.8 1.8" stroke-dashoffset="-1.3" opacity="0.85"/>
<path d="M603.59 263.46Q607.58 260.91 608.99 263.75T606.86 260.94M592.58 284.46Q594.47 284.11 595.22 285.98T592.36 280.89M586.17 274.55Q587.35 280.29 588.8 284.52T594.64 284.48M595.23 271.78Q593.69 274.9 594.59 270.37T600.06 270.69M604.71 273.69Q605.77 274.6 601.15 270.17T603.92 268.36M586.74 280.39Q589.71 283.55 588.36 279.13T591.47 275.72" fill="none" stroke="#366380" stroke-width="0.5"/>
<path d="M592.42 282.81L598.27 279.03M587.64 263.86L590.48 267.86M596.17 275.58L598.36 283.62M601.63 262.97L606.53 260.7M599.16 282.45L604.87 282.98M590.44 264.29L595.57 264.27M593.62 268.89L602.32 269.75M597.58 275.43L603.03 282.16M595.12 280.62L598.49 275.49M584.48 264.11L592.8 266.86M587.01 280.58L595.16 278.48M586.71 276.51L592.11 275.44M598.01 270.68L603.21 274.48M600.21 268.76L605.26 274.91M603.72 276.81L608.08 278.79M591.18 264.81L593.89 267.93M590.1 272.73L596.65 269.07M596.37 276.68L603.32 275.52" fill="none" stroke="#366380" stroke-width="3.4" stroke-linecap="round"/>
<path d="M592.42 282.81L598.27 279.03M587.64 263.86L590.48 267.86M596.17 275.58L598.36 283.62M601.63 262.97L606.53 260.7M599.16 282.45L604.87 282.98M590.44 264.29L595.57 264.27M593.62 268.89L602.32 269.75M597.58 275.43L603.03 282.16M595.12 280.62L598.49 275.49M584.48 264.11L592.8 266.86M587.01 280.58L595.16 278.48M586.71 276.51L592.11 275.44M598.01 270.68L603.21 274.48M600.21 268.76L605.26 274.91M603.72 276.81L608.08 278.79M591.18 264.81L593.89 267.93M590.1 272.73L596.65 269.07M596.37 276.68L603.32 275.52" fill="none" stroke="#5aa5d6" stroke-width="2.6" stroke-linecap="round"/>
<path d="M592.42 282.81L598.27 279.03M587.64 263.86L590.48 267.86M596.17 275.58L598.36 283.62M601.63 262.97L606.53 260.7M599.16 282.45L604.87 282.98M590.44 264.29L595.57 264.27M593.62 268.89L602.32 269.75M597.58 275.43L603.03 282.16M595.12 280.62L598.49 275.49M584.48 264.11L592.8 266.86M587.01 280.58L595.16 278.48M586.71 276.51L592.11 275.44M598.01 270.68L603.21 274.48M600.21 268.76L605.26 274.91M603.72 276.81L608.08 278.79M591.18 264.81L593.89 267.93M590.1 272.73L596.65 269.07M596.37 276.68L603.32 275.52" fill="none" stroke="#366380" stroke-width="2.34" stroke-dasharray="1 1.6"/>
<path d="M592.42 282.81L598.27 279.03M587.64 263.86L590.48 267.86M596.17 275.58L598.36 283.62M601.63 262.97L606.53 260.7M599.16 282.45L604.87 282.98M590.44 264.29L595.57 264.27M593.62 268.89L602.32 269.75M597.58 275.43L603.03 282.16M595.12 280.62L598.49 275.49M584.48 264.11L592.8 266.86M587.01 280.58L595.16 278.48M586.71 276.51L592.11 275.44M598.01 270.68L603.21 274.48M600.21 268.76L605.26 274.91M603.72 276.81L608.08 278.79M591.18 264.81L593.89 267.93M590.1 272.73L596.65 269.07M596.37 276.68L603.32 275.52" fill="none" stroke="#acd2ea" stroke-width="1.17" stroke-dasharray="0.8 1.8" stroke-dashoffset="-1.3" opacity="0.85"/>
<path d="M596.92 276.23Q591.82 276.5 588.88 279.77T586.08 284.04M601.79 294.37Q601.45 298.99 601.02 299.48T598.12 302.57M607.82 292.7Q610.31 291.85 604.68 289.07T603.69 287.51M612.1 293.02Q617.54 295.29 619.78 296.52T625.77 300M611.79 278.34Q617.06 278.96 618.24 276.65T620.21 276.51M606.58 290.59Q607.28 287.67 602.49 284.67T598.02 280.4M624.03 267.15Q620.03 268.59 615.6 272.59T617.4 277.12" fill="none" stroke="#78516e" stroke-width="0.5"/>
<path d="M621.58 288.31L619.88 283.22M629.61 283L622.36 280.55M613.41 280.86L608.03 282.08M602.61 276.85L601.21 283.73M615.01 280.85L611.97 287.31M611.42 268.94L607.66 270.79M623.08 278.36L617.35 277.92M626.56 283.06L622.04 287.2M619.03 292.39L611.1 291.13M617.41 293.28L612.43 295.93M623.24 285.07L617.91 282.43M599.49 284.84L595.24 285.76M631.44 266.81L625.59 264M624.86 275.36L624.06 270.21M622.51 273.45L620.02 266.21M602.23 284.79L599.18 281.85M606.06 280.42L600.08 276.1M608.87 282.26L602.4 280.79M628.89 278.54L622.98 284.1M620.63 288.83L615.74 294.52M627.07 284.35L622.69 288.19M624.3 271.79L622.46 276.83M620.11 267.55L615.01 267.56M619.71 276.39L611.2 275.26M605.34 271.78L601.19 273.6M623.47 278.62L618.99 280.06" fill="none" stroke="#78516e" stroke-width="3.4" stroke-linecap="round"/>
<path d="M621.58 288.31L619.88 283.22M629.61 283L622.36 280.55M613.41 280.86L608.03 282.08M602.61 276.85L601.21 283.73M615.01 280.85L611.97 287.31M611.42 268.94L607.66 270.79M623.08 278.36L617.35 277.92M626.56 283.06L622.04 287.2M619.03 292.39L611.1 291.13M617.41 293.28L612.43 295.93M623.24 285.07L617.91 282.43M599.49 284.84L595.24 285.76M631.44 266.81L625.59 264M624.86 275.36L624.06 270.21M622.51 273.45L620.02 266.21M602.23 284.79L599.18 281.85M606.06 280.42L600.08 276.1M608.87 282.26L602.4 280.79M628.89 278.54L622.98 284.1M620.63 288.83L615.74 294.52M627.07 284.35L622.69 288.19M624.3 271.79L622.46 276.83M620.11 267.55L615.01 267.56M619.71 276.39L611.2 275.26M605.34 271.78L601.19 273.6M623.47 278.62L618.99 280.06" fill="none" stroke="#c987b8" stroke-width="2.6" stroke-linecap="round"/>
<path d="M621.58 288.31L619.88 283.22M629.61 283L622.36 280.55M613.41 280.86L608.03 282.08M602.61 276.85L601.21 283.73M615.01 280.85L611.97 287.31M611.42 268.94L607.66 270.79M623.08 278.36L617.35 277.92M626.56 283.06L622.04 287.2M619.03 292.39L611.1 291.13M617.41 293.28L612.43 295.93M623.24 285.07L617.91 282.43M599.49 284.84L595.24 285.76M631.44 266.81L625.59 264M624.86 275.36L624.06 270.21M622.51 273.45L620.02 266.21M602.23 284.79L599.18 281.85M606.06 280.42L600.08 276.1M608.87 282.26L602.4 280.79M628.89 278.54L622.98 284.1M620.63 288.83L615.74 294.52M627.07 284.35L622.69 288.19M624.3 271.79L622.46 276.83M620.11 267.55L615.01 267.56M619.71 276.39L611.2 275.26M605.34 271.78L601.19 273.6M623.47 278.62L618.99 280.06" fill="none" stroke="#78516e" stroke-width="2.34" stroke-dasharray="1 1.6"/>
<path d="M621.58 288.31L619.88 283.22M629.61 283L622.36 280.55M613.41 280.86L608.03 282.08M602.61 276.85L601.21 283.73M615.01 280.85L611.97 287.31M611.42 268.94L607.66 270.79M623.08 278.36L617.35 277.92M626.56 283.06L622.04 287.2M619.03 292.39L611.1 291.13M617.41 293.28L612.43 295.93M623.24 285.07L617.91 282.43M599.49 284.84L595.24 285.76M631.44 266.81L625.59 264M624.86 275.36L624.06 270.21M622.51 273.45L620.02 266.21M602.23 284.79L599.18 281.85M606.06 280.42L600.08 276.1M608.87 282.26L602.4 280.79M628.89 278.54L622.98 284.1M620.63 288.83L615.74 294.52M627.07 284.35L622.69 288.19M624.3 271.79L622.46 276.83M620.11 267.55L615.01 267.56M619.71 276.39L611.2 275.26M605.34 271.78L601.19 273.6M623.47 278.62L618.99 280.06" fill="none" stroke="#e4c3db" stroke-width="1.17" stroke-dasharray="0.8 1.8" stroke-dashoffset="-1.3" opacity="0.85"/>
<path d="M600 230Q596 220 600 214Q606 210 607 218Q611 224 606 230M616 230Q612 220 616 213Q622 210 622 218Q626 224 620 230" fill="none" stroke="#9cc6e6" stroke-width="0.7"/>
<path d="M609.72 396.67Q605.34 398.71 609.18 396.85T613.85 402.13M589.94 382.59Q590.52 386.91 592.09 391.57T589.08 395.13M590.32 370.66Q593.96 371.59 590.66 376.31T590.56 378.4" fill="none" stroke="#366380" stroke-width="0.5"/>
<path d="M602.53 387.14L600.83 400.24M589.13 371.68L593.62 386.23M605.49 384.16L602.86 394.83M588.89 374.82L590.74 389.74M608.22 380.5L608.67 396.58M589.24 378.32L590.92 394.72M604.89 381.18L605.97 398.71M596.68 367.74L594.91 383.29M591.83 381.18L589.83 397.51M595.36 384.61L596.86 397.44M595.03 375.66L592.37 388.25M603.45 369.57L598.62 389.73M599.2 373.76L603.45 389.18M599.05 371.48L601.41 390.49M603.79 385.91L603.35 401.06M592.51 371.89L594.87 387.34" fill="none" stroke="#366380" stroke-width="3.4" stroke-linecap="round"/>
<path d="M602.53 387.14L600.83 400.24M589.13 371.68L593.62 386.23M605.49 384.16L602.86 394.83M588.89 374.82L590.74 389.74M608.22 380.5L608.67 396.58M589.24 378.32L590.92 394.72M604.89 381.18L605.97 398.71M596.68 367.74L594.91 383.29M591.83 381.18L589.83 397.51M595.36 384.61L596.86 397.44M595.03 375.66L592.37 388.25M603.45 369.57L598.62 389.73M599.2 373.76L603.45 389.18M599.05 371.48L601.41 390.49M603.79 385.91L603.35 401.06M592.51 371.89L594.87 387.34" fill="none" stroke="#5aa5d6" stroke-width="2.6" stroke-linecap="round"/>
<path d="M602.53 387.14L600.83 400.24M589.13 371.68L593.62 386.23M605.49 384.16L602.86 394.83M588.89 374.82L590.74 389.74M608.22 380.5L608.67 396.58M589.24 378.32L590.92 394.72M604.89 381.18L605.97 398.71M596.68 367.74L594.91 383.29M591.83 381.18L589.83 397.51M595.36 384.61L596.86 397.44M595.03 375.66L592.37 388.25M603.45 369.57L598.62 389.73M599.2 373.76L603.45 389.18M599.05 371.48L601.41 390.49M603.79 385.91L603.35 401.06M592.51 371.89L594.87 387.34" fill="none" stroke="#366380" stroke-width="2.34" stroke-dasharray="1 1.6"/>
<path d="M602.53 387.14L600.83 400.24M589.13 371.68L593.62 386.23M605.49 384.16L602.86 394.83M588.89 374.82L590.74 389.74M608.22 380.5L608.67 396.58M589.24 378.32L590.92 394.72M604.89 381.18L605.97 398.71M596.68 367.74L594.91 383.29M591.83 381.18L589.83 397.51M595.36 384.61L596.86 397.44M595.03 375.66L592.37 388.25M603.45 369.57L598.62 389.73M599.2 373.76L603.45 389.18M599.05 371.48L601.41 390.49M603.79 385.91L603.35 401.06M592.51 371.89L594.87 387.34" fill="none" stroke="#acd2ea" stroke-width="1.17" stroke-dasharray="0.8 1.8" stroke-dashoffset="-1.3" opacity="0.85"/>
<path d="M606.02 424.57Q605.14 423.28 610.79 428.73T606.61 432.55M597.42 411.46Q599.76 408.76 602.7 409.47T603.72 404.14M607.32 439.02Q610.46 436.54 613.13 431.94T613.68 430.08M590.91 409.03Q585.75 408.25 582.6 404.36T580.58 399.85M588.95 401.43Q588.1 401.51 582.77 402.02T576.85 399.61M600.02 434Q596.15 432.88 601.52 430.67T596.94 427.63M605.89 411.51Q607.88 416.77 609.34 413.14T609.11 411.04M591.22 423.68Q596.93 425.94 597.03 429.68T597.12 425.99" fill="none" stroke="#366380" stroke-width="0.5"/>
<path d="M593.88 412.93L593.64 404.75M579.32 427.56L586.84 425.95M584.57 428.22L589.45 424.19M603.02 407.22L605.61 411.53M586.26 398.49L584.77 404.82M605.01 409.89L605.69 404.1M589.68 401.15L594.12 402.74M576.59 421.02L580.39 425.4M596.3 430.29L602.27 429.28M575.9 416.52L581.64 408.64M578.21 399.11L580.85 402.26M583.41 431.2L588.41 426.19M584.8 413.38L588.59 415.3M588.45 427.86L596.13 431.52M577.77 401.78L583.52 402.66M586.36 431.62L588.93 426.46M587.12 399.93L592.14 407.46M586.94 419.59L596.4 417.28M574.58 403.18L580.93 409.12M596.98 418.56L606.12 421.33M591.76 416.98L600.97 418.97M604.11 431.19L609.29 431.21M590.07 410.09L593.22 405.91M595.97 430.56L599.08 425.28M591.95 405.39L599.61 401.28M593.06 423.31L595.72 420.31M578.67 412.31L587.57 416.28M595.08 420.13L602.87 422.49" fill="none" stroke="#366380" stroke-width="3.4" stroke-linecap="round"/>
<path d="M593.88 412.93L593.64 404.75M579.32 427.56L586.84 425.95M584.57 428.22L589.45 424.19M603.02 407.22L605.61 411.53M586.26 398.49L584.77 404.82M605.01 409.89L605.69 404.1M589.68 401.15L594.12 402.74M576.59 421.02L580.39 425.4M596.3 430.29L602.27 429.28M575.9 416.52L581.64 408.64M578.21 399.11L580.85 402.26M583.41 431.2L588.41 426.19M584.8 413.38L588.59 415.3M588.45 427.86L596.13 431.52M577.77 401.78L583.52 402.66M586.36 431.62L588.93 426.46M587.12 399.93L592.14 407.46M586.94 419.59L596.4 417.28M574.58 403.18L580.93 409.12M596.98 418.56L606.12 421.33M591.76 416.98L600.97 418.97M604.11 431.19L609.29 431.21M590.07 410.09L593.22 405.91M595.97 430.56L599.08 425.28M591.95 405.39L599.61 401.28M593.06 423.31L595.72 420.31M578.67 412.31L587.57 416.28M595.08 420.13L602.87 422.49" fill="none" stroke="#5aa5d6" stroke-width="2.6" stroke-linecap="round"/>
<path d="M593.88 412.93L593.64 404.75M579.32 427.56L586.84 425.95M584.57 428.22L589.45 424.19M603.02 407.22L605.61 411.53M586.26 398.49L584.77 404.82M605.01 409.89L605.69 404.1M589.68 401.15L594.12 402.74M576.59 421.02L580.39 425.4M596.3 430.29L602.27 429.28M575.9 416.52L581.64 408.64M578.21 399.11L580.85 402.26M583.41 431.2L588.41 426.19M584.8 413.38L588.59 415.3M588.45 427.86L596.13 431.52M577.77 401.78L583.52 402.66M586.36 431.62L588.93 426.46M587.12 399.93L592.14 407.46M586.94 419.59L596.4 417.28M574.58 403.18L580.93 409.12M596.98 418.56L606.12 421.33M591.76 416.98L600.97 418.97M604.11 431.19L609.29 431.21M590.07 410.09L593.22 405.91M595.97 430.56L599.08 425.28M591.95 405.39L599.61 401.28M593.06 423.31L595.72 420.31M578.67 412.31L587.57 416.28M595.08 420.13L602.87 422.49" fill="none" stroke="#366380" stroke-width="2.34" stroke-dasharray="1 1.6"/>
<path d="M593.88 412.93L593.64 404.75M579.32 427.56L586.84 425.95M584.57 428.22L589.45 424.19M603.02 407.22L605.61 411.53M586.26 398.49L584.77 404.82M605.01 409.89L605.69 404.1M589.68 401.15L594.12 402.74M576.59 421.02L580.39 425.4M596.3 430.29L602.27 429.28M575.9 416.52L581.64 408.64M578.21 399.11L580.85 402.26M583.41 431.2L588.41 426.19M584.8 413.38L588.59 415.3M588.45 427.86L596.13 431.52M577.77 401.78L583.52 402.66M586.36 431.62L588.93 426.46M587.12 399.93L592.14 407.46M586.94 419.59L596.4 417.28M574.58 403.18L580.93 409.12M596.98 418.56L606.12 421.33M591.76 416.98L600.97 418.97M604.11 431.19L609.29 431.21M590.07 410.09L593.22 405.91M595.97 430.56L599.08 425.28M591.95 405.39L599.61 401.28M593.06 423.31L595.72 420.31M578.67 412.31L587.57 416.28M595.08 420.13L602.87 422.49" fill="none" stroke="#acd2ea" stroke-width="1.17" stroke-dasharray="0.8 1.8" stroke-dashoffset="-1.3" opacity="0.85"/>
<path d="M615.89 375.5Q613.06 369.84 610.12 367.92T609.55 368.29M610.89 398.52Q608.34 398.98 606 403.73T611.22 404.57M609.73 379.38Q612.18 380.17 609.54 378.93T604.28 377.77" fill="none" stroke="#78516e" stroke-width="0.5"/>
<path d="M626.76 367.83L626.12 383.64M619.72 371.5L623.85 386.99M619.22 380.26L618.26 393.54M626.4 372.44L627.19 390.08M611.46 375.61L613.92 391.32M611.9 369.38L614.24 379.57M622.56 376.85L625.08 393.31M623.01 387.81L620.89 401.62M625.4 373.88L625.52 392.67M624.08 369.13L630.15 386.83M630.39 375.37L628.43 387.44M620.65 376.69L615.71 396.21M630.32 382.69L632.03 401.39M615.91 369.04L615.05 382.02M628.6 381.55L625.23 396.99M631.05 390.92L630.55 401.22" fill="none" stroke="#78516e" stroke-width="3.4" stroke-linecap="round"/>
<path d="M626.76 367.83L626.12 383.64M619.72 371.5L623.85 386.99M619.22 380.26L618.26 393.54M626.4 372.44L627.19 390.08M611.46 375.61L613.92 391.32M611.9 369.38L614.24 379.57M622.56 376.85L625.08 393.31M623.01 387.81L620.89 401.62M625.4 373.88L625.52 392.67M624.08 369.13L630.15 386.83M630.39 375.37L628.43 387.44M620.65 376.69L615.71 396.21M630.32 382.69L632.03 401.39M615.91 369.04L615.05 382.02M628.6 381.55L625.23 396.99M631.05 390.92L630.55 401.22" fill="none" stroke="#c987b8" stroke-width="2.6" stroke-linecap="round"/>
<path d="M626.76 367.83L626.12 383.64M619.72 371.5L623.85 386.99M619.22 380.26L618.26 393.54M626.4 372.44L627.19 390.08M611.46 375.61L613.92 391.32M611.9 369.38L614.24 379.57M622.56 376.85L625.08 393.31M623.01 387.81L620.89 401.62M625.4 373.88L625.52 392.67M624.08 369.13L630.15 386.83M630.39 375.37L628.43 387.44M620.65 376.69L615.71 396.21M630.32 382.69L632.03 401.39M615.91 369.04L615.05 382.02M628.6 381.55L625.23 396.99M631.05 390.92L630.55 401.22" fill="none" stroke="#78516e" stroke-width="2.34" stroke-dasharray="1 1.6"/>
<path d="M626.76 367.83L626.12 383.64M619.72 371.5L623.85 386.99M619.22 380.26L618.26 393.54M626.4 372.44L627.19 390.08M611.46 375.61L613.92 391.32M611.9 369.38L614.24 379.57M622.56 376.85L625.08 393.31M623.01 387.81L620.89 401.62M625.4 373.88L625.52 392.67M624.08 369.13L630.15 386.83M630.39 375.37L628.43 387.44M620.65 376.69L615.71 396.21M630.32 382.69L632.03 401.39M615.91 369.04L615.05 382.02M628.6 381.55L625.23 396.99M631.05 390.92L630.55 401.22" fill="none" stroke="#e4c3db" stroke-width="1.17" stroke-dasharray="0.8 1.8" stroke-dashoffset="-1.3" opacity="0.85"/>
<path d="M618.05 431.08Q617 426.84 622.54 422.61T617.76 416.96M620.22 397.2Q616.08 402.49 613.13 405.08T609.69 399.24M609.23 401.49Q614.67 400.97 611.66 395.53T613.36 393.33M614.77 415.67Q617.3 413.77 618.04 410.03T618.75 404.53M627.43 417.32Q626.19 420.31 627.14 422.82T626.45 421.62M632.14 404.15Q630.24 401.03 626.71 405.39T624.46 408.23M610.55 437.6Q610.18 440.53 605.45 441.78T609.19 439.24M611.98 413.23Q615.21 416.38 609.98 414.27T614.96 411.73" fill="none" stroke="#78516e" stroke-width="0.5"/>
<path d="M626.64 412.97L618.04 413.71M619.85 397.81L617.14 401.17M621.76 432.79L618.33 438.95M626.41 400.03L617.65 403.68M613.33 410.61L609.09 412.08M616.42 409.36L612.25 409.79M625.9 431.55L621.66 430.26M629.28 402.78L620.18 401.12M625.77 398.23L626.38 406.52M633.6 420.85L631.77 415.73M628.14 416.49L621.3 414.26M634.67 413.3L628.13 409.26M617.9 419.25L612.78 419.74M619.76 401.65L616.87 396.63M628.15 408.56L624.49 403.98M618.92 417.34L612.9 410.58M635.38 434.16L630.4 439.08M631.99 431.2L627.42 433.17M618.83 430.55L612.77 437.56M621.51 405.66L616.71 411.33M617.42 426.03L613.6 428.86M618.9 421.41L609.47 422.43M635.24 431.28L633.76 437.08M622.92 434.9L618.63 438.42M632.36 424.3L625.53 418.78M628.44 430.55L627.16 435.74M618.45 430.55L611.29 429.23M629.16 407.71L621.33 412.27" fill="none" stroke="#78516e" stroke-width="3.4" stroke-linecap="round"/>
<path d="M626.64 412.97L618.04 413.71M619.85 397.81L617.14 401.17M621.76 432.79L618.33 438.95M626.41 400.03L617.65 403.68M613.33 410.61L609.09 412.08M616.42 409.36L612.25 409.79M625.9 431.55L621.66 430.26M629.28 402.78L620.18 401.12M625.77 398.23L626.38 406.52M633.6 420.85L631.77 415.73M628.14 416.49L621.3 414.26M634.67 413.3L628.13 409.26M617.9 419.25L612.78 419.74M619.76 401.65L616.87 396.63M628.15 408.56L624.49 403.98M618.92 417.34L612.9 410.58M635.38 434.16L630.4 439.08M631.99 431.2L627.42 433.17M618.83 430.55L612.77 437.56M621.51 405.66L616.71 411.33M617.42 426.03L613.6 428.86M618.9 421.41L609.47 422.43M635.24 431.28L633.76 437.08M622.92 434.9L618.63 438.42M632.36 424.3L625.53 418.78M628.44 430.55L627.16 435.74M618.45 430.55L611.29 429.23M629.16 407.71L621.33 412.27" fill="none" stroke="#c987b8" stroke-width="2.6" stroke-linecap="round"/>
<path d="M626.64 412.97L618.04 413.71M619.85 397.81L617.14 401.17M621.76 432.79L618.33 438.95M626.41 400.03L617.65 403.68M613.33 410.61L609.09 412.08M616.42 409.36L612.25 409.79M625.9 431.55L621.66 430.26M629.28 402.78L620.18 401.12M625.77 398.23L626.38 406.52M633.6 420.85L631.77 415.73M628.14 416.49L621.3 414.26M634.67 413.3L628.13 409.26M617.9 419.25L612.78 419.74M619.76 401.65L616.87 396.63M628.15 408.56L624.49 403.98M618.92 417.34L612.9 410.58M635.38 434.16L630.4 439.08M631.99 431.2L627.42 433.17M618.83 430.55L612.77 437.56M621.51 405.66L616.71 411.33M617.42 426.03L613.6 428.86M618.9 421.41L609.47 422.43M635.24 431.28L633.76 437.08M622.92 434.9L618.63 438.42M632.36 424.3L625.53 418.78M628.44 430.55L627.16 435.74M618.45 430.55L611.29 429.23M629.16 407.71L621.33 412.27" fill="none" stroke="#78516e" stroke-width="2.34" stroke-dasharray="1 1.6"/>
<path d="M626.64 412.97L618.04 413.71M619.85 397.81L617.14 401.17M621.76 432.79L618.33 438.95M626.41 400.03L617.65 403.68M613.33 410.61L609.09 412.08M616.42 409.36L612.25 409.79M625.9 431.55L621.66 430.26M629.28 402.78L620.18 401.12M625.77 398.23L626.38 406.52M633.6 420.85L631.77 415.73M628.14 416.49L621.3 414.26M634.67 413.3L628.13 409.26M617.9 419.25L612.78 419.74M619.76 401.65L616.87 396.63M628.15 408.56L624.49 403.98M618.92 417.34L612.9 410.58M635.38 434.16L630.4 439.08M631.99 431.2L627.42 433.17M618.83 430.55L612.77 437.56M621.51 405.66L616.71 411.33M617.42 426.03L613.6 428.86M618.9 421.41L609.47 422.43M635.24 431.28L633.76 437.08M622.92 434.9L618.63 438.42M632.36 424.3L625.53 418.78M628.44 430.55L627.16 435.74M618.45 430.55L611.29 429.23M629.16 407.71L621.33 412.27" fill="none" stroke="#e4c3db" stroke-width="1.17" stroke-dasharray="0.8 1.8" stroke-dashoffset="-1.3" opacity="0.85"/>
<path d="M596 368Q592 360 598 356Q604 354 606 360M612 366Q610 358 616 356Q624 356 622 364" fill="none" stroke="#b0a0c8" stroke-width="0.7"/>
<defs><filter id="bl1" x="-50%" y="-50%" width="200%" height="200%"><feGaussianBlur stdDeviation="1.2"/></filter><filter id="bl2" x="-50%" y="-50%" width="200%" height="200%"><feGaussianBlur stdDeviation="2.2"/></filter><filter id="bl3" x="-50%" y="-50%" width="200%" height="200%"><feGaussianBlur stdDeviation="3.5"/></filter><pattern id="gridw" width="2.9" height="2.9" patternUnits="userSpaceOnUse"><path d="M0 0.3H2.9M0.3 0V2.9" stroke="#fff" stroke-width="0.7" opacity="0.55"/></pattern><pattern id="dotpat" width="3.2" height="3.2" patternUnits="userSpaceOnUse"><rect width="3.2" height="3.2" fill="#fff" opacity="0.35"/><circle cx="1.6" cy="1.6" r="1.0" fill="#e23b2b" opacity="0.55"/></pattern></defs>
<clipPath id="triE"><polygon points="43.7,498.9 277,731.5 43.7,731.5"/></clipPath>
<g clip-path="url(#triE)">
<rect x="43.7" y="498.9" width="233.3" height="232.6" fill="#fdf4f0"/>
<path d="M45.39 498.9V731.5M49.05 498.9V731.5M52.14 498.9V731.5M55.72 498.9V731.5M59.05 498.9V731.5M61.68 498.9V731.5M64.92 498.9V731.5M69.2 498.9V731.5M71.81 498.9V731.5M75.08 498.9V731.5M79.29 498.9V731.5M81.96 498.9V731.5M85.7 498.9V731.5M88.57 498.9V731.5M92.07 498.9V731.5M94.78 498.9V731.5M98.66 498.9V731.5M102.24 498.9V731.5M105.13 498.9V731.5M108.69 498.9V731.5M111.91 498.9V731.5M114.48 498.9V731.5M118.61 498.9V731.5M121.71 498.9V731.5M124.66 498.9V731.5M127.64 498.9V731.5M131.94 498.9V731.5M134.77 498.9V731.5M138.36 498.9V731.5M141.85 498.9V731.5M144.96 498.9V731.5M148.51 498.9V731.5M151.17 498.9V731.5M154.96 498.9V731.5M157.83 498.9V731.5M161.72 498.9V731.5M164.95 498.9V731.5M167.32 498.9V731.5M170.66 498.9V731.5M174.06 498.9V731.5M178.26 498.9V731.5M180.92 498.9V731.5M184.45 498.9V731.5M187.36 498.9V731.5M190.91 498.9V731.5M194.06 498.9V731.5M197.32 498.9V731.5M200.9 498.9V731.5M204.2 498.9V731.5M207.89 498.9V731.5M210.92 498.9V731.5M214.51 498.9V731.5M217.73 498.9V731.5M221.19 498.9V731.5M224.11 498.9V731.5M226.8 498.9V731.5M230.93 498.9V731.5M234.36 498.9V731.5M237.59 498.9V731.5M240.48 498.9V731.5M243.96 498.9V731.5M246.65 498.9V731.5M250.7 498.9V731.5M253.69 498.9V731.5M256.64 498.9V731.5M259.68 498.9V731.5M263.92 498.9V731.5M267.39 498.9V731.5M269.61 498.9V731.5M273.76 498.9V731.5M276.59 498.9V731.5M43.7 500.48H277M43.7 503.95H277M43.7 507.82H277M43.7 511.25H277M43.7 513.55H277M43.7 517.54H277M43.7 520.15H277M43.7 524.26H277M43.7 527.1H277M43.7 531.06H277M43.7 534.48H277M43.7 537.21H277M43.7 541.1H277M43.7 543.57H277M43.7 546.59H277M43.7 550.52H277M43.7 553.14H277M43.7 556.64H277M43.7 560.19H277M43.7 563.73H277M43.7 566.49H277M43.7 569.65H277M43.7 573.94H277M43.7 576.58H277M43.7 580.65H277M43.7 583.88H277M43.7 586.55H277M43.7 589.95H277M43.7 593.32H277M43.7 596.77H277M43.7 600.01H277M43.7 603.27H277M43.7 606.64H277M43.7 610.33H277M43.7 613.11H277M43.7 616.32H277M43.7 619.96H277M43.7 622.69H277M43.7 626.06H277M43.7 630.17H277M43.7 632.93H277M43.7 636.26H277M43.7 638.91H277M43.7 642.7H277M43.7 646.2H277M43.7 648.82H277M43.7 652.84H277M43.7 656.16H277M43.7 658.77H277M43.7 662.75H277M43.7 665.86H277M43.7 669.42H277M43.7 672.32H277M43.7 676.05H277M43.7 679.39H277M43.7 681.83H277M43.7 685.17H277M43.7 689.21H277M43.7 692.86H277M43.7 695.3H277M43.7 698.85H277M43.7 702.31H277M43.7 705.28H277M43.7 708.64H277M43.7 711.88H277M43.7 715.24H277M43.7 718.81H277M43.7 721.76H277M43.7 725.15H277M43.7 728.93H277" stroke="#ee9a86" stroke-width="0.5" opacity="0.06" fill="none"/>
<path d="M111.27 722.31H205.54" stroke="#e86a50" stroke-width="0.95" opacity="0.19"/><path d="M49.98 588.26V680.36" stroke="#e86a50" stroke-width="0.73" opacity="0.23"/><path d="M241.15 718.75V731.5" stroke="#e86a50" stroke-width="1.1" opacity="0.19"/><path d="M78.91 702.5H166.52" stroke="#e86a50" stroke-width="0.88" opacity="0.09"/><path d="M169.67 704.16V731.5" stroke="#e86a50" stroke-width="0.75" opacity="0.29"/><path d="M276.14 609.18H277" stroke="#e86a50" stroke-width="1.01" opacity="0.1"/><path d="M130.53 503.05H146.22" stroke="#e86a50" stroke-width="0.98" opacity="0.26"/><path d="M224.36 586.09H277" stroke="#e86a50" stroke-width="0.72" opacity="0.16"/><path d="M127.62 621.46H167.01" stroke="#e86a50" stroke-width="0.99" opacity="0.2"/><path d="M172.83 628.12H197.07" stroke="#e86a50" stroke-width="0.93" opacity="0.12"/><path d="M121.17 710.34V731.5" stroke="#e86a50" stroke-width="0.74" opacity="0.28"/><path d="M152.69 579.85H192.66" stroke="#e86a50" stroke-width="0.92" opacity="0.08"/><path d="M61.2 728.43V731.5" stroke="#e86a50" stroke-width="0.61" opacity="0.24"/><path d="M214.39 592.64H277" stroke="#e86a50" stroke-width="0.9" opacity="0.2"/><path d="M102.36 533.98V556.12" stroke="#e86a50" stroke-width="0.71" opacity="0.17"/><path d="M258.38 686.13H277" stroke="#e86a50" stroke-width="0.62" opacity="0.27"/><path d="M223.57 694.04V731.5" stroke="#e86a50" stroke-width="0.8" opacity="0.28"/><path d="M192.2 555.12V623.67" stroke="#e86a50" stroke-width="0.73" opacity="0.1"/><path d="M212.81 612.13V665.34" stroke="#e86a50" stroke-width="0.84" opacity="0.12"/><path d="M269.39 602.42H277" stroke="#e86a50" stroke-width="0.71" opacity="0.2"/><path d="M128.64 505.5V597.4" stroke="#e86a50" stroke-width="0.88" opacity="0.15"/><path d="M178.68 575.37H277" stroke="#e86a50" stroke-width="0.88" opacity="0.17"/><path d="M276.56 674.46V717.83" stroke="#e86a50" stroke-width="0.78" opacity="0.21"/><path d="M88.51 620.62H161.84" stroke="#e86a50" stroke-width="0.95" opacity="0.21"/><path d="M147.65 616.19V685.18" stroke="#e86a50" stroke-width="0.84" opacity="0.25"/><path d="M274.16 691.1V731.5" stroke="#e86a50" stroke-width="0.98" opacity="0.08"/><path d="M164.46 661.56V674.59" stroke="#e86a50" stroke-width="0.84" opacity="0.13"/><path d="M66.72 729.89H176.67" stroke="#e86a50" stroke-width="1.02" opacity="0.28"/><path d="M95.5 675.51H176.93" stroke="#e86a50" stroke-width="1.03" opacity="0.09"/><path d="M57.31 624.31V655" stroke="#e86a50" stroke-width="0.87" opacity="0.25"/><path d="M170.55 689.54V731.5" stroke="#e86a50" stroke-width="0.8" opacity="0.14"/><path d="M220.45 577.81H277" stroke="#e86a50" stroke-width="0.62" opacity="0.08"/><path d="M118.74 576.65V645.87" stroke="#e86a50" stroke-width="0.72" opacity="0.24"/><path d="M72.78 557.04V641.95" stroke="#e86a50" stroke-width="0.76" opacity="0.19"/><path d="M93.54 727.89V731.5" stroke="#e86a50" stroke-width="0.68" opacity="0.12"/><path d="M166.9 589.25V656.82" stroke="#e86a50" stroke-width="0.98" opacity="0.14"/><path d="M168.47 537.16H213.35" stroke="#e86a50" stroke-width="1" opacity="0.11"/><path d="M187.58 593.6H216.13" stroke="#e86a50" stroke-width="0.96" opacity="0.27"/><path d="M118.75 675.23V731.5" stroke="#e86a50" stroke-width="1" opacity="0.25"/><path d="M102.18 543.33V554.1" stroke="#e86a50" stroke-width="0.66" opacity="0.14"/><path d="M251.26 586.87V615.61" stroke="#e86a50" stroke-width="1.07" opacity="0.19"/><path d="M221.85 573.65V689.68" stroke="#e86a50" stroke-width="0.97" opacity="0.1"/><path d="M163.61 713.3H189.41" stroke="#e86a50" stroke-width="0.65" opacity="0.15"/><path d="M224.24 650.99H277" stroke="#e86a50" stroke-width="0.72" opacity="0.26"/><path d="M145.46 694.11H185.18" stroke="#e86a50" stroke-width="0.64" opacity="0.13"/><path d="M117.39 546.21H131.26" stroke="#e86a50" stroke-width="0.88" opacity="0.17"/><path d="M142.43 613.35H180.95" stroke="#e86a50" stroke-width="0.75" opacity="0.09"/><path d="M93.39 673.81H126.27" stroke="#e86a50" stroke-width="0.78" opacity="0.28"/><path d="M191.48 552.39H243.25" stroke="#e86a50" stroke-width="0.83" opacity="0.27"/><path d="M262.88 680.81H277" stroke="#e86a50" stroke-width="0.82" opacity="0.12"/><path d="M248.65 677.53V712.58" stroke="#e86a50" stroke-width="0.8" opacity="0.22"/><path d="M99.5 660.03H214.12" stroke="#e86a50" stroke-width="1.06" opacity="0.19"/><path d="M154.1 593.46V711.01" stroke="#e86a50" stroke-width="0.84" opacity="0.27"/><path d="M50.77 608.72V640.59" stroke="#e86a50" stroke-width="0.73" opacity="0.29"/><path d="M146.61 519.26V561.86" stroke="#e86a50" stroke-width="0.91" opacity="0.09"/><path d="M131.99 560.14V632.11" stroke="#e86a50" stroke-width="0.99" opacity="0.14"/><path d="M257.93 623.28H277" stroke="#e86a50" stroke-width="0.74" opacity="0.09"/><path d="M222.76 720.2H244.59" stroke="#e86a50" stroke-width="0.79" opacity="0.22"/><path d="M220.7 613.57V731.21" stroke="#e86a50" stroke-width="0.6" opacity="0.19"/><path d="M164.69 533.53V585.58" stroke="#e86a50" stroke-width="0.91" opacity="0.26"/><path d="M135.09 524.37V616.1" stroke="#e86a50" stroke-width="0.67" opacity="0.29"/><path d="M250.24 509.85H277" stroke="#e86a50" stroke-width="1.1" opacity="0.12"/><path d="M154.76 570.76V651.61" stroke="#e86a50" stroke-width="0.75" opacity="0.1"/><path d="M64.35 499.62V560.37" stroke="#e86a50" stroke-width="1.04" opacity="0.15"/><path d="M150.84 677V731.5" stroke="#e86a50" stroke-width="0.65" opacity="0.2"/><path d="M260.46 667.52V731.5" stroke="#e86a50" stroke-width="0.93" opacity="0.22"/><path d="M118.87 507.97V534.93" stroke="#e86a50" stroke-width="1.06" opacity="0.25"/><path d="M112.52 596.46V615.85" stroke="#e86a50" stroke-width="1.01" opacity="0.21"/><path d="M163.76 595.14V689.07" stroke="#e86a50" stroke-width="0.73" opacity="0.16"/><path d="M73.88 593.05H164.78" stroke="#e86a50" stroke-width="1.03" opacity="0.13"/><path d="M228.1 608.43H261.31" stroke="#e86a50" stroke-width="0.65" opacity="0.26"/><path d="M145.36 547.32H244.74" stroke="#e86a50" stroke-width="0.91" opacity="0.13"/><path d="M45.04 510.79V549.56" stroke="#e86a50" stroke-width="0.96" opacity="0.12"/><path d="M54.39 629.07V731.5" stroke="#e86a50" stroke-width="0.61" opacity="0.26"/><path d="M181.78 574.22H277" stroke="#e86a50" stroke-width="0.93" opacity="0.22"/><path d="M197.72 635.18H273.6" stroke="#e86a50" stroke-width="1.01" opacity="0.12"/><path d="M49.27 524.63H74.4" stroke="#e86a50" stroke-width="0.85" opacity="0.21"/><path d="M45.52 500.59H97.6" stroke="#e86a50" stroke-width="0.93" opacity="0.24"/><path d="M90.97 664.68V731.5" stroke="#e86a50" stroke-width="1.08" opacity="0.17"/><path d="M268.16 661.68V700.43" stroke="#e86a50" stroke-width="0.96" opacity="0.15"/><path d="M68.25 614.78V659.03" stroke="#e86a50" stroke-width="0.73" opacity="0.18"/><path d="M148.91 617.16V628.04" stroke="#e86a50" stroke-width="1" opacity="0.24"/><path d="M163.74 548.49V562.04" stroke="#e86a50" stroke-width="0.66" opacity="0.14"/><path d="M119.86 547.7V576.95" stroke="#e86a50" stroke-width="1.02" opacity="0.09"/><path d="M259.09 501.13H272.65" stroke="#e86a50" stroke-width="0.98" opacity="0.21"/><path d="M121.9 624.79V698.73" stroke="#e86a50" stroke-width="1.02" opacity="0.22"/><path d="M189.4 564.99V638.79" stroke="#e86a50" stroke-width="0.79" opacity="0.09"/><path d="M121.53 542.36H213.31" stroke="#e86a50" stroke-width="1.06" opacity="0.09"/><path d="M98.19 573.23H158.65" stroke="#e86a50" stroke-width="1.01" opacity="0.27"/><path d="M94.07 663.14H166.43" stroke="#e86a50" stroke-width="0.81" opacity="0.22"/>
<line x1="58" y1="533" x2="75" y2="553" stroke="#e8432f" stroke-width="3.5" stroke-linecap="round" opacity="0.55" filter="url(#bl1)"/>
<line x1="75" y1="533" x2="57" y2="552" stroke="#e8432f" stroke-width="3" stroke-linecap="round" opacity="0.5" filter="url(#bl1)"/>
<ellipse cx="66" cy="540" rx="6" ry="4" fill="#e8432f" opacity="0.7" filter="url(#bl2)"/>
<ellipse cx="47" cy="542" rx="3" ry="6" fill="#e8432f" opacity="0.35" filter="url(#bl2)"/>
<ellipse cx="54" cy="552" rx="5" ry="3" fill="#e8432f" opacity="0.45" filter="url(#bl2)"/>
<ellipse cx="87.5" cy="585" rx="5" ry="20" fill="#e8432f" opacity="0.55" filter="url(#bl2)"/>
<ellipse cx="87.5" cy="597" rx="4" ry="5" fill="#e8432f" opacity="0.8" filter="url(#bl2)"/>
<ellipse cx="88" cy="563" rx="6" ry="4" fill="#e8432f" opacity="0.5" filter="url(#bl2)"/>
<line x1="78" y1="559" x2="86" y2="568" stroke="#e8432f" stroke-width="3" stroke-linecap="round" opacity="0.35" filter="url(#bl1)"/>
<line x1="97" y1="559" x2="90" y2="568" stroke="#e8432f" stroke-width="3" stroke-linecap="round" opacity="0.35" filter="url(#bl1)"/>
<ellipse cx="87" cy="608" rx="4" ry="4" fill="#e8432f" opacity="0.35" filter="url(#bl2)"/>
<line x1="46" y1="617" x2="58" y2="630" stroke="#e8432f" stroke-width="3" stroke-linecap="round" opacity="0.45" filter="url(#bl1)"/>
<line x1="73" y1="617" x2="60" y2="631" stroke="#e8432f" stroke-width="3" stroke-linecap="round" opacity="0.45" filter="url(#bl1)"/>
<line x1="58" y1="635" x2="70" y2="646" stroke="#e8432f" stroke-width="3" stroke-linecap="round" opacity="0.45" filter="url(#bl1)"/>
<line x1="46" y1="645" x2="56" y2="636" stroke="#e8432f" stroke-width="3" stroke-linecap="round" opacity="0.4" filter="url(#bl1)"/>
<ellipse cx="51" cy="626" rx="3" ry="3" fill="#e8432f" opacity="0.5" filter="url(#bl2)"/>
<ellipse cx="133" cy="638" rx="8" ry="4" fill="#e8432f" opacity="0.6" filter="url(#bl2)"/>
<ellipse cx="104" cy="625" rx="4" ry="8" fill="#e8432f" opacity="0.35" filter="url(#bl2)"/>
<ellipse cx="154" cy="625" rx="4" ry="8" fill="#e8432f" opacity="0.3" filter="url(#bl2)"/>
<ellipse cx="128" cy="617" rx="16" ry="3" fill="#e8432f" opacity="0.3" filter="url(#bl2)"/>
<line x1="101" y1="616" x2="110" y2="628" stroke="#e8432f" stroke-width="3" stroke-linecap="round" opacity="0.3" filter="url(#bl1)"/>
<line x1="157" y1="616" x2="148" y2="628" stroke="#e8432f" stroke-width="3" stroke-linecap="round" opacity="0.3" filter="url(#bl1)"/>
<ellipse cx="86" cy="653" rx="8" ry="5" fill="#e8432f" opacity="0.7" filter="url(#bl2)"/>
<ellipse cx="95" cy="668" rx="4" ry="4" fill="#e8432f" opacity="0.35" filter="url(#bl2)"/>
<ellipse cx="79" cy="668" rx="3" ry="3" fill="#e8432f" opacity="0.3" filter="url(#bl2)"/>
<ellipse cx="181" cy="654" rx="7" ry="5" fill="#e8432f" opacity="0.7" filter="url(#bl2)"/>
<ellipse cx="170" cy="668" rx="6" ry="3" fill="#e8432f" opacity="0.45" filter="url(#bl2)"/>
<ellipse cx="163" cy="652" rx="3" ry="3" fill="#e8432f" opacity="0.3" filter="url(#bl2)"/>
<ellipse cx="62" cy="703" rx="6" ry="6" fill="#e8432f" opacity="0.55" filter="url(#bl2)"/>
<ellipse cx="61" cy="682" rx="8" ry="6" fill="#e8432f" opacity="0.3" filter="url(#bl2)"/>
<ellipse cx="61" cy="722" rx="7" ry="5" fill="#e8432f" opacity="0.3" filter="url(#bl2)"/>
<ellipse cx="50" cy="690" rx="3" ry="10" fill="#e8432f" opacity="0.25" filter="url(#bl2)"/>
<rect x="126" y="676" width="22" height="54" fill="#e8432f" opacity="0.55" filter="url(#bl2)"/>
<rect x="101" y="701" width="57" height="15" fill="#e8432f" opacity="0.48" filter="url(#bl2)"/>
<rect x="112" y="714" width="46" height="16" fill="#e8432f" opacity="0.4" filter="url(#bl2)"/>
<ellipse cx="136" cy="700" rx="7" ry="12" fill="#e8432f" opacity="0.35" filter="url(#bl2)"/>
<ellipse cx="136" cy="682" rx="6" ry="5" fill="#e8432f" opacity="0.3" filter="url(#bl2)"/>
<ellipse cx="108" cy="690" rx="6" ry="10" fill="#e8432f" opacity="0.12" filter="url(#bl3)"/>
<ellipse cx="201" cy="706" rx="4" ry="20" fill="#e8432f" opacity="0.5" filter="url(#bl2)"/>
<ellipse cx="201" cy="712" rx="4" ry="5" fill="#e8432f" opacity="0.6" filter="url(#bl2)"/>
<ellipse cx="201" cy="680" rx="6" ry="4" fill="#e8432f" opacity="0.4" filter="url(#bl2)"/>
<ellipse cx="120" cy="592" rx="40" ry="20" fill="#e8432f" opacity="0.04" filter="url(#bl3)"/>
<ellipse cx="230" cy="705" rx="30" ry="20" fill="#e8432f" opacity="0.03" filter="url(#bl3)"/>
<ellipse cx="190" cy="615" rx="20" ry="15" fill="#e8432f" opacity="0.03" filter="url(#bl3)"/>
<rect x="43.7" y="498.9" width="233.3" height="232.6" fill="url(#gridw)"/>
</g>
<rect x="44.2" y="530.8" width="32.2" height="24.5" fill="none" stroke="#d22222" stroke-width="2.1" stroke-dasharray="0.01 3.62" stroke-linecap="round"/>
<rect x="75.9" y="557.2" width="23.4" height="55.8" fill="none" stroke="#d22222" stroke-width="2.1" stroke-dasharray="0.01 3.62" stroke-linecap="round"/>
<rect x="44.2" y="614" width="31.9" height="32.8" fill="none" stroke="#d22222" stroke-width="2.1" stroke-dasharray="0.01 3.62" stroke-linecap="round"/>
<rect x="99.3" y="614" width="59.5" height="32.9" fill="none" stroke="#d22222" stroke-width="2.1" stroke-dasharray="0.01 3.62" stroke-linecap="round"/>
<rect x="75.2" y="647.8" width="24.4" height="24" fill="none" stroke="#d22222" stroke-width="2.1" stroke-dasharray="0.01 3.62" stroke-linecap="round"/>
<rect x="158.8" y="647.6" width="35" height="24.4" fill="none" stroke="#d22222" stroke-width="2.1" stroke-dasharray="0.01 3.62" stroke-linecap="round"/>
<rect x="44.2" y="673.5" width="31.3" height="56.9" fill="none" stroke="#d22222" stroke-width="2.1" stroke-dasharray="0.01 3.62" stroke-linecap="round"/>
<rect x="99.6" y="673.7" width="58.7" height="56.7" fill="none" stroke="#d22222" stroke-width="2.1" stroke-dasharray="0.01 3.62" stroke-linecap="round"/>
<rect x="193.1" y="673.6" width="16.2" height="56.8" fill="none" stroke="#d22222" stroke-width="2.1" stroke-dasharray="0.01 3.62" stroke-linecap="round"/>
<path d="M43.7 498.9V731.5H277Z" fill="none" stroke="#7a7a7a" stroke-width="1.6" stroke-linejoin="round"/>
<text x="60.2" y="536" font-size="10.8" text-anchor="middle" textLength="11.5" lengthAdjust="spacingAndGlyphs">A1</text>
<text x="60.2" y="547" font-size="10.8" text-anchor="middle" font-style="italic" textLength="8.6" lengthAdjust="spacingAndGlyphs">vs</text>
<text x="60.2" y="558.6" font-size="10.8" text-anchor="middle" textLength="11.5" lengthAdjust="spacingAndGlyphs">A2</text>
<text x="87.8" y="578.5" font-size="10.8" text-anchor="middle" textLength="11.5" lengthAdjust="spacingAndGlyphs">A2</text>
<text x="87.8" y="589.3" font-size="10.8" text-anchor="middle" font-style="italic" textLength="8.6" lengthAdjust="spacingAndGlyphs">vs</text>
<text x="87.8" y="601.5" font-size="10.8" text-anchor="middle" textLength="11.5" lengthAdjust="spacingAndGlyphs">A3</text>
<text x="60.2" y="622.8" font-size="10.8" text-anchor="middle" textLength="11.8" lengthAdjust="spacingAndGlyphs">A1</text>
<text x="60.2" y="634.5" font-size="10.8" text-anchor="middle" font-style="italic" textLength="8.6" lengthAdjust="spacingAndGlyphs">vs</text>
<text x="60.2" y="645.5" font-size="10.8" text-anchor="middle" textLength="11.8" lengthAdjust="spacingAndGlyphs">B1</text>
<text x="109.5" y="634.8" font-size="10.8" textLength="40.5" lengthAdjust="spacingAndGlyphs">A3 <tspan font-style="italic">vs</tspan> B1</text>
<text x="67.4" y="663.6" font-size="10.8" textLength="40.5" lengthAdjust="spacingAndGlyphs">A2 <tspan font-style="italic">vs</tspan> B2</text>
<text x="156.7" y="663.4" font-size="10.8" textLength="39.5" lengthAdjust="spacingAndGlyphs">B1 <tspan font-style="italic">vs</tspan> B2</text>
<text x="60.2" y="694.4" font-size="10.8" text-anchor="middle" textLength="11.8" lengthAdjust="spacingAndGlyphs">A1</text>
<text x="60.2" y="706.8" font-size="10.8" text-anchor="middle" font-style="italic" textLength="8.6" lengthAdjust="spacingAndGlyphs">vs</text>
<text x="60.2" y="718" font-size="10.8" text-anchor="middle" textLength="11.8" lengthAdjust="spacingAndGlyphs">B3</text>
<text x="109.3" y="706.9" font-size="10.8" textLength="40.4" lengthAdjust="spacingAndGlyphs">A3 <tspan font-style="italic">vs</tspan> B3</text>
<text x="201.7" y="694.4" font-size="10.8" text-anchor="middle" textLength="11.6" lengthAdjust="spacingAndGlyphs">B2</text>
<text x="201.7" y="707" font-size="10.8" text-anchor="middle" font-style="italic" textLength="8.6" lengthAdjust="spacingAndGlyphs">vs</text>
<text x="201.7" y="717.7" font-size="10.8" text-anchor="middle" textLength="11.6" lengthAdjust="spacingAndGlyphs">B3</text>
<path d="M43.4 739.9H277" fill="none" stroke="#8c8c8c" stroke-width="1.1"/>
<path d="M37.4 498.9V732.5" fill="none" stroke="#8c8c8c" stroke-width="1.1"/>
<rect x="46.1" y="737.3" width="6.3" height="5.3" fill="#b9b6da"/>
<rect x="34.8" y="501.29" width="5.3" height="6.28" fill="#b9b6da"/>
<rect x="58.1" y="737.3" width="6.1" height="5.3" fill="#b9b6da"/>
<rect x="34.8" y="513.26" width="5.3" height="6.08" fill="#b9b6da"/>
<rect x="69.8" y="737.3" width="6.7" height="5.3" fill="#b9b6da"/>
<rect x="34.8" y="524.92" width="5.3" height="6.68" fill="#b9b6da"/>
<rect x="82.2" y="737.3" width="5.7" height="5.3" fill="#b9b6da"/>
<rect x="34.8" y="537.28" width="5.3" height="5.68" fill="#b9b6da"/>
<rect x="94.1" y="737.3" width="6.1" height="5.3" fill="#b9b6da"/>
<rect x="34.8" y="549.15" width="5.3" height="6.08" fill="#b9b6da"/>
<rect x="106.9" y="737.3" width="5.6" height="5.3" fill="#b9b6da"/>
<rect x="34.8" y="561.91" width="5.3" height="5.58" fill="#b9b6da"/>
<rect x="119.2" y="737.3" width="37.6" height="5.3" fill="#b9b6da"/>
<rect x="34.8" y="574.17" width="5.3" height="37.49" fill="#b9b6da"/>
<rect x="163.3" y="737.3" width="6.1" height="5.3" fill="#b9b6da"/>
<rect x="34.8" y="618.14" width="5.3" height="6.08" fill="#b9b6da"/>
<rect x="175.5" y="737.3" width="6.2" height="5.3" fill="#b9b6da"/>
<rect x="34.8" y="630.3" width="5.3" height="6.18" fill="#b9b6da"/>
<rect x="187.8" y="737.3" width="6.1" height="5.3" fill="#b9b6da"/>
<rect x="34.8" y="642.57" width="5.3" height="6.08" fill="#b9b6da"/>
<rect x="196" y="737.3" width="35.7" height="5.3" fill="#b9b6da"/>
<rect x="34.8" y="650.74" width="5.3" height="35.59" fill="#b9b6da"/>
<rect x="235.5" y="737.3" width="38.3" height="5.3" fill="#b9b6da"/>
<rect x="34.8" y="690.12" width="5.3" height="38.19" fill="#b9b6da"/>
<text x="49.3" y="743.3" font-size="10" text-anchor="middle" textLength="5" lengthAdjust="spacingAndGlyphs">1</text>
<text x="40.9" y="504.48" font-size="10" text-anchor="middle" textLength="5" lengthAdjust="spacingAndGlyphs" transform="rotate(-90 40.9 504.48)">1</text>
<text x="61.1" y="743.3" font-size="10" text-anchor="middle" textLength="5.2" lengthAdjust="spacingAndGlyphs">2</text>
<text x="40.9" y="516.25" font-size="10" text-anchor="middle" textLength="5.2" lengthAdjust="spacingAndGlyphs" transform="rotate(-90 40.9 516.25)">2</text>
<text x="73.1" y="743.3" font-size="10" text-anchor="middle" textLength="5.2" lengthAdjust="spacingAndGlyphs">3</text>
<text x="40.9" y="528.21" font-size="10" text-anchor="middle" textLength="5.2" lengthAdjust="spacingAndGlyphs" transform="rotate(-90 40.9 528.21)">3</text>
<text x="85" y="743.3" font-size="10" text-anchor="middle" textLength="5.4" lengthAdjust="spacingAndGlyphs">4</text>
<text x="40.9" y="540.08" font-size="10" text-anchor="middle" textLength="5.4" lengthAdjust="spacingAndGlyphs" transform="rotate(-90 40.9 540.08)">4</text>
<text x="97.1" y="743.3" font-size="10" text-anchor="middle" textLength="5.2" lengthAdjust="spacingAndGlyphs">5</text>
<text x="40.9" y="552.14" font-size="10" text-anchor="middle" textLength="5.2" lengthAdjust="spacingAndGlyphs" transform="rotate(-90 40.9 552.14)">5</text>
<text x="109.7" y="743.3" font-size="10" text-anchor="middle" textLength="5.4" lengthAdjust="spacingAndGlyphs">6</text>
<text x="40.9" y="564.7" font-size="10" text-anchor="middle" textLength="5.4" lengthAdjust="spacingAndGlyphs" transform="rotate(-90 40.9 564.7)">6</text>
<text x="138" y="743.3" font-size="10" text-anchor="middle" textLength="28" lengthAdjust="spacingAndGlyphs">NBD1</text>
<text x="40.9" y="592.92" font-size="10" text-anchor="middle" textLength="28" lengthAdjust="spacingAndGlyphs" transform="rotate(-90 40.9 592.92)">NBD1</text>
<text x="166.3" y="743.3" font-size="10" text-anchor="middle" textLength="5" lengthAdjust="spacingAndGlyphs">7</text>
<text x="40.9" y="621.13" font-size="10" text-anchor="middle" textLength="5" lengthAdjust="spacingAndGlyphs" transform="rotate(-90 40.9 621.13)">7</text>
<text x="178.2" y="743.3" font-size="10" text-anchor="middle" textLength="5.4" lengthAdjust="spacingAndGlyphs">8</text>
<text x="40.9" y="633" font-size="10" text-anchor="middle" textLength="5.4" lengthAdjust="spacingAndGlyphs" transform="rotate(-90 40.9 633)">8</text>
<text x="190" y="743.3" font-size="10" text-anchor="middle" textLength="5.5" lengthAdjust="spacingAndGlyphs">9</text>
<text x="40.9" y="644.76" font-size="10" text-anchor="middle" textLength="5.5" lengthAdjust="spacingAndGlyphs" transform="rotate(-90 40.9 644.76)">9</text>
<text x="200.9" y="743.3" font-size="10" text-anchor="middle" textLength="10" lengthAdjust="spacingAndGlyphs">10</text>
<text x="40.9" y="655.63" font-size="10" text-anchor="middle" textLength="10" lengthAdjust="spacingAndGlyphs" transform="rotate(-90 40.9 655.63)">10</text>
<text x="212.7" y="743.3" font-size="10" text-anchor="middle" textLength="10" lengthAdjust="spacingAndGlyphs">11</text>
<text x="40.9" y="667.39" font-size="10" text-anchor="middle" textLength="10" lengthAdjust="spacingAndGlyphs" transform="rotate(-90 40.9 667.39)">11</text>
<text x="225.7" y="743.3" font-size="10" text-anchor="middle" textLength="10.5" lengthAdjust="spacingAndGlyphs">12</text>
<text x="40.9" y="680.35" font-size="10" text-anchor="middle" textLength="10.5" lengthAdjust="spacingAndGlyphs" transform="rotate(-90 40.9 680.35)">12</text>
<text x="254.6" y="743.3" font-size="10" text-anchor="middle" textLength="28" lengthAdjust="spacingAndGlyphs">NBD2</text>
<text x="40.9" y="709.17" font-size="10" text-anchor="middle" textLength="28" lengthAdjust="spacingAndGlyphs" transform="rotate(-90 40.9 709.17)">NBD2</text>
<path d="M43.7 745.8V750.6H159V745.8" fill="none" stroke="#7c7c7c" stroke-width="1.3"/>
<path d="M161.5 745.8V750.6H276.6V745.8" fill="none" stroke="#7c7c7c" stroke-width="1.3"/>
<path d="M31.1 498.9H26.1V613.85H31.1" fill="none" stroke="#7c7c7c" stroke-width="1.3"/>
<path d="M31.1 616.35H26.1V731H31.1" fill="none" stroke="#7c7c7c" stroke-width="1.3"/>
<text x="101.2" y="761.5" font-size="10.8" text-anchor="middle" textLength="36.2" lengthAdjust="spacingAndGlyphs">Chain A</text>
<text x="218.8" y="761.5" font-size="10.8" text-anchor="middle" textLength="36.2" lengthAdjust="spacingAndGlyphs">Chain B</text>
<text x="23.8" y="556.5" font-size="10.8" text-anchor="middle" textLength="36.2" lengthAdjust="spacingAndGlyphs" transform="rotate(-90 23.8 556.5)">Chain A</text>
<text x="23.8" y="672" font-size="10.8" text-anchor="middle" textLength="36.2" lengthAdjust="spacingAndGlyphs" transform="rotate(-90 23.8 672)">Chain B</text>
<text x="95.5" y="772.2" font-size="11.6" textLength="129.1" lengthAdjust="spacingAndGlyphs">The sequence of OF/IF ABCB1</text>
<text x="11.5" y="680.5" font-size="11.6" textLength="129.1" lengthAdjust="spacingAndGlyphs" transform="rotate(-90 11.5 680.5)">The sequence of OF/IF ABCB1</text>
<text x="0.8" y="507" font-size="15" font-weight="bold" font-style="italic">e</text>
<text x="153.2" y="515.4" font-size="12.9" fill="#595959"><tspan font-style="italic" textLength="18.3" lengthAdjust="spacingAndGlyphs">VSS</tspan><tspan font-style="italic" font-size="9.6" dy="3.4" textLength="27" lengthAdjust="spacingAndGlyphs">measur</tspan><tspan dy="-3.4">: 0.27</tspan></text>
<text x="152.2" y="534.4" font-size="12.9" fill="#595959"><tspan font-style="italic" textLength="19" lengthAdjust="spacingAndGlyphs">SPS</tspan><tspan font-style="italic" font-size="9.6" dy="3.4" textLength="27.7" lengthAdjust="spacingAndGlyphs">measur</tspan><tspan dy="-3.4">: </tspan><tspan font-weight="bold" textLength="23.3" lengthAdjust="spacingAndGlyphs">0.58</tspan></text>
<text x="152.8" y="553.2" font-size="12.9" fill="#595959" textLength="80.6" lengthAdjust="spacingAndGlyphs">TM-score: 0.65</text>
<text x="152.8" y="572.5" font-size="12.9" fill="#595959" textLength="91.1" lengthAdjust="spacingAndGlyphs">LDDT-sever: 0.78</text>
<text x="152.8" y="591" font-size="12.9" fill="#595959" textLength="63.5" lengthAdjust="spacingAndGlyphs">RMSD: <tspan font-weight="bold">3.99</tspan></text>
<path d="M143.8 523.8Q144.34 529.36 149.9 529.9Q144.34 530.44 143.8 536Q143.26 530.44 137.7 529.9Q143.26 529.36 143.8 523.8Z" fill="#c8201e"/>
<path d="M143.8 580.3Q144.34 585.86 149.9 586.4Q144.34 586.94 143.8 592.5Q143.26 586.94 137.7 586.4Q143.26 585.86 143.8 580.3Z" fill="#c8201e"/>
<circle cx="276.9" cy="511.9" r="5.1" fill="#7f9bd0"/>
<circle cx="276.9" cy="529.1" r="5.1" fill="#e6b84e"/>
<text x="286.7" y="517" font-size="14.2" font-family="Liberation Mono" font-weight="bold" textLength="18.3" lengthAdjust="spacingAndGlyphs">OF</text>
<text x="287.4" y="534.1" font-size="14.2" font-family="Liberation Mono" font-weight="bold" textLength="18.3" lengthAdjust="spacingAndGlyphs">IF</text>
<clipPath id="clipR0"><polygon points="45,470 339.5,470 339.5,777 280,777 280,733.5 46.8,498.9"/></clipPath>
<clipPath id="clipF0"><polygon points="397,470 685,470 685,777 623,777 623,735.5 397.4,504.5"/></clipPath>
<g clip-path="url(#clipR0)">
<path d="M266.51 647.37Q269.39 650.52 274.33 645.18T277.23 646.19M277.23 600.2Q277.98 597.65 278.78 602.2T284.54 602.82M278.03 551.6Q273.71 552.32 277.63 547.75T273.4 547.75M281.22 560.84Q284.89 555.74 281.9 557.76T275.98 555.63M277.44 642.12Q274.39 646.47 272.24 649.75T273.21 647.95M286.08 618.54Q283.91 619.42 281.44 616.85T286.7 622.55M248.21 642.81Q250.78 636.95 246.08 636.18T250.72 640.66M253.04 591Q258.15 587.52 253.4 586.5T255.57 590.97" fill="none" stroke="#d4d4d4" stroke-width="0.6"/>
<path d="M271.86 554.3L268.58 572.55M272.3 558.37L276.7 572.82M254.35 611.71L255.66 624.63M282.27 573.29L277.8 591.35M254.22 603.53L259.68 620.71M281.31 606.27L284.32 627.36M282.92 577.09L288.85 593.73M268.19 573.95L267.46 586.06M268.28 552.72L270.42 565.02M260.28 585.54L269.13 608.12M254.37 631.94L258 643.46M277.73 551.07L284.67 563.8M280.46 611L281.96 635.41M266.6 610.1L270.45 625.53M272.18 633.82L275.76 645.45M268.09 625.66L277.75 646.82M272.87 593.12L275.81 612.39M258.23 573.57L257.39 591.81M271.71 606.19L277.46 626.68M265.1 546.85L272.08 565.21M254.56 607.53L258.54 625.17M261.57 568.73L265.74 580.59M249.1 608.47L258.88 631.82M281.37 586.87L279.04 599.47M259.45 584.06L263.37 599.4M270.68 551.5L273.43 564.06M270.48 562.36L281.5 580.16M279.08 568.56L283.92 590.01M250.5 622.29L252.04 636.91M272.72 633.94L276.42 648.11M264.46 608.49L269.26 632.88M262.23 559.84L270.94 574.05M275.86 574.97L279.35 594.48M248.46 623.32L247.29 648.4M252.66 632.04L259.05 649.48M286.72 632.03L289.56 646.43M275.77 558.16L285.09 575.13M271.26 601.74L277.61 623.94M270.02 619.99L281.5 638.96M256.29 616.8L265.03 633.93M262.27 637.65L268.48 648.68M267.32 614.36L267.85 626.5M273.62 567.01L278.8 579.92M275.94 543.65L283.25 561.81M285.47 584.79L286.61 599.05M279.67 626.23L290.44 645.42" fill="none" stroke="#dbdbdb" stroke-width="6.8" stroke-linecap="round"/>
<path d="M271.86 554.3L268.58 572.55M272.3 558.37L276.7 572.82M254.35 611.71L255.66 624.63M282.27 573.29L277.8 591.35M254.22 603.53L259.68 620.71M281.31 606.27L284.32 627.36M282.92 577.09L288.85 593.73M268.19 573.95L267.46 586.06M268.28 552.72L270.42 565.02M260.28 585.54L269.13 608.12M254.37 631.94L258 643.46M277.73 551.07L284.67 563.8M280.46 611L281.96 635.41M266.6 610.1L270.45 625.53M272.18 633.82L275.76 645.45M268.09 625.66L277.75 646.82M272.87 593.12L275.81 612.39M258.23 573.57L257.39 591.81M271.71 606.19L277.46 626.68M265.1 546.85L272.08 565.21M254.56 607.53L258.54 625.17M261.57 568.73L265.74 580.59M249.1 608.47L258.88 631.82M281.37 586.87L279.04 599.47M259.45 584.06L263.37 599.4M270.68 551.5L273.43 564.06M270.48 562.36L281.5 580.16M279.08 568.56L283.92 590.01M250.5 622.29L252.04 636.91M272.72 633.94L276.42 648.11M264.46 608.49L269.26 632.88M262.23 559.84L270.94 574.05M275.86 574.97L279.35 594.48M248.46 623.32L247.29 648.4M252.66 632.04L259.05 649.48M286.72 632.03L289.56 646.43M275.77 558.16L285.09 575.13M271.26 601.74L277.61 623.94M270.02 619.99L281.5 638.96M256.29 616.8L265.03 633.93M262.27 637.65L268.48 648.68M267.32 614.36L267.85 626.5M273.62 567.01L278.8 579.92M275.94 543.65L283.25 561.81M285.47 584.79L286.61 599.05M279.67 626.23L290.44 645.42" fill="none" stroke="#ebebeb" stroke-width="6" stroke-linecap="round"/>
<path d="M271.86 554.3L268.58 572.55M272.3 558.37L276.7 572.82M254.35 611.71L255.66 624.63M282.27 573.29L277.8 591.35M254.22 603.53L259.68 620.71M281.31 606.27L284.32 627.36M282.92 577.09L288.85 593.73M268.19 573.95L267.46 586.06M268.28 552.72L270.42 565.02M260.28 585.54L269.13 608.12M254.37 631.94L258 643.46M277.73 551.07L284.67 563.8M280.46 611L281.96 635.41M266.6 610.1L270.45 625.53M272.18 633.82L275.76 645.45M268.09 625.66L277.75 646.82M272.87 593.12L275.81 612.39M258.23 573.57L257.39 591.81M271.71 606.19L277.46 626.68M265.1 546.85L272.08 565.21M254.56 607.53L258.54 625.17M261.57 568.73L265.74 580.59M249.1 608.47L258.88 631.82M281.37 586.87L279.04 599.47M259.45 584.06L263.37 599.4M270.68 551.5L273.43 564.06M270.48 562.36L281.5 580.16M279.08 568.56L283.92 590.01M250.5 622.29L252.04 636.91M272.72 633.94L276.42 648.11M264.46 608.49L269.26 632.88M262.23 559.84L270.94 574.05M275.86 574.97L279.35 594.48M248.46 623.32L247.29 648.4M252.66 632.04L259.05 649.48M286.72 632.03L289.56 646.43M275.77 558.16L285.09 575.13M271.26 601.74L277.61 623.94M270.02 619.99L281.5 638.96M256.29 616.8L265.03 633.93M262.27 637.65L268.48 648.68M267.32 614.36L267.85 626.5M273.62 567.01L278.8 579.92M275.94 543.65L283.25 561.81M285.47 584.79L286.61 599.05M279.67 626.23L290.44 645.42" fill="none" stroke="#dbdbdb" stroke-width="5.4" stroke-dasharray="1.8 2.6"/>
<path d="M271.86 554.3L268.58 572.55M272.3 558.37L276.7 572.82M254.35 611.71L255.66 624.63M282.27 573.29L277.8 591.35M254.22 603.53L259.68 620.71M281.31 606.27L284.32 627.36M282.92 577.09L288.85 593.73M268.19 573.95L267.46 586.06M268.28 552.72L270.42 565.02M260.28 585.54L269.13 608.12M254.37 631.94L258 643.46M277.73 551.07L284.67 563.8M280.46 611L281.96 635.41M266.6 610.1L270.45 625.53M272.18 633.82L275.76 645.45M268.09 625.66L277.75 646.82M272.87 593.12L275.81 612.39M258.23 573.57L257.39 591.81M271.71 606.19L277.46 626.68M265.1 546.85L272.08 565.21M254.56 607.53L258.54 625.17M261.57 568.73L265.74 580.59M249.1 608.47L258.88 631.82M281.37 586.87L279.04 599.47M259.45 584.06L263.37 599.4M270.68 551.5L273.43 564.06M270.48 562.36L281.5 580.16M279.08 568.56L283.92 590.01M250.5 622.29L252.04 636.91M272.72 633.94L276.42 648.11M264.46 608.49L269.26 632.88M262.23 559.84L270.94 574.05M275.86 574.97L279.35 594.48M248.46 623.32L247.29 648.4M252.66 632.04L259.05 649.48M286.72 632.03L289.56 646.43M275.77 558.16L285.09 575.13M271.26 601.74L277.61 623.94M270.02 619.99L281.5 638.96M256.29 616.8L265.03 633.93M262.27 637.65L268.48 648.68M267.32 614.36L267.85 626.5M273.62 567.01L278.8 579.92M275.94 543.65L283.25 561.81M285.47 584.79L286.61 599.05M279.67 626.23L290.44 645.42" fill="none" stroke="#fafafa" stroke-width="2.7" stroke-dasharray="1.44 2.96" stroke-dashoffset="-2.1" opacity="0.85"/>
<path d="M246.69 691.92Q250.55 695.75 252.82 701.49T258.49 700.76M248.21 685.39Q244.26 684.18 248.02 678.3T248.45 677.53M250.41 649.46Q250.69 647.46 245.86 646.28T248.01 641.24M279.54 650.75Q279.19 649.14 283.48 653.86T286.32 651.39M252.82 701.91Q252.94 703.54 255.63 699.84T254.24 705.29M253.26 703.54Q249.12 697.71 249.15 695.11T250.3 698.35M236.25 679.45Q234.74 684.32 238.87 688.94T241.77 687.1M269.92 682.55Q268.34 680.02 270.12 684.78T267.02 683.05M243.18 670.19Q241.84 665.32 243.58 663.44T247.26 660.36M243.81 670.55Q249.47 669.39 247.41 665.23T251.36 663.14M285.01 683.5Q281.16 689.42 285.97 692.4T287.19 695.45M288.97 658.61Q285.86 661.76 284.87 667.58T288.88 667.84M243.26 687.22Q244.48 688.19 247.82 687.92T252.54 689.06M243.31 701.64Q239.34 706.51 244.46 702.85T240.87 705.28M260.49 670.85Q263.51 668.88 259.07 669.49T263.6 675.01M240.15 696.47Q238.04 702.13 236.72 697.36T234.69 697.54" fill="none" stroke="#d4d4d4" stroke-width="0.6"/>
<path d="M239.36 683.14L245.83 691.86M256.91 682.38L255.67 692.84M274.57 674.33L278.72 667.71M262.99 665.44L263.13 655.2M241.15 691.63L243.71 684.08M237.95 673.56L240.72 662.39M260.67 702.55L266.48 690.62M239.03 656.66L248.34 661.96M268.73 680.21L272.52 669.52M265.02 680.51L277.13 674.37M258.52 683.84L261.35 692.51M275.72 692.94L278.47 679.9M269.71 677.25L270.57 686.4M278.45 671.9L291.95 671.16M247.94 670.48L244.78 681.32M244.28 670.63L249.33 676.62M237.02 668.66L240.34 675.05M237.35 660.13L244.43 650.66M254.79 659.89L261.27 663.67M245.52 693.81L256.94 698.77M280.45 670.76L283.8 683.05M266.25 657.06L276.26 664.24M250.3 700.04L262.9 705.53M285.17 674.15L289.48 680.6M264.97 693.12L278.32 693.75M265.66 674.79L276.35 680.73M239.43 682.01L245.05 670.25M287.04 671.18L291.78 665.93M284.01 676.28L290.08 676.31M263.69 661.16L271.9 667.62M262.65 679.92L274.75 675.1M271.08 647.56L261.12 653.41M243.6 702.71L250.84 709.28M261.52 654.83L262.58 663.48M260.98 689.69L263.51 695.91M281.72 676.23L284.63 667.68M241.89 664.35L252.88 670.15M274.41 706.95L279.89 695.43M273.36 666.66L268.14 662.49M281.96 664.06L289.46 662.5" fill="none" stroke="#dbdbdb" stroke-width="6.8" stroke-linecap="round"/>
<path d="M239.36 683.14L245.83 691.86M256.91 682.38L255.67 692.84M274.57 674.33L278.72 667.71M262.99 665.44L263.13 655.2M241.15 691.63L243.71 684.08M237.95 673.56L240.72 662.39M260.67 702.55L266.48 690.62M239.03 656.66L248.34 661.96M268.73 680.21L272.52 669.52M265.02 680.51L277.13 674.37M258.52 683.84L261.35 692.51M275.72 692.94L278.47 679.9M269.71 677.25L270.57 686.4M278.45 671.9L291.95 671.16M247.94 670.48L244.78 681.32M244.28 670.63L249.33 676.62M237.02 668.66L240.34 675.05M237.35 660.13L244.43 650.66M254.79 659.89L261.27 663.67M245.52 693.81L256.94 698.77M280.45 670.76L283.8 683.05M266.25 657.06L276.26 664.24M250.3 700.04L262.9 705.53M285.17 674.15L289.48 680.6M264.97 693.12L278.32 693.75M265.66 674.79L276.35 680.73M239.43 682.01L245.05 670.25M287.04 671.18L291.78 665.93M284.01 676.28L290.08 676.31M263.69 661.16L271.9 667.62M262.65 679.92L274.75 675.1M271.08 647.56L261.12 653.41M243.6 702.71L250.84 709.28M261.52 654.83L262.58 663.48M260.98 689.69L263.51 695.91M281.72 676.23L284.63 667.68M241.89 664.35L252.88 670.15M274.41 706.95L279.89 695.43M273.36 666.66L268.14 662.49M281.96 664.06L289.46 662.5" fill="none" stroke="#ebebeb" stroke-width="6" stroke-linecap="round"/>
<path d="M239.36 683.14L245.83 691.86M256.91 682.38L255.67 692.84M274.57 674.33L278.72 667.71M262.99 665.44L263.13 655.2M241.15 691.63L243.71 684.08M237.95 673.56L240.72 662.39M260.67 702.55L266.48 690.62M239.03 656.66L248.34 661.96M268.73 680.21L272.52 669.52M265.02 680.51L277.13 674.37M258.52 683.84L261.35 692.51M275.72 692.94L278.47 679.9M269.71 677.25L270.57 686.4M278.45 671.9L291.95 671.16M247.94 670.48L244.78 681.32M244.28 670.63L249.33 676.62M237.02 668.66L240.34 675.05M237.35 660.13L244.43 650.66M254.79 659.89L261.27 663.67M245.52 693.81L256.94 698.77M280.45 670.76L283.8 683.05M266.25 657.06L276.26 664.24M250.3 700.04L262.9 705.53M285.17 674.15L289.48 680.6M264.97 693.12L278.32 693.75M265.66 674.79L276.35 680.73M239.43 682.01L245.05 670.25M287.04 671.18L291.78 665.93M284.01 676.28L290.08 676.31M263.69 661.16L271.9 667.62M262.65 679.92L274.75 675.1M271.08 647.56L261.12 653.41M243.6 702.71L250.84 709.28M261.52 654.83L262.58 663.48M260.98 689.69L263.51 695.91M281.72 676.23L284.63 667.68M241.89 664.35L252.88 670.15M274.41 706.95L279.89 695.43M273.36 666.66L268.14 662.49M281.96 664.06L289.46 662.5" fill="none" stroke="#dbdbdb" stroke-width="5.4" stroke-dasharray="1.8 2.6"/>
<path d="M239.36 683.14L245.83 691.86M256.91 682.38L255.67 692.84M274.57 674.33L278.72 667.71M262.99 665.44L263.13 655.2M241.15 691.63L243.71 684.08M237.95 673.56L240.72 662.39M260.67 702.55L266.48 690.62M239.03 656.66L248.34 661.96M268.73 680.21L272.52 669.52M265.02 680.51L277.13 674.37M258.52 683.84L261.35 692.51M275.72 692.94L278.47 679.9M269.71 677.25L270.57 686.4M278.45 671.9L291.95 671.16M247.94 670.48L244.78 681.32M244.28 670.63L249.33 676.62M237.02 668.66L240.34 675.05M237.35 660.13L244.43 650.66M254.79 659.89L261.27 663.67M245.52 693.81L256.94 698.77M280.45 670.76L283.8 683.05M266.25 657.06L276.26 664.24M250.3 700.04L262.9 705.53M285.17 674.15L289.48 680.6M264.97 693.12L278.32 693.75M265.66 674.79L276.35 680.73M239.43 682.01L245.05 670.25M287.04 671.18L291.78 665.93M284.01 676.28L290.08 676.31M263.69 661.16L271.9 667.62M262.65 679.92L274.75 675.1M271.08 647.56L261.12 653.41M243.6 702.71L250.84 709.28M261.52 654.83L262.58 663.48M260.98 689.69L263.51 695.91M281.72 676.23L284.63 667.68M241.89 664.35L252.88 670.15M274.41 706.95L279.89 695.43M273.36 666.66L268.14 662.49M281.96 664.06L289.46 662.5" fill="none" stroke="#fafafa" stroke-width="2.7" stroke-dasharray="1.44 2.96" stroke-dashoffset="-2.1" opacity="0.85"/>
<path d="M295.6 645.08Q295.83 650.85 291.24 651.06T293.35 656.21M284.05 594.22Q288.75 593.87 283.44 593.28T280.68 595.15M279.13 640.06Q282.84 643.47 281.51 648.92T285.69 652.74M286.4 614.47Q281.98 608.9 276.16 603.55T276.27 608.88M287.42 629.01Q290.47 634.34 287.79 634.31T292.88 632.27M291.33 591.84Q287.17 588.28 285.49 582.63T290.07 580.89" fill="none" stroke="#6d8bc4" stroke-width="0.6"/>
<path d="M290.4 624.94L293.29 636.79M274.42 631.67L274.25 647.62M289.64 626.88L289.67 645.85M279.17 574.79L283.87 591.03M281.87 596.83L285.98 611.36M274.89 596.48L274.61 618.1M286.66 619.88L294.07 641.62M288.87 603.58L295.06 623.27M277.01 624.44L280.85 644.4M290.76 602.4L294.2 614.25M284.63 586.24L284.38 605.33M294.72 603.77L295.32 619.44M288.72 565.34L293.42 578.48M279.18 561.24L280.02 575.98M276.4 623.62L277.57 636.56M275.33 561.62L277.89 579.29M280.02 564.34L283.2 580.59M292.49 605.01L295.03 618.37M282.16 616.48L278.61 639.19M278.96 632.22L281.37 644.43M277.9 586.15L280.13 603.14M276.2 600.34L276.76 614.04M275.83 564.44L275.47 586.32M293.95 617.5L297.04 632.04M271.58 631.98L270.88 647.41M285.19 565.85L291.8 584.61" fill="none" stroke="#5e739c" stroke-width="6.6" stroke-linecap="round"/>
<path d="M290.4 624.94L293.29 636.79M274.42 631.67L274.25 647.62M289.64 626.88L289.67 645.85M279.17 574.79L283.87 591.03M281.87 596.83L285.98 611.36M274.89 596.48L274.61 618.1M286.66 619.88L294.07 641.62M288.87 603.58L295.06 623.27M277.01 624.44L280.85 644.4M290.76 602.4L294.2 614.25M284.63 586.24L284.38 605.33M294.72 603.77L295.32 619.44M288.72 565.34L293.42 578.48M279.18 561.24L280.02 575.98M276.4 623.62L277.57 636.56M275.33 561.62L277.89 579.29M280.02 564.34L283.2 580.59M292.49 605.01L295.03 618.37M282.16 616.48L278.61 639.19M278.96 632.22L281.37 644.43M277.9 586.15L280.13 603.14M276.2 600.34L276.76 614.04M275.83 564.44L275.47 586.32M293.95 617.5L297.04 632.04M271.58 631.98L270.88 647.41M285.19 565.85L291.8 584.61" fill="none" stroke="#7e9ad0" stroke-width="5.8" stroke-linecap="round"/>
<path d="M290.4 624.94L293.29 636.79M274.42 631.67L274.25 647.62M289.64 626.88L289.67 645.85M279.17 574.79L283.87 591.03M281.87 596.83L285.98 611.36M274.89 596.48L274.61 618.1M286.66 619.88L294.07 641.62M288.87 603.58L295.06 623.27M277.01 624.44L280.85 644.4M290.76 602.4L294.2 614.25M284.63 586.24L284.38 605.33M294.72 603.77L295.32 619.44M288.72 565.34L293.42 578.48M279.18 561.24L280.02 575.98M276.4 623.62L277.57 636.56M275.33 561.62L277.89 579.29M280.02 564.34L283.2 580.59M292.49 605.01L295.03 618.37M282.16 616.48L278.61 639.19M278.96 632.22L281.37 644.43M277.9 586.15L280.13 603.14M276.2 600.34L276.76 614.04M275.83 564.44L275.47 586.32M293.95 617.5L297.04 632.04M271.58 631.98L270.88 647.41M285.19 565.85L291.8 584.61" fill="none" stroke="#5e739c" stroke-width="5.22" stroke-dasharray="1.8 2.6"/>
<path d="M290.4 624.94L293.29 636.79M274.42 631.67L274.25 647.62M289.64 626.88L289.67 645.85M279.17 574.79L283.87 591.03M281.87 596.83L285.98 611.36M274.89 596.48L274.61 618.1M286.66 619.88L294.07 641.62M288.87 603.58L295.06 623.27M277.01 624.44L280.85 644.4M290.76 602.4L294.2 614.25M284.63 586.24L284.38 605.33M294.72 603.77L295.32 619.44M288.72 565.34L293.42 578.48M279.18 561.24L280.02 575.98M276.4 623.62L277.57 636.56M275.33 561.62L277.89 579.29M280.02 564.34L283.2 580.59M292.49 605.01L295.03 618.37M282.16 616.48L278.61 639.19M278.96 632.22L281.37 644.43M277.9 586.15L280.13 603.14M276.2 600.34L276.76 614.04M275.83 564.44L275.47 586.32M293.95 617.5L297.04 632.04M271.58 631.98L270.88 647.41M285.19 565.85L291.8 584.61" fill="none" stroke="#becce7" stroke-width="2.61" stroke-dasharray="1.44 2.96" stroke-dashoffset="-2.1" opacity="0.85"/>
<path d="M291.31 588.8Q293.22 593.11 288.19 588.72T289.65 593.98M309.46 601.64Q313.8 598.11 307.83 598.17T308.89 593.64M315.68 612.18Q319.67 610.17 314.48 606.88T311.28 604.83M309.09 571.33Q311.7 572.68 314.46 571.53T310.4 569.38M290.58 552.69Q290.83 556.67 292.96 560.07T287.72 559.36M296.71 569.78Q302.03 574.04 300.24 579.91T296.75 583.89M304.52 591.88Q310.38 595.4 312.72 597.3T314.47 601.15M311.23 590.79Q307.67 585.83 312.62 584.85T312.82 580.75" fill="none" stroke="#d9a534" stroke-width="0.6"/>
<path d="M301.2 606.13L306.99 627.01M303.51 553.12L307.93 565.39M298.27 627.27L299.92 641.68M299.59 597.41L307.75 613.39M286.33 553.08L292.71 566.49M292.48 572.92L295.5 586.42M290.68 547.72L299.66 569.56M300.54 577.75L307.85 595.64M296.16 607.14L306.02 629.24M308.63 618.98L313.53 631.37M305.34 614.68L311.46 632.6M314.66 593.57L320.74 616.42M288.33 566.1L297.78 587.07M285.6 568.28L288.96 580.41M293.75 555.91L298.33 569.36M311.24 592.21L318.23 612.97M316.98 622.29L321.8 644.47M305.28 596.6L315.23 614.59M306.13 577.17L310.4 597.32M302.17 577.59L308.53 600.85M295.65 575.48L297.51 593.61M307.85 633.29L311.28 651.26M305.64 585.73L311.54 601.7M289.6 561.55L294.64 574.25M295.22 611.54L302.02 636.51M298.91 637.45L304.62 653.27M302.65 628.03L307.48 648.49M298.15 549.02L303.91 560.87M313.38 609.22L325.39 630.92M302.12 554.51L307.82 572.73M303.37 599.73L308.64 611.14M313.32 631.56L316.55 653.61M289.75 568.19L295.88 587.59M309.23 574.45L315.64 590.08" fill="none" stroke="#b58d2d" stroke-width="6.6" stroke-linecap="round"/>
<path d="M301.2 606.13L306.99 627.01M303.51 553.12L307.93 565.39M298.27 627.27L299.92 641.68M299.59 597.41L307.75 613.39M286.33 553.08L292.71 566.49M292.48 572.92L295.5 586.42M290.68 547.72L299.66 569.56M300.54 577.75L307.85 595.64M296.16 607.14L306.02 629.24M308.63 618.98L313.53 631.37M305.34 614.68L311.46 632.6M314.66 593.57L320.74 616.42M288.33 566.1L297.78 587.07M285.6 568.28L288.96 580.41M293.75 555.91L298.33 569.36M311.24 592.21L318.23 612.97M316.98 622.29L321.8 644.47M305.28 596.6L315.23 614.59M306.13 577.17L310.4 597.32M302.17 577.59L308.53 600.85M295.65 575.48L297.51 593.61M307.85 633.29L311.28 651.26M305.64 585.73L311.54 601.7M289.6 561.55L294.64 574.25M295.22 611.54L302.02 636.51M298.91 637.45L304.62 653.27M302.65 628.03L307.48 648.49M298.15 549.02L303.91 560.87M313.38 609.22L325.39 630.92M302.12 554.51L307.82 572.73M303.37 599.73L308.64 611.14M313.32 631.56L316.55 653.61M289.75 568.19L295.88 587.59M309.23 574.45L315.64 590.08" fill="none" stroke="#e9b53a" stroke-width="5.8" stroke-linecap="round"/>
<path d="M301.2 606.13L306.99 627.01M303.51 553.12L307.93 565.39M298.27 627.27L299.92 641.68M299.59 597.41L307.75 613.39M286.33 553.08L292.71 566.49M292.48 572.92L295.5 586.42M290.68 547.72L299.66 569.56M300.54 577.75L307.85 595.64M296.16 607.14L306.02 629.24M308.63 618.98L313.53 631.37M305.34 614.68L311.46 632.6M314.66 593.57L320.74 616.42M288.33 566.1L297.78 587.07M285.6 568.28L288.96 580.41M293.75 555.91L298.33 569.36M311.24 592.21L318.23 612.97M316.98 622.29L321.8 644.47M305.28 596.6L315.23 614.59M306.13 577.17L310.4 597.32M302.17 577.59L308.53 600.85M295.65 575.48L297.51 593.61M307.85 633.29L311.28 651.26M305.64 585.73L311.54 601.7M289.6 561.55L294.64 574.25M295.22 611.54L302.02 636.51M298.91 637.45L304.62 653.27M302.65 628.03L307.48 648.49M298.15 549.02L303.91 560.87M313.38 609.22L325.39 630.92M302.12 554.51L307.82 572.73M303.37 599.73L308.64 611.14M313.32 631.56L316.55 653.61M289.75 568.19L295.88 587.59M309.23 574.45L315.64 590.08" fill="none" stroke="#b58d2d" stroke-width="5.22" stroke-dasharray="1.8 2.6"/>
<path d="M301.2 606.13L306.99 627.01M303.51 553.12L307.93 565.39M298.27 627.27L299.92 641.68M299.59 597.41L307.75 613.39M286.33 553.08L292.71 566.49M292.48 572.92L295.5 586.42M290.68 547.72L299.66 569.56M300.54 577.75L307.85 595.64M296.16 607.14L306.02 629.24M308.63 618.98L313.53 631.37M305.34 614.68L311.46 632.6M314.66 593.57L320.74 616.42M288.33 566.1L297.78 587.07M285.6 568.28L288.96 580.41M293.75 555.91L298.33 569.36M311.24 592.21L318.23 612.97M316.98 622.29L321.8 644.47M305.28 596.6L315.23 614.59M306.13 577.17L310.4 597.32M302.17 577.59L308.53 600.85M295.65 575.48L297.51 593.61M307.85 633.29L311.28 651.26M305.64 585.73L311.54 601.7M289.6 561.55L294.64 574.25M295.22 611.54L302.02 636.51M298.91 637.45L304.62 653.27M302.65 628.03L307.48 648.49M298.15 549.02L303.91 560.87M313.38 609.22L325.39 630.92M302.12 554.51L307.82 572.73M303.37 599.73L308.64 611.14M313.32 631.56L316.55 653.61M289.75 568.19L295.88 587.59M309.23 574.45L315.64 590.08" fill="none" stroke="#f4da9c" stroke-width="2.61" stroke-dasharray="1.44 2.96" stroke-dashoffset="-2.1" opacity="0.85"/>
<path d="M311.08 700.94Q315.76 702.31 313.99 703.53T314.89 703.07M332.37 678.25Q327.53 681.04 329.91 676.25T330.2 681.99M323.13 684.76Q322.87 683.86 328.7 681.23T328.27 676.37M317.12 684.1Q319.42 689.83 316.57 686.33T314.87 684.35M335.08 657.3Q334.75 663.29 333.65 662.79T332.67 660.67M308.43 694.38Q302.61 689.17 306.29 691.86T305.38 691.62M315.28 660.13Q314.48 658.41 315.58 656.45T316.65 650.94M315.24 667.2Q310.79 672.88 310.18 669.1T308.12 665.38M318.54 703.91Q324.11 700.67 326.63 701.43T329.8 697.31M328.28 694.79Q327.75 694.1 324.29 692.03T324.7 692.88M318 666.41Q322.63 665.91 321.19 665.63T325.3 666.87M327.42 693.73Q325.69 696.4 320.84 696.21T320.38 694.89" fill="none" stroke="#d9a534" stroke-width="0.6"/>
<path d="M330.04 662.13L336.99 669.06M327.49 668.84L329.65 660.65M306.78 685.15L312.57 693.5M299.56 665.56L303.66 675.2M309.12 691.35L320.31 702.62M314.41 700.85L328.67 702.4M323.42 657.21L311.9 662.39M323.66 676.35L332.78 687.55M317.07 672.12L317.33 687.5M320.07 651.96L330.82 652.7M302.36 657.37L311.8 663.62M303.75 684.7L313.04 690.69M314.04 694L326.51 696.49M305.33 702.06L314.67 703.18M297.84 698.72L311.93 700.13M300.23 649.38L308.95 654.82M330.95 667.44L334.62 680.07M327.6 675.49L335.81 677.63M319.46 687.7L330.85 692.07M305.32 660.25L315.27 652.2M305.7 691.21L312.82 694.31M302.07 685.28L311.13 696.5M319.49 682.01L330.18 674.36M308.76 688.56L307.43 699.46M308.11 671.77L322.23 674.5M303.6 669.98L311.59 673.12M321.17 685.94L328.26 689.26M310.66 687.2L317.95 689.65" fill="none" stroke="#b58d2d" stroke-width="6.6" stroke-linecap="round"/>
<path d="M330.04 662.13L336.99 669.06M327.49 668.84L329.65 660.65M306.78 685.15L312.57 693.5M299.56 665.56L303.66 675.2M309.12 691.35L320.31 702.62M314.41 700.85L328.67 702.4M323.42 657.21L311.9 662.39M323.66 676.35L332.78 687.55M317.07 672.12L317.33 687.5M320.07 651.96L330.82 652.7M302.36 657.37L311.8 663.62M303.75 684.7L313.04 690.69M314.04 694L326.51 696.49M305.33 702.06L314.67 703.18M297.84 698.72L311.93 700.13M300.23 649.38L308.95 654.82M330.95 667.44L334.62 680.07M327.6 675.49L335.81 677.63M319.46 687.7L330.85 692.07M305.32 660.25L315.27 652.2M305.7 691.21L312.82 694.31M302.07 685.28L311.13 696.5M319.49 682.01L330.18 674.36M308.76 688.56L307.43 699.46M308.11 671.77L322.23 674.5M303.6 669.98L311.59 673.12M321.17 685.94L328.26 689.26M310.66 687.2L317.95 689.65" fill="none" stroke="#e9b53a" stroke-width="5.8" stroke-linecap="round"/>
<path d="M330.04 662.13L336.99 669.06M327.49 668.84L329.65 660.65M306.78 685.15L312.57 693.5M299.56 665.56L303.66 675.2M309.12 691.35L320.31 702.62M314.41 700.85L328.67 702.4M323.42 657.21L311.9 662.39M323.66 676.35L332.78 687.55M317.07 672.12L317.33 687.5M320.07 651.96L330.82 652.7M302.36 657.37L311.8 663.62M303.75 684.7L313.04 690.69M314.04 694L326.51 696.49M305.33 702.06L314.67 703.18M297.84 698.72L311.93 700.13M300.23 649.38L308.95 654.82M330.95 667.44L334.62 680.07M327.6 675.49L335.81 677.63M319.46 687.7L330.85 692.07M305.32 660.25L315.27 652.2M305.7 691.21L312.82 694.31M302.07 685.28L311.13 696.5M319.49 682.01L330.18 674.36M308.76 688.56L307.43 699.46M308.11 671.77L322.23 674.5M303.6 669.98L311.59 673.12M321.17 685.94L328.26 689.26M310.66 687.2L317.95 689.65" fill="none" stroke="#b58d2d" stroke-width="5.22" stroke-dasharray="1.8 2.6"/>
<path d="M330.04 662.13L336.99 669.06M327.49 668.84L329.65 660.65M306.78 685.15L312.57 693.5M299.56 665.56L303.66 675.2M309.12 691.35L320.31 702.62M314.41 700.85L328.67 702.4M323.42 657.21L311.9 662.39M323.66 676.35L332.78 687.55M317.07 672.12L317.33 687.5M320.07 651.96L330.82 652.7M302.36 657.37L311.8 663.62M303.75 684.7L313.04 690.69M314.04 694L326.51 696.49M305.33 702.06L314.67 703.18M297.84 698.72L311.93 700.13M300.23 649.38L308.95 654.82M330.95 667.44L334.62 680.07M327.6 675.49L335.81 677.63M319.46 687.7L330.85 692.07M305.32 660.25L315.27 652.2M305.7 691.21L312.82 694.31M302.07 685.28L311.13 696.5M319.49 682.01L330.18 674.36M308.76 688.56L307.43 699.46M308.11 671.77L322.23 674.5M303.6 669.98L311.59 673.12M321.17 685.94L328.26 689.26M310.66 687.2L317.95 689.65" fill="none" stroke="#f4da9c" stroke-width="2.61" stroke-dasharray="1.44 2.96" stroke-dashoffset="-2.1" opacity="0.85"/>
<path d="M281.52 696.8Q285.05 699.89 286 699.62T282.33 701.61M291.41 678.07Q294.13 683.82 299.46 679.11T296.91 680.46M293.04 661.05Q298.21 660.58 301.39 655.21T298.74 649.48M297.6 678.62Q303.03 679.9 300.93 678.18T299.43 674.56M266.86 688.08Q264.62 687.52 267.13 684.81T266.41 682.69M276.59 689.31Q271.77 688.1 267.08 690.14T264.66 695.72M283.72 688.98Q284.01 692.82 286.42 694.51T280.8 690.21M295.79 670.48Q301.5 672.11 305.38 675.06T310.94 676.95M304.2 671.5Q301.4 666.82 298.44 671.55T300.33 666.08M286.5 666.71Q280.74 663.85 285.26 666.55T289.08 663.79M292.05 654.6Q289.67 660.08 286.23 657.59T282.84 662.01M292.93 683.73Q297.14 683.29 302.13 686.61T299.72 683.45M286.18 673.01Q289.65 674.84 292.57 676.08T289.73 679M293.99 657.28Q289.41 656.65 290.53 659.38T290.22 659.9" fill="none" stroke="#6d8bc4" stroke-width="0.6"/>
<path d="M276.25 704.3L282.15 707.37M268.94 701.71L275.08 700.84M269.85 644.98L274.42 650.89M276.94 689.5L283.91 699.01M279.58 702.02L281.77 694.33M272.81 686.46L284.41 679.43M286.02 674.47L293.63 675.78M298.56 674.6L305.95 683.62M272.35 672.96L278.33 678.31M264.38 705.39L268.61 710.68M294.95 685.81L302.22 697.73M293.58 689.71L299.88 695.17M284.56 688.42L288.94 679.93M298.97 683.38L303.57 677.05M274.07 684.52L284.7 681.1M273.77 677.36L284.43 673.29M274.1 684.87L279.4 696.51M279.65 697.6L277.06 703.3M288.97 700.15L290.33 708.81M273.81 687.61L280.09 685.8M270.94 705.14L279.07 703.51M289.54 695.57L299.66 694.51M276.92 680.93L283.06 686.98M295.14 665.06L300.37 677.14M290.99 674.17L294.32 686.71M274.08 663.64L279.93 652.15M283.93 646.81L289.6 649.83M296.09 662.11L300.38 655.39" fill="none" stroke="#5e739c" stroke-width="6.6" stroke-linecap="round"/>
<path d="M276.25 704.3L282.15 707.37M268.94 701.71L275.08 700.84M269.85 644.98L274.42 650.89M276.94 689.5L283.91 699.01M279.58 702.02L281.77 694.33M272.81 686.46L284.41 679.43M286.02 674.47L293.63 675.78M298.56 674.6L305.95 683.62M272.35 672.96L278.33 678.31M264.38 705.39L268.61 710.68M294.95 685.81L302.22 697.73M293.58 689.71L299.88 695.17M284.56 688.42L288.94 679.93M298.97 683.38L303.57 677.05M274.07 684.52L284.7 681.1M273.77 677.36L284.43 673.29M274.1 684.87L279.4 696.51M279.65 697.6L277.06 703.3M288.97 700.15L290.33 708.81M273.81 687.61L280.09 685.8M270.94 705.14L279.07 703.51M289.54 695.57L299.66 694.51M276.92 680.93L283.06 686.98M295.14 665.06L300.37 677.14M290.99 674.17L294.32 686.71M274.08 663.64L279.93 652.15M283.93 646.81L289.6 649.83M296.09 662.11L300.38 655.39" fill="none" stroke="#7e9ad0" stroke-width="5.8" stroke-linecap="round"/>
<path d="M276.25 704.3L282.15 707.37M268.94 701.71L275.08 700.84M269.85 644.98L274.42 650.89M276.94 689.5L283.91 699.01M279.58 702.02L281.77 694.33M272.81 686.46L284.41 679.43M286.02 674.47L293.63 675.78M298.56 674.6L305.95 683.62M272.35 672.96L278.33 678.31M264.38 705.39L268.61 710.68M294.95 685.81L302.22 697.73M293.58 689.71L299.88 695.17M284.56 688.42L288.94 679.93M298.97 683.38L303.57 677.05M274.07 684.52L284.7 681.1M273.77 677.36L284.43 673.29M274.1 684.87L279.4 696.51M279.65 697.6L277.06 703.3M288.97 700.15L290.33 708.81M273.81 687.61L280.09 685.8M270.94 705.14L279.07 703.51M289.54 695.57L299.66 694.51M276.92 680.93L283.06 686.98M295.14 665.06L300.37 677.14M290.99 674.17L294.32 686.71M274.08 663.64L279.93 652.15M283.93 646.81L289.6 649.83M296.09 662.11L300.38 655.39" fill="none" stroke="#5e739c" stroke-width="5.22" stroke-dasharray="1.8 2.6"/>
<path d="M276.25 704.3L282.15 707.37M268.94 701.71L275.08 700.84M269.85 644.98L274.42 650.89M276.94 689.5L283.91 699.01M279.58 702.02L281.77 694.33M272.81 686.46L284.41 679.43M286.02 674.47L293.63 675.78M298.56 674.6L305.95 683.62M272.35 672.96L278.33 678.31M264.38 705.39L268.61 710.68M294.95 685.81L302.22 697.73M293.58 689.71L299.88 695.17M284.56 688.42L288.94 679.93M298.97 683.38L303.57 677.05M274.07 684.52L284.7 681.1M273.77 677.36L284.43 673.29M274.1 684.87L279.4 696.51M279.65 697.6L277.06 703.3M288.97 700.15L290.33 708.81M273.81 687.61L280.09 685.8M270.94 705.14L279.07 703.51M289.54 695.57L299.66 694.51M276.92 680.93L283.06 686.98M295.14 665.06L300.37 677.14M290.99 674.17L294.32 686.71M274.08 663.64L279.93 652.15M283.93 646.81L289.6 649.83M296.09 662.11L300.38 655.39" fill="none" stroke="#becce7" stroke-width="2.61" stroke-dasharray="1.44 2.96" stroke-dashoffset="-2.1" opacity="0.85"/>
</g>
<text x="219" y="630.4" font-size="13.6" textLength="40.1" lengthAdjust="spacingAndGlyphs">ABCB1</text>
<clipPath id="triF"><polygon points="394.9,504.5 620,733.2 394.9,733.2"/></clipPath>
<g clip-path="url(#triF)">
<rect x="394.9" y="504.5" width="225.1" height="228.7" fill="#fdf4f0"/>
<path d="M396.02 504.5V733.2M398.74 504.5V733.2M401.4 504.5V733.2M404.14 504.5V733.2M406.54 504.5V733.2M409.32 504.5V733.2M411.03 504.5V733.2M414.07 504.5V733.2M417.14 504.5V733.2M419.45 504.5V733.2M422.3 504.5V733.2M424.11 504.5V733.2M427.07 504.5V733.2M429.45 504.5V733.2M432.34 504.5V733.2M434.97 504.5V733.2M437.01 504.5V733.2M439.82 504.5V733.2M442.48 504.5V733.2M445.72 504.5V733.2M448.17 504.5V733.2M450.16 504.5V733.2M453.4 504.5V733.2M455.34 504.5V733.2M458.42 504.5V733.2M460.53 504.5V733.2M463 504.5V733.2M466.47 504.5V733.2M468.41 504.5V733.2M471.02 504.5V733.2M474.38 504.5V733.2M476.87 504.5V733.2M478.89 504.5V733.2M482.16 504.5V733.2M484.34 504.5V733.2M487.08 504.5V733.2M489.2 504.5V733.2M492.54 504.5V733.2M494.89 504.5V733.2M497.77 504.5V733.2M500.29 504.5V733.2M502.3 504.5V733.2M504.96 504.5V733.2M507.37 504.5V733.2M509.95 504.5V733.2M512.47 504.5V733.2M515.3 504.5V733.2M518.2 504.5V733.2M520.2 504.5V733.2M523.48 504.5V733.2M525.74 504.5V733.2M528.31 504.5V733.2M531.42 504.5V733.2M533.68 504.5V733.2M536.12 504.5V733.2M538.88 504.5V733.2M541.7 504.5V733.2M543.66 504.5V733.2M547.18 504.5V733.2M548.82 504.5V733.2M552.15 504.5V733.2M554.84 504.5V733.2M556.62 504.5V733.2M559.99 504.5V733.2M562.17 504.5V733.2M564.98 504.5V733.2M567.01 504.5V733.2M569.65 504.5V733.2M572.38 504.5V733.2M575.76 504.5V733.2M577.6 504.5V733.2M580.76 504.5V733.2M583.53 504.5V733.2M586.14 504.5V733.2M588.14 504.5V733.2M590.75 504.5V733.2M593.52 504.5V733.2M596.38 504.5V733.2M598.31 504.5V733.2M601.55 504.5V733.2M604.2 504.5V733.2M606.86 504.5V733.2M608.64 504.5V733.2M612.15 504.5V733.2M613.89 504.5V733.2M616.74 504.5V733.2M619.61 504.5V733.2M622.52 504.5V733.2M394.9 505.34H620M394.9 508.52H620M394.9 510.75H620M394.9 513.11H620M394.9 515.72H620M394.9 518.18H620M394.9 520.68H620M394.9 523.35H620M394.9 526.49H620M394.9 529.4H620M394.9 531.16H620M394.9 533.65H620M394.9 537.19H620M394.9 539.33H620M394.9 541.81H620M394.9 544.24H620M394.9 547.19H620M394.9 550.03H620M394.9 552.26H620M394.9 554.82H620M394.9 557.06H620M394.9 560.52H620M394.9 562.23H620M394.9 565.29H620M394.9 568.24H620M394.9 570.13H620M394.9 573.33H620M394.9 576.15H620M394.9 578.43H620M394.9 581.19H620M394.9 583.11H620M394.9 586.03H620M394.9 588.35H620M394.9 591.64H620M394.9 593.69H620M394.9 596.45H620M394.9 599.6H620M394.9 602.05H620M394.9 604.78H620M394.9 606.85H620M394.9 609.49H620M394.9 612.33H620M394.9 614.68H620M394.9 617.09H620M394.9 619.8H620M394.9 622.15H620M394.9 624.98H620M394.9 628.19H620M394.9 630.76H620M394.9 633.03H620M394.9 635.5H620M394.9 637.94H620M394.9 640.29H620M394.9 643.07H620M394.9 646.18H620M394.9 648.87H620M394.9 650.96H620M394.9 653.99H620M394.9 656.57H620M394.9 659.09H620M394.9 661.66H620M394.9 664.36H620M394.9 666.56H620M394.9 669.5H620M394.9 671.68H620M394.9 674.49H620M394.9 677.37H620M394.9 679.89H620M394.9 682.09H620M394.9 685.35H620M394.9 687.65H620M394.9 690.18H620M394.9 692.21H620M394.9 695.35H620M394.9 697.65H620M394.9 700.67H620M394.9 703.06H620M394.9 706.02H620M394.9 708.45H620M394.9 711.2H620M394.9 713.35H620M394.9 716.24H620M394.9 718.94H620M394.9 721.63H620M394.9 723.75H620M394.9 726.84H620M394.9 729.47H620M394.9 731.89H620" stroke="#ee9a86" stroke-width="0.5" opacity="0.05" fill="none"/>
<path d="M510.04 623.53H563.33" stroke="#e86a50" stroke-width="1.1" opacity="0.23"/><path d="M453.67 564.06V610.07" stroke="#e86a50" stroke-width="0.73" opacity="0.14"/><path d="M464.92 634.69V666.86" stroke="#e86a50" stroke-width="0.64" opacity="0.1"/><path d="M560 593.36H620" stroke="#e86a50" stroke-width="0.81" opacity="0.12"/><path d="M484.05 677.32H566.47" stroke="#e86a50" stroke-width="0.75" opacity="0.1"/><path d="M609.63 685.62H620" stroke="#e86a50" stroke-width="0.87" opacity="0.28"/><path d="M426.09 593.76H504.98" stroke="#e86a50" stroke-width="0.65" opacity="0.24"/><path d="M497.21 614.22V637.4" stroke="#e86a50" stroke-width="0.84" opacity="0.24"/><path d="M596.65 702.57V733.2" stroke="#e86a50" stroke-width="0.72" opacity="0.19"/><path d="M420.48 665.79V704.71" stroke="#e86a50" stroke-width="0.66" opacity="0.09"/><path d="M560.44 609.94V653.07" stroke="#e86a50" stroke-width="0.94" opacity="0.14"/><path d="M549.65 676.49V697.64" stroke="#e86a50" stroke-width="0.63" opacity="0.09"/><path d="M493.22 508.19H533.45" stroke="#e86a50" stroke-width="0.64" opacity="0.19"/><path d="M500.03 530.17V608.4" stroke="#e86a50" stroke-width="1.04" opacity="0.12"/><path d="M540.88 649.47V660.43" stroke="#e86a50" stroke-width="0.79" opacity="0.23"/><path d="M523.1 716.95H597.88" stroke="#e86a50" stroke-width="1.08" opacity="0.22"/><path d="M569.26 518.58H620" stroke="#e86a50" stroke-width="0.71" opacity="0.13"/><path d="M425.49 676.41H471.06" stroke="#e86a50" stroke-width="0.86" opacity="0.12"/><path d="M609.96 670.32H620" stroke="#e86a50" stroke-width="0.94" opacity="0.14"/><path d="M502.6 602.67H519.47" stroke="#e86a50" stroke-width="1.02" opacity="0.14"/><path d="M604.25 621.81V727.35" stroke="#e86a50" stroke-width="0.73" opacity="0.11"/><path d="M467.9 588.98V647.96" stroke="#e86a50" stroke-width="1.02" opacity="0.18"/><path d="M545.2 625.45V680.89" stroke="#e86a50" stroke-width="0.62" opacity="0.29"/><path d="M477.53 640.23V690.61" stroke="#e86a50" stroke-width="0.75" opacity="0.16"/><path d="M613.89 594.12H620" stroke="#e86a50" stroke-width="0.93" opacity="0.14"/><path d="M591.61 622.15H620" stroke="#e86a50" stroke-width="0.62" opacity="0.2"/><path d="M559.37 560.6H620" stroke="#e86a50" stroke-width="0.74" opacity="0.23"/><path d="M527.59 606.07V624.01" stroke="#e86a50" stroke-width="0.82" opacity="0.11"/><path d="M571.67 585.42H620" stroke="#e86a50" stroke-width="0.73" opacity="0.2"/><path d="M495.62 555.05H539.07" stroke="#e86a50" stroke-width="0.89" opacity="0.16"/><path d="M437.74 519.08V542.94" stroke="#e86a50" stroke-width="0.86" opacity="0.25"/><path d="M513.18 608.12H526.09" stroke="#e86a50" stroke-width="0.71" opacity="0.19"/><path d="M572.29 599.87V624.86" stroke="#e86a50" stroke-width="0.87" opacity="0.15"/><path d="M531.77 524.17V617.4" stroke="#e86a50" stroke-width="0.82" opacity="0.11"/><path d="M561.14 724.39H620" stroke="#e86a50" stroke-width="1.07" opacity="0.09"/><path d="M561.75 595.27V711.62" stroke="#e86a50" stroke-width="0.81" opacity="0.14"/><path d="M491.03 508.83V585.91" stroke="#e86a50" stroke-width="1.1" opacity="0.08"/><path d="M435.48 561.45H453.25" stroke="#e86a50" stroke-width="1.07" opacity="0.29"/><path d="M545.1 721.25V733.2" stroke="#e86a50" stroke-width="0.63" opacity="0.09"/><path d="M464.77 661.93H583.02" stroke="#e86a50" stroke-width="0.74" opacity="0.09"/><path d="M476.57 517.23H506.36" stroke="#e86a50" stroke-width="0.92" opacity="0.11"/><path d="M536.21 528.94V647.1" stroke="#e86a50" stroke-width="0.99" opacity="0.19"/><path d="M524.29 566.6H568.97" stroke="#e86a50" stroke-width="0.71" opacity="0.13"/><path d="M618.4 684.67V719.69" stroke="#e86a50" stroke-width="0.9" opacity="0.19"/><path d="M481.17 668.25V685.86" stroke="#e86a50" stroke-width="1.07" opacity="0.12"/><path d="M504.66 711.5V733.2" stroke="#e86a50" stroke-width="0.87" opacity="0.14"/><path d="M437.5 583.88H504.87" stroke="#e86a50" stroke-width="0.92" opacity="0.3"/><path d="M397.68 725.3V733.2" stroke="#e86a50" stroke-width="1.02" opacity="0.21"/><path d="M436.92 724.86V733.2" stroke="#e86a50" stroke-width="0.63" opacity="0.27"/><path d="M522.93 510.05H604.48" stroke="#e86a50" stroke-width="0.82" opacity="0.22"/><path d="M457.62 658.08H553.21" stroke="#e86a50" stroke-width="1.05" opacity="0.14"/><path d="M424.72 526.02H528.25" stroke="#e86a50" stroke-width="1.08" opacity="0.17"/><path d="M552.89 594.24V627.9" stroke="#e86a50" stroke-width="1.05" opacity="0.28"/><path d="M473.56 537.91V591.55" stroke="#e86a50" stroke-width="0.92" opacity="0.1"/><path d="M427.5 614.93H497.85" stroke="#e86a50" stroke-width="0.61" opacity="0.19"/><path d="M504.58 604.73V717.01" stroke="#e86a50" stroke-width="0.66" opacity="0.23"/><path d="M511.9 592.87V710.83" stroke="#e86a50" stroke-width="1.06" opacity="0.14"/><path d="M518.89 686.5H551.1" stroke="#e86a50" stroke-width="0.68" opacity="0.29"/><path d="M402.62 657.6H444.74" stroke="#e86a50" stroke-width="0.64" opacity="0.12"/><path d="M503.52 589.1V643.48" stroke="#e86a50" stroke-width="0.83" opacity="0.2"/><path d="M565.49 638.34V733.2" stroke="#e86a50" stroke-width="0.68" opacity="0.25"/><path d="M456.4 723.79H507.79" stroke="#e86a50" stroke-width="0.77" opacity="0.14"/><path d="M490.66 619.25H600.05" stroke="#e86a50" stroke-width="0.92" opacity="0.15"/><path d="M412.61 605.63H477.26" stroke="#e86a50" stroke-width="0.86" opacity="0.29"/><path d="M518.61 588.15H619.29" stroke="#e86a50" stroke-width="1.07" opacity="0.22"/><path d="M580.37 658.53V703.2" stroke="#e86a50" stroke-width="0.88" opacity="0.26"/><path d="M504.85 560.31H587.85" stroke="#e86a50" stroke-width="0.69" opacity="0.25"/><path d="M609.99 637.61H620" stroke="#e86a50" stroke-width="0.74" opacity="0.25"/><path d="M492.44 505.98H537.33" stroke="#e86a50" stroke-width="1.01" opacity="0.29"/><path d="M547.52 700.14V722.78" stroke="#e86a50" stroke-width="0.82" opacity="0.29"/><path d="M526.04 666.57V706.73" stroke="#e86a50" stroke-width="0.93" opacity="0.09"/><path d="M508.74 687.85V733.2" stroke="#e86a50" stroke-width="0.81" opacity="0.2"/><path d="M501.36 556.36V621.24" stroke="#e86a50" stroke-width="0.63" opacity="0.25"/><path d="M475.82 700.36V733.2" stroke="#e86a50" stroke-width="0.83" opacity="0.27"/><path d="M454.09 701.34H550.43" stroke="#e86a50" stroke-width="1.07" opacity="0.27"/><path d="M527.94 727.22H620" stroke="#e86a50" stroke-width="0.66" opacity="0.17"/><path d="M429.63 680.58H526.84" stroke="#e86a50" stroke-width="0.67" opacity="0.11"/><path d="M462.07 626.09H555.77" stroke="#e86a50" stroke-width="1.03" opacity="0.27"/><path d="M540.98 678.78V690.39" stroke="#e86a50" stroke-width="1" opacity="0.11"/><path d="M488.04 534.01H566.85" stroke="#e86a50" stroke-width="1.05" opacity="0.22"/><path d="M601.04 625.79H620" stroke="#e86a50" stroke-width="0.64" opacity="0.17"/><path d="M515.08 667.6V733.2" stroke="#e86a50" stroke-width="0.77" opacity="0.13"/><path d="M618.17 548.77V578.36" stroke="#e86a50" stroke-width="0.87" opacity="0.12"/><path d="M412.27 613.72H474.26" stroke="#e86a50" stroke-width="0.95" opacity="0.12"/><path d="M606.45 529.3V542.21" stroke="#e86a50" stroke-width="0.72" opacity="0.21"/><path d="M477.87 654.81H527.3" stroke="#e86a50" stroke-width="0.82" opacity="0.27"/><path d="M608.88 576.01H620" stroke="#e86a50" stroke-width="0.69" opacity="0.12"/><path d="M603.29 606.59V708.13" stroke="#e86a50" stroke-width="0.86" opacity="0.29"/><path d="M521.94 625.79V649.22" stroke="#e86a50" stroke-width="0.84" opacity="0.17"/><path d="M438.4 542.45H457.81" stroke="#e86a50" stroke-width="0.8" opacity="0.19"/>
<ellipse cx="422.6" cy="650" rx="8.5" ry="21" fill="#e8432f" opacity="0.5" filter="url(#bl2)"/>
<ellipse cx="425" cy="647.5" rx="21" ry="7.5" fill="#e8432f" opacity="0.5" filter="url(#bl2)"/>
<ellipse cx="422.6" cy="647" rx="10" ry="8" fill="#e8432f" opacity="0.35" filter="url(#bl2)"/>
<rect x="405" y="630" width="41" height="41" fill="#e8432f" opacity="0.22" filter="url(#bl2)"/>
<ellipse cx="460.2" cy="650" rx="2.2" ry="21" fill="#e8432f" opacity="0.42" filter="url(#bl1)"/>
<ellipse cx="472.9" cy="650" rx="2.8" ry="21" fill="#e8432f" opacity="0.5" filter="url(#bl1)"/>
<ellipse cx="485.4" cy="650" rx="1.5" ry="21" fill="#e8432f" opacity="0.4" filter="url(#bl1)"/>
<ellipse cx="505.8" cy="650" rx="1.5" ry="21" fill="#e8432f" opacity="0.35" filter="url(#bl1)"/>
<ellipse cx="472.9" cy="650.5" rx="3" ry="3" fill="#e8432f" opacity="0.4" filter="url(#bl1)"/>
<ellipse cx="485" cy="638" rx="26" ry="1.5" fill="#e8432f" opacity="0.15" filter="url(#bl1)"/>
<ellipse cx="485" cy="650" rx="26" ry="1.5" fill="#e8432f" opacity="0.15" filter="url(#bl1)"/>
<ellipse cx="425" cy="686.2" rx="21" ry="2.4" fill="#e8432f" opacity="0.35" filter="url(#bl1)"/>
<ellipse cx="425" cy="699.7" rx="21" ry="2.4" fill="#e8432f" opacity="0.5" filter="url(#bl1)"/>
<ellipse cx="425" cy="711.4" rx="21" ry="2.4" fill="#e8432f" opacity="0.35" filter="url(#bl1)"/>
<ellipse cx="425" cy="725" rx="21" ry="2.4" fill="#e8432f" opacity="0.2" filter="url(#bl1)"/>
<ellipse cx="425" cy="705" rx="20" ry="22" fill="#e8432f" opacity="0.1" filter="url(#bl3)"/>
<path d="M458 684L470 696M470 684L458 696M458 696L470 708M470 696L458 708M458 708L470 720M470 708L458 720M458 720L470 732M470 720L458 732M470 684L482 696M482 684L470 696M470 696L482 708M482 696L470 708M470 708L482 720M482 708L470 720M470 720L482 732M482 720L470 732M482 684L494 696M494 684L482 696M482 696L494 708M494 696L482 708M482 708L494 720M494 708L482 720M482 720L494 732M494 720L482 732M494 684L506 696M506 684L494 696M494 696L506 708M506 696L494 708M494 708L506 720M506 708L494 720M494 720L506 732M506 720L494 732" stroke="#e8432f" stroke-width="1.7" opacity="0.45" filter="url(#bl1)"/>
<ellipse cx="484" cy="708" rx="26" ry="24" fill="#e8432f" opacity="0.14" filter="url(#bl3)"/>
<ellipse cx="440" cy="560" rx="40" ry="40" fill="#e8432f" opacity="0.04" filter="url(#bl3)"/>
<ellipse cx="570" cy="700" rx="40" ry="30" fill="#e8432f" opacity="0.04" filter="url(#bl3)"/>
<ellipse cx="470" cy="600" rx="30" ry="25" fill="#e8432f" opacity="0.03" filter="url(#bl3)"/>
<rect x="395.6" y="504.5" width="4.4" height="228.7" fill="#ffffff"/>
<rect x="394.9" y="505.21" width="225.1" height="4.47" fill="#ffffff"/>
<rect x="401.6" y="504.5" width="2.7" height="228.7" fill="#ffffff"/>
<rect x="394.9" y="511.31" width="225.1" height="2.74" fill="#ffffff"/>
<rect x="446" y="504.5" width="5" height="228.7" fill="#ffffff"/>
<rect x="394.9" y="556.42" width="225.1" height="5.08" fill="#ffffff"/>
<rect x="455" y="504.5" width="3.1" height="228.7" fill="#ffffff"/>
<rect x="394.9" y="565.56" width="225.1" height="3.15" fill="#ffffff"/>
<rect x="511.9" y="504.5" width="5.1" height="228.7" fill="#ffffff"/>
<rect x="394.9" y="623.37" width="225.1" height="5.18" fill="#ffffff"/>
<rect x="560" y="504.5" width="3.3" height="228.7" fill="#ffffff"/>
<rect x="394.9" y="672.24" width="225.1" height="3.35" fill="#ffffff"/>
<rect x="567" y="504.5" width="3.6" height="228.7" fill="#ffffff"/>
<rect x="394.9" y="679.35" width="225.1" height="3.66" fill="#ffffff"/>
<rect x="394.9" y="504.5" width="225.1" height="228.7" fill="url(#gridw)"/>
</g>
<rect x="395.6" y="623.6" width="115" height="108.7" fill="none" stroke="#d22222" stroke-width="2.1" stroke-dasharray="0.01 3.62" stroke-linecap="round"/>
<path d="M394.9 504.5V733.2H620Z" fill="none" stroke="#7a7a7a" stroke-width="1.6" stroke-linejoin="round"/>
<text x="408.5" y="682.6" font-size="11.2" textLength="89.1" lengthAdjust="spacingAndGlyphs">Chain A <tspan font-style="italic">vs</tspan> Chain B</text>
<path d="M394.6 741.6H620" fill="none" stroke="#8c8c8c" stroke-width="1.1"/>
<path d="M388.6 504.5V734.2" fill="none" stroke="#8c8c8c" stroke-width="1.1"/>
<rect x="396.8" y="739" width="6.3" height="5.3" fill="#a5d4ce"/>
<rect x="386" y="506.43" width="5.3" height="6.4" fill="#a5d4ce"/>
<rect x="408.7" y="739" width="5.9" height="5.3" fill="#a5d4ce"/>
<rect x="386" y="518.52" width="5.3" height="5.99" fill="#a5d4ce"/>
<rect x="420.5" y="739" width="5.9" height="5.3" fill="#a5d4ce"/>
<rect x="386" y="530.51" width="5.3" height="5.99" fill="#a5d4ce"/>
<rect x="432.3" y="739" width="5.9" height="5.3" fill="#a5d4ce"/>
<rect x="386" y="542.5" width="5.3" height="5.99" fill="#a5d4ce"/>
<rect x="444.1" y="739" width="6.3" height="5.3" fill="#a5d4ce"/>
<rect x="386" y="554.49" width="5.3" height="6.4" fill="#a5d4ce"/>
<rect x="456" y="739" width="6.3" height="5.3" fill="#a5d4ce"/>
<rect x="386" y="566.58" width="5.3" height="6.4" fill="#a5d4ce"/>
<rect x="467.8" y="739" width="36.7" height="5.3" fill="#a5d4ce"/>
<rect x="386" y="578.57" width="5.3" height="37.29" fill="#a5d4ce"/>
<rect x="510" y="739" width="6.5" height="5.3" fill="#a5d4ce"/>
<rect x="386" y="621.44" width="5.3" height="6.6" fill="#a5d4ce"/>
<rect x="521.9" y="739" width="6.4" height="5.3" fill="#a5d4ce"/>
<rect x="386" y="633.53" width="5.3" height="6.5" fill="#a5d4ce"/>
<rect x="533.8" y="739" width="5.7" height="5.3" fill="#a5d4ce"/>
<rect x="386" y="645.62" width="5.3" height="5.79" fill="#a5d4ce"/>
<rect x="542" y="739" width="33.7" height="5.3" fill="#a5d4ce"/>
<rect x="386" y="653.95" width="5.3" height="34.24" fill="#a5d4ce"/>
<rect x="580.3" y="739" width="37.4" height="5.3" fill="#a5d4ce"/>
<rect x="386" y="692.87" width="5.3" height="38" fill="#a5d4ce"/>
<text x="400" y="745" font-size="10" text-anchor="middle" textLength="5" lengthAdjust="spacingAndGlyphs">1</text>
<text x="392.1" y="509.68" font-size="10" text-anchor="middle" textLength="5" lengthAdjust="spacingAndGlyphs" transform="rotate(-90 392.1 509.68)">1</text>
<text x="411.6" y="745" font-size="10" text-anchor="middle" textLength="5.2" lengthAdjust="spacingAndGlyphs">2</text>
<text x="392.1" y="521.47" font-size="10" text-anchor="middle" textLength="5.2" lengthAdjust="spacingAndGlyphs" transform="rotate(-90 392.1 521.47)">2</text>
<text x="423.4" y="745" font-size="10" text-anchor="middle" textLength="5.3" lengthAdjust="spacingAndGlyphs">3</text>
<text x="392.1" y="533.46" font-size="10" text-anchor="middle" textLength="5.3" lengthAdjust="spacingAndGlyphs" transform="rotate(-90 392.1 533.46)">3</text>
<text x="435.2" y="745" font-size="10" text-anchor="middle" textLength="5.4" lengthAdjust="spacingAndGlyphs">4</text>
<text x="392.1" y="545.44" font-size="10" text-anchor="middle" textLength="5.4" lengthAdjust="spacingAndGlyphs" transform="rotate(-90 392.1 545.44)">4</text>
<text x="447.2" y="745" font-size="10" text-anchor="middle" textLength="5.3" lengthAdjust="spacingAndGlyphs">5</text>
<text x="392.1" y="557.64" font-size="10" text-anchor="middle" textLength="5.3" lengthAdjust="spacingAndGlyphs" transform="rotate(-90 392.1 557.64)">5</text>
<text x="459.1" y="745" font-size="10" text-anchor="middle" textLength="5.4" lengthAdjust="spacingAndGlyphs">6</text>
<text x="392.1" y="569.73" font-size="10" text-anchor="middle" textLength="5.4" lengthAdjust="spacingAndGlyphs" transform="rotate(-90 392.1 569.73)">6</text>
<text x="486.1" y="745" font-size="10" text-anchor="middle" textLength="28" lengthAdjust="spacingAndGlyphs">NBD1</text>
<text x="392.1" y="597.16" font-size="10" text-anchor="middle" textLength="28" lengthAdjust="spacingAndGlyphs" transform="rotate(-90 392.1 597.16)">NBD1</text>
<text x="513.2" y="745" font-size="10" text-anchor="middle" textLength="5" lengthAdjust="spacingAndGlyphs">7</text>
<text x="392.1" y="624.69" font-size="10" text-anchor="middle" textLength="5" lengthAdjust="spacingAndGlyphs" transform="rotate(-90 392.1 624.69)">7</text>
<text x="525.1" y="745" font-size="10" text-anchor="middle" textLength="5.4" lengthAdjust="spacingAndGlyphs">8</text>
<text x="392.1" y="636.78" font-size="10" text-anchor="middle" textLength="5.4" lengthAdjust="spacingAndGlyphs" transform="rotate(-90 392.1 636.78)">8</text>
<text x="536.5" y="745" font-size="10" text-anchor="middle" textLength="5.5" lengthAdjust="spacingAndGlyphs">9</text>
<text x="392.1" y="648.36" font-size="10" text-anchor="middle" textLength="5.5" lengthAdjust="spacingAndGlyphs" transform="rotate(-90 392.1 648.36)">9</text>
<text x="547.4" y="745" font-size="10" text-anchor="middle" textLength="10" lengthAdjust="spacingAndGlyphs">10</text>
<text x="392.1" y="659.44" font-size="10" text-anchor="middle" textLength="10" lengthAdjust="spacingAndGlyphs" transform="rotate(-90 392.1 659.44)">10</text>
<text x="558.9" y="745" font-size="10" text-anchor="middle" textLength="10" lengthAdjust="spacingAndGlyphs">11</text>
<text x="392.1" y="671.12" font-size="10" text-anchor="middle" textLength="10" lengthAdjust="spacingAndGlyphs" transform="rotate(-90 392.1 671.12)">11</text>
<text x="570.3" y="745" font-size="10" text-anchor="middle" textLength="10.5" lengthAdjust="spacingAndGlyphs">12</text>
<text x="392.1" y="682.71" font-size="10" text-anchor="middle" textLength="10.5" lengthAdjust="spacingAndGlyphs" transform="rotate(-90 392.1 682.71)">12</text>
<text x="599" y="745" font-size="10" text-anchor="middle" textLength="26.5" lengthAdjust="spacingAndGlyphs">NBD2</text>
<text x="392.1" y="711.86" font-size="10" text-anchor="middle" textLength="26.5" lengthAdjust="spacingAndGlyphs" transform="rotate(-90 392.1 711.86)">NBD2</text>
<path d="M394.9 747.5V752.3H506.2V747.5" fill="none" stroke="#7c7c7c" stroke-width="1.3"/>
<path d="M508.7 747.5V752.3H619.6V747.5" fill="none" stroke="#7c7c7c" stroke-width="1.3"/>
<path d="M382.3 504.5H377.3V617.58H382.3" fill="none" stroke="#7c7c7c" stroke-width="1.3"/>
<path d="M382.3 620.12H377.3V732.7H382.3" fill="none" stroke="#7c7c7c" stroke-width="1.3"/>
<text x="450.6" y="763.2" font-size="10.8" text-anchor="middle" textLength="36.2" lengthAdjust="spacingAndGlyphs">Chain A</text>
<text x="564.3" y="763.2" font-size="10.8" text-anchor="middle" textLength="36.2" lengthAdjust="spacingAndGlyphs">Chain B</text>
<text x="375" y="561" font-size="10.8" text-anchor="middle" textLength="36.2" lengthAdjust="spacingAndGlyphs" transform="rotate(-90 375 561)">Chain A</text>
<text x="375" y="676" font-size="10.8" text-anchor="middle" textLength="36.2" lengthAdjust="spacingAndGlyphs" transform="rotate(-90 375 676)">Chain B</text>
<text x="442.3" y="773.9" font-size="11.6" textLength="131.9" lengthAdjust="spacingAndGlyphs">The sequence of OF/IF ABCG2</text>
<text x="362.7" y="686" font-size="11.6" textLength="131.9" lengthAdjust="spacingAndGlyphs" transform="rotate(-90 362.7 686)">The sequence of OF/IF ABCG2</text>
<text x="344.5" y="507.5" font-size="16.5" font-family="Liberation Serif" font-weight="bold" font-style="italic">f</text>
<clipPath id="clipR"><rect x="0" y="0" width="340" height="777"/></clipPath>
<g clip-path="url(#clipF0)">
<path d="M604.96 547.3Q610.89 551.12 609.53 552.15T613.53 547.56M606.62 627.99Q606.79 632.49 603.76 626.52T600.53 632.48M589.3 576.61Q584.13 575.31 581.1 575.26T575.48 570.58M611.51 565.71Q609.06 562.49 609.01 562.63T611.69 564.06M579.72 612.98Q578.61 616.23 573.56 613.19T573.48 612.87M600.25 626.83Q605.95 630.04 603.21 631.76T602.84 626.17M602.93 570.66Q599.69 572.24 596.4 577.43T601.23 573.58M604.15 631.86Q602.11 635.29 601.95 631.89T605.69 631.9M611.47 632.52Q610.45 638.4 613.35 640.98T614.01 644.39M613.42 631.31Q615.6 635.74 620.52 640.64T625.46 639.41" fill="none" stroke="#d4d4d4" stroke-width="0.6"/>
<path d="M606.08 604.74L614.7 619.87M616.07 597.33L616.13 611.01M598.24 581.43L603.57 601.06M579.94 608.14L582.49 627.97M592.23 587.16L593.32 607.32M595.92 587.12L607.62 606.59M613.37 555.48L620.57 570.9M594.63 615.17L591.57 638.35M594.99 559.64L600.61 579.2M600.09 611.08L603.85 628.55M601.29 592.16L603.19 608.52M615.57 583.98L617.53 605.29M616.12 567.8L616.68 591.11M610.95 548.42L616.44 563.48M616.43 575.17L617.91 598.97M589.28 604.81L585.85 618.22M581.66 610.95L581.36 625.8M596.87 596.81L601.49 610.02M588.71 599.34L591.19 614.88M612.88 601.16L612.29 623.31M598.66 548.78L599.87 567.09M596.17 608.95L603.88 618.38M617.27 605.3L617.26 621.82M606.6 603.12L609.15 616.08M601.2 615.1L599.09 630.93M584.97 620.28L586.03 635.82M605.75 611.38L608.63 626.89M596.1 572.52L601.46 587.25M603.68 577.39L601.97 590.05M597.55 586.52L597.53 610.18M609.65 562.42L615.07 574.62M580.56 603.41L587.76 617.89M620.15 567.66L617.13 584M600.01 609.14L604.6 628.46M606 572.99L610.25 592.88M590.91 595.13L591.14 614.12M588.93 618.9L597.56 637.4M613.85 554.03L615.68 566.88M597.16 618.9L594.87 632.5M601.61 617.34L607.65 637.46M592.73 557.84L598.53 578.25M620.79 572.52L620.67 588" fill="none" stroke="#dbdbdb" stroke-width="6.8" stroke-linecap="round"/>
<path d="M606.08 604.74L614.7 619.87M616.07 597.33L616.13 611.01M598.24 581.43L603.57 601.06M579.94 608.14L582.49 627.97M592.23 587.16L593.32 607.32M595.92 587.12L607.62 606.59M613.37 555.48L620.57 570.9M594.63 615.17L591.57 638.35M594.99 559.64L600.61 579.2M600.09 611.08L603.85 628.55M601.29 592.16L603.19 608.52M615.57 583.98L617.53 605.29M616.12 567.8L616.68 591.11M610.95 548.42L616.44 563.48M616.43 575.17L617.91 598.97M589.28 604.81L585.85 618.22M581.66 610.95L581.36 625.8M596.87 596.81L601.49 610.02M588.71 599.34L591.19 614.88M612.88 601.16L612.29 623.31M598.66 548.78L599.87 567.09M596.17 608.95L603.88 618.38M617.27 605.3L617.26 621.82M606.6 603.12L609.15 616.08M601.2 615.1L599.09 630.93M584.97 620.28L586.03 635.82M605.75 611.38L608.63 626.89M596.1 572.52L601.46 587.25M603.68 577.39L601.97 590.05M597.55 586.52L597.53 610.18M609.65 562.42L615.07 574.62M580.56 603.41L587.76 617.89M620.15 567.66L617.13 584M600.01 609.14L604.6 628.46M606 572.99L610.25 592.88M590.91 595.13L591.14 614.12M588.93 618.9L597.56 637.4M613.85 554.03L615.68 566.88M597.16 618.9L594.87 632.5M601.61 617.34L607.65 637.46M592.73 557.84L598.53 578.25M620.79 572.52L620.67 588" fill="none" stroke="#ebebeb" stroke-width="6" stroke-linecap="round"/>
<path d="M606.08 604.74L614.7 619.87M616.07 597.33L616.13 611.01M598.24 581.43L603.57 601.06M579.94 608.14L582.49 627.97M592.23 587.16L593.32 607.32M595.92 587.12L607.62 606.59M613.37 555.48L620.57 570.9M594.63 615.17L591.57 638.35M594.99 559.64L600.61 579.2M600.09 611.08L603.85 628.55M601.29 592.16L603.19 608.52M615.57 583.98L617.53 605.29M616.12 567.8L616.68 591.11M610.95 548.42L616.44 563.48M616.43 575.17L617.91 598.97M589.28 604.81L585.85 618.22M581.66 610.95L581.36 625.8M596.87 596.81L601.49 610.02M588.71 599.34L591.19 614.88M612.88 601.16L612.29 623.31M598.66 548.78L599.87 567.09M596.17 608.95L603.88 618.38M617.27 605.3L617.26 621.82M606.6 603.12L609.15 616.08M601.2 615.1L599.09 630.93M584.97 620.28L586.03 635.82M605.75 611.38L608.63 626.89M596.1 572.52L601.46 587.25M603.68 577.39L601.97 590.05M597.55 586.52L597.53 610.18M609.65 562.42L615.07 574.62M580.56 603.41L587.76 617.89M620.15 567.66L617.13 584M600.01 609.14L604.6 628.46M606 572.99L610.25 592.88M590.91 595.13L591.14 614.12M588.93 618.9L597.56 637.4M613.85 554.03L615.68 566.88M597.16 618.9L594.87 632.5M601.61 617.34L607.65 637.46M592.73 557.84L598.53 578.25M620.79 572.52L620.67 588" fill="none" stroke="#dbdbdb" stroke-width="5.4" stroke-dasharray="1.8 2.6"/>
<path d="M606.08 604.74L614.7 619.87M616.07 597.33L616.13 611.01M598.24 581.43L603.57 601.06M579.94 608.14L582.49 627.97M592.23 587.16L593.32 607.32M595.92 587.12L607.62 606.59M613.37 555.48L620.57 570.9M594.63 615.17L591.57 638.35M594.99 559.64L600.61 579.2M600.09 611.08L603.85 628.55M601.29 592.16L603.19 608.52M615.57 583.98L617.53 605.29M616.12 567.8L616.68 591.11M610.95 548.42L616.44 563.48M616.43 575.17L617.91 598.97M589.28 604.81L585.85 618.22M581.66 610.95L581.36 625.8M596.87 596.81L601.49 610.02M588.71 599.34L591.19 614.88M612.88 601.16L612.29 623.31M598.66 548.78L599.87 567.09M596.17 608.95L603.88 618.38M617.27 605.3L617.26 621.82M606.6 603.12L609.15 616.08M601.2 615.1L599.09 630.93M584.97 620.28L586.03 635.82M605.75 611.38L608.63 626.89M596.1 572.52L601.46 587.25M603.68 577.39L601.97 590.05M597.55 586.52L597.53 610.18M609.65 562.42L615.07 574.62M580.56 603.41L587.76 617.89M620.15 567.66L617.13 584M600.01 609.14L604.6 628.46M606 572.99L610.25 592.88M590.91 595.13L591.14 614.12M588.93 618.9L597.56 637.4M613.85 554.03L615.68 566.88M597.16 618.9L594.87 632.5M601.61 617.34L607.65 637.46M592.73 557.84L598.53 578.25M620.79 572.52L620.67 588" fill="none" stroke="#fafafa" stroke-width="2.7" stroke-dasharray="1.44 2.96" stroke-dashoffset="-2.1" opacity="0.85"/>
<path d="M582.36 665.78Q578.85 666.85 577.87 668.63T571.94 669.33M618.88 652.51Q615.72 655.78 611.48 655.9T610.4 651.93M584.48 693.28Q586.07 690.27 587.16 696.22T583.05 698.96M573.51 653.9Q568.97 654.86 570.83 657.41T571.94 658.62M576.65 654.33Q572.25 660.12 567.37 664.31T565.97 668.59M590.54 703.78Q593.4 707.08 587.99 709.19T582.34 710.49M587.81 645.7Q587.5 643.42 587.17 644.83T582.56 644.46M589.63 701.52Q594.89 698.78 593.24 698.27T591.06 703.62M614.23 647.98Q618.2 652.05 622.58 651.05T616.77 653.41M576.37 687.5Q571.75 688.31 566.86 689.39T563.67 684.1M613.54 689.91Q615.3 688.09 614.13 688.89T610.82 691.09M572 646.76Q569.63 646.84 570.78 649.36T571.67 648.52M614.65 673.57Q614.49 670.19 617.42 664.79T621.06 666.79M594.72 685.28Q593.38 682.87 598.53 681.64T601.15 675.74" fill="none" stroke="#d4d4d4" stroke-width="0.6"/>
<path d="M600.67 683.44L616.88 680.7M607.84 666.17L620.02 680.18M578.28 650.22L590.32 638.53M571.68 665.95L588.8 672.9M604.1 644.28L616.49 654.63M578.73 636.46L592.41 641.92M594.11 656.89L602.04 664.13M591.47 665.74L602.77 655.2M572 674.26L580.73 677.07M578.74 680.18L592.12 684.71M599.76 691.2L608.55 694.53M591.39 684.82L601.12 695.56M602.27 653.44L617.68 650.76M572.41 668.46L585.82 682.41M593.24 669.62L611.23 674.27M599.05 677.08L610.63 667.22M590.66 657.47L595.95 666.75M572.07 684.23L581.26 673.74M581.66 675.95L593.4 675.12M606.8 663.77L615.54 659.87M591.43 670.99L606.82 679.64M599.68 674.24L615.06 680.28M601.58 643.55L601.42 654.73M584.87 687.55L596.74 684.83M604.41 663.04L613.43 666.14M590.33 658.85L605.72 664.69M572.45 689.84L588.75 689.77M582.07 691.33L596.13 681.51M579.89 689.41L584.09 704.75M610.08 682.11L618.7 691.56M599.96 704.23L614.39 701.02M598.18 679.38L614.03 678.94M567.79 663.22L582.92 672.07M583.12 660.43L591.55 672.78M570.3 689.67L583.36 689.65M598.62 648.74L607.91 646.85M570.23 676.54L589.53 678.8M585 691.73L602.62 694.94M599.19 663.95L610.76 661.18M599.05 640.9L613.55 638.2M590.38 692.45L598.76 699.82M597.4 679.71L606.33 684.86M591.38 695.72L609.67 699.63M607.51 677.88L618.38 672.15M587.41 647.54L598.85 642.16M581.95 703.19L591.01 706.52M568.2 689.62L578.18 692.75M568.13 669.63L573.28 661.39M611.16 653.88L617.24 667.48M604.55 639L621.13 641.62" fill="none" stroke="#dbdbdb" stroke-width="6.8" stroke-linecap="round"/>
<path d="M600.67 683.44L616.88 680.7M607.84 666.17L620.02 680.18M578.28 650.22L590.32 638.53M571.68 665.95L588.8 672.9M604.1 644.28L616.49 654.63M578.73 636.46L592.41 641.92M594.11 656.89L602.04 664.13M591.47 665.74L602.77 655.2M572 674.26L580.73 677.07M578.74 680.18L592.12 684.71M599.76 691.2L608.55 694.53M591.39 684.82L601.12 695.56M602.27 653.44L617.68 650.76M572.41 668.46L585.82 682.41M593.24 669.62L611.23 674.27M599.05 677.08L610.63 667.22M590.66 657.47L595.95 666.75M572.07 684.23L581.26 673.74M581.66 675.95L593.4 675.12M606.8 663.77L615.54 659.87M591.43 670.99L606.82 679.64M599.68 674.24L615.06 680.28M601.58 643.55L601.42 654.73M584.87 687.55L596.74 684.83M604.41 663.04L613.43 666.14M590.33 658.85L605.72 664.69M572.45 689.84L588.75 689.77M582.07 691.33L596.13 681.51M579.89 689.41L584.09 704.75M610.08 682.11L618.7 691.56M599.96 704.23L614.39 701.02M598.18 679.38L614.03 678.94M567.79 663.22L582.92 672.07M583.12 660.43L591.55 672.78M570.3 689.67L583.36 689.65M598.62 648.74L607.91 646.85M570.23 676.54L589.53 678.8M585 691.73L602.62 694.94M599.19 663.95L610.76 661.18M599.05 640.9L613.55 638.2M590.38 692.45L598.76 699.82M597.4 679.71L606.33 684.86M591.38 695.72L609.67 699.63M607.51 677.88L618.38 672.15M587.41 647.54L598.85 642.16M581.95 703.19L591.01 706.52M568.2 689.62L578.18 692.75M568.13 669.63L573.28 661.39M611.16 653.88L617.24 667.48M604.55 639L621.13 641.62" fill="none" stroke="#ebebeb" stroke-width="6" stroke-linecap="round"/>
<path d="M600.67 683.44L616.88 680.7M607.84 666.17L620.02 680.18M578.28 650.22L590.32 638.53M571.68 665.95L588.8 672.9M604.1 644.28L616.49 654.63M578.73 636.46L592.41 641.92M594.11 656.89L602.04 664.13M591.47 665.74L602.77 655.2M572 674.26L580.73 677.07M578.74 680.18L592.12 684.71M599.76 691.2L608.55 694.53M591.39 684.82L601.12 695.56M602.27 653.44L617.68 650.76M572.41 668.46L585.82 682.41M593.24 669.62L611.23 674.27M599.05 677.08L610.63 667.22M590.66 657.47L595.95 666.75M572.07 684.23L581.26 673.74M581.66 675.95L593.4 675.12M606.8 663.77L615.54 659.87M591.43 670.99L606.82 679.64M599.68 674.24L615.06 680.28M601.58 643.55L601.42 654.73M584.87 687.55L596.74 684.83M604.41 663.04L613.43 666.14M590.33 658.85L605.72 664.69M572.45 689.84L588.75 689.77M582.07 691.33L596.13 681.51M579.89 689.41L584.09 704.75M610.08 682.11L618.7 691.56M599.96 704.23L614.39 701.02M598.18 679.38L614.03 678.94M567.79 663.22L582.92 672.07M583.12 660.43L591.55 672.78M570.3 689.67L583.36 689.65M598.62 648.74L607.91 646.85M570.23 676.54L589.53 678.8M585 691.73L602.62 694.94M599.19 663.95L610.76 661.18M599.05 640.9L613.55 638.2M590.38 692.45L598.76 699.82M597.4 679.71L606.33 684.86M591.38 695.72L609.67 699.63M607.51 677.88L618.38 672.15M587.41 647.54L598.85 642.16M581.95 703.19L591.01 706.52M568.2 689.62L578.18 692.75M568.13 669.63L573.28 661.39M611.16 653.88L617.24 667.48M604.55 639L621.13 641.62" fill="none" stroke="#dbdbdb" stroke-width="5.4" stroke-dasharray="1.8 2.6"/>
<path d="M600.67 683.44L616.88 680.7M607.84 666.17L620.02 680.18M578.28 650.22L590.32 638.53M571.68 665.95L588.8 672.9M604.1 644.28L616.49 654.63M578.73 636.46L592.41 641.92M594.11 656.89L602.04 664.13M591.47 665.74L602.77 655.2M572 674.26L580.73 677.07M578.74 680.18L592.12 684.71M599.76 691.2L608.55 694.53M591.39 684.82L601.12 695.56M602.27 653.44L617.68 650.76M572.41 668.46L585.82 682.41M593.24 669.62L611.23 674.27M599.05 677.08L610.63 667.22M590.66 657.47L595.95 666.75M572.07 684.23L581.26 673.74M581.66 675.95L593.4 675.12M606.8 663.77L615.54 659.87M591.43 670.99L606.82 679.64M599.68 674.24L615.06 680.28M601.58 643.55L601.42 654.73M584.87 687.55L596.74 684.83M604.41 663.04L613.43 666.14M590.33 658.85L605.72 664.69M572.45 689.84L588.75 689.77M582.07 691.33L596.13 681.51M579.89 689.41L584.09 704.75M610.08 682.11L618.7 691.56M599.96 704.23L614.39 701.02M598.18 679.38L614.03 678.94M567.79 663.22L582.92 672.07M583.12 660.43L591.55 672.78M570.3 689.67L583.36 689.65M598.62 648.74L607.91 646.85M570.23 676.54L589.53 678.8M585 691.73L602.62 694.94M599.19 663.95L610.76 661.18M599.05 640.9L613.55 638.2M590.38 692.45L598.76 699.82M597.4 679.71L606.33 684.86M591.38 695.72L609.67 699.63M607.51 677.88L618.38 672.15M587.41 647.54L598.85 642.16M581.95 703.19L591.01 706.52M568.2 689.62L578.18 692.75M568.13 669.63L573.28 661.39M611.16 653.88L617.24 667.48M604.55 639L621.13 641.62" fill="none" stroke="#fafafa" stroke-width="2.7" stroke-dasharray="1.44 2.96" stroke-dashoffset="-2.1" opacity="0.85"/>
<path d="M620.26 617.98Q625.68 615.09 622.61 621.01T627.8 624.94M646.66 571.87Q641.31 567.72 642.12 562.07T644.47 556.51M644.44 592.42Q647.64 597.14 649.5 596.56T650.77 600.18M616.72 612.21Q612.23 612.53 606.64 616.54T605.86 617.61M640.7 595.45Q639.1 599.49 636.97 599.27T636.75 596.01M654.59 629.32Q659.72 626.62 662.37 631.25T663.9 636.5M626.26 627.7Q624.24 630.18 620.53 625.03T620.99 628.28M624.76 622.05Q620.57 627.81 618.63 628.99T615.37 630.54" fill="none" stroke="#55a" stroke-width="0.6"/>
<path d="M629.18 612.39L635.31 627.48M618.21 613.74L618.09 628.57M625.94 606.53L627.09 615.5M640.24 625.6L638.63 636.53M639.9 596.19L644.57 608.73M623.38 592.78L635.24 602.18M619.05 592.12L621.24 607.2M630.64 621.83L633.04 632.97M623.32 615.74L624.78 630.15M617.51 591.86L617.74 607.1M633.66 590.88L643.3 605.52M632.55 571.33L634.56 583.23M626.72 580.02L624.18 596.43M619.84 556.98L620.99 574.78M649.27 625.08L648.7 633.08M642.08 613.85L642.36 626.95M631.52 584.31L630.11 597.5M648.22 619.22L645.79 628.8M637.37 569.98L642.97 582.24M627.5 632.72L631.54 642.9M635.36 603.53L635.54 612.69M625.57 624.29L622.05 635.53M652.02 603.83L651.44 618.93M629.28 575.66L633.72 592.08M634.49 615.98L637.72 631.07M622.79 593.36L622.6 602.05M630.3 613.63L630.62 623.82M633.66 575.93L632.28 592.77M632.62 624.82L639.32 641.39M628.52 613.5L627.43 626.53M627.89 569.8L630.22 582.52M621.02 606.48L624.33 620.86M633.09 617.69L634.4 631.47M634.07 601.38L636.28 613.9M649.46 615.25L650.53 627.16M618.09 614.42L616.34 623.92" fill="none" stroke="#40407c" stroke-width="6.4" stroke-linecap="round"/>
<path d="M629.18 612.39L635.31 627.48M618.21 613.74L618.09 628.57M625.94 606.53L627.09 615.5M640.24 625.6L638.63 636.53M639.9 596.19L644.57 608.73M623.38 592.78L635.24 602.18M619.05 592.12L621.24 607.2M630.64 621.83L633.04 632.97M623.32 615.74L624.78 630.15M617.51 591.86L617.74 607.1M633.66 590.88L643.3 605.52M632.55 571.33L634.56 583.23M626.72 580.02L624.18 596.43M619.84 556.98L620.99 574.78M649.27 625.08L648.7 633.08M642.08 613.85L642.36 626.95M631.52 584.31L630.11 597.5M648.22 619.22L645.79 628.8M637.37 569.98L642.97 582.24M627.5 632.72L631.54 642.9M635.36 603.53L635.54 612.69M625.57 624.29L622.05 635.53M652.02 603.83L651.44 618.93M629.28 575.66L633.72 592.08M634.49 615.98L637.72 631.07M622.79 593.36L622.6 602.05M630.3 613.63L630.62 623.82M633.66 575.93L632.28 592.77M632.62 624.82L639.32 641.39M628.52 613.5L627.43 626.53M627.89 569.8L630.22 582.52M621.02 606.48L624.33 620.86M633.09 617.69L634.4 631.47M634.07 601.38L636.28 613.9M649.46 615.25L650.53 627.16M618.09 614.42L616.34 623.92" fill="none" stroke="#5c5cb2" stroke-width="5.6" stroke-linecap="round"/>
<path d="M629.18 612.39L635.31 627.48M618.21 613.74L618.09 628.57M625.94 606.53L627.09 615.5M640.24 625.6L638.63 636.53M639.9 596.19L644.57 608.73M623.38 592.78L635.24 602.18M619.05 592.12L621.24 607.2M630.64 621.83L633.04 632.97M623.32 615.74L624.78 630.15M617.51 591.86L617.74 607.1M633.66 590.88L643.3 605.52M632.55 571.33L634.56 583.23M626.72 580.02L624.18 596.43M619.84 556.98L620.99 574.78M649.27 625.08L648.7 633.08M642.08 613.85L642.36 626.95M631.52 584.31L630.11 597.5M648.22 619.22L645.79 628.8M637.37 569.98L642.97 582.24M627.5 632.72L631.54 642.9M635.36 603.53L635.54 612.69M625.57 624.29L622.05 635.53M652.02 603.83L651.44 618.93M629.28 575.66L633.72 592.08M634.49 615.98L637.72 631.07M622.79 593.36L622.6 602.05M630.3 613.63L630.62 623.82M633.66 575.93L632.28 592.77M632.62 624.82L639.32 641.39M628.52 613.5L627.43 626.53M627.89 569.8L630.22 582.52M621.02 606.48L624.33 620.86M633.09 617.69L634.4 631.47M634.07 601.38L636.28 613.9M649.46 615.25L650.53 627.16M618.09 614.42L616.34 623.92" fill="none" stroke="#40407c" stroke-width="5.04" stroke-dasharray="1.8 2.6"/>
<path d="M629.18 612.39L635.31 627.48M618.21 613.74L618.09 628.57M625.94 606.53L627.09 615.5M640.24 625.6L638.63 636.53M639.9 596.19L644.57 608.73M623.38 592.78L635.24 602.18M619.05 592.12L621.24 607.2M630.64 621.83L633.04 632.97M623.32 615.74L624.78 630.15M617.51 591.86L617.74 607.1M633.66 590.88L643.3 605.52M632.55 571.33L634.56 583.23M626.72 580.02L624.18 596.43M619.84 556.98L620.99 574.78M649.27 625.08L648.7 633.08M642.08 613.85L642.36 626.95M631.52 584.31L630.11 597.5M648.22 619.22L645.79 628.8M637.37 569.98L642.97 582.24M627.5 632.72L631.54 642.9M635.36 603.53L635.54 612.69M625.57 624.29L622.05 635.53M652.02 603.83L651.44 618.93M629.28 575.66L633.72 592.08M634.49 615.98L637.72 631.07M622.79 593.36L622.6 602.05M630.3 613.63L630.62 623.82M633.66 575.93L632.28 592.77M632.62 624.82L639.32 641.39M628.52 613.5L627.43 626.53M627.89 569.8L630.22 582.52M621.02 606.48L624.33 620.86M633.09 617.69L634.4 631.47M634.07 601.38L636.28 613.9M649.46 615.25L650.53 627.16M618.09 614.42L616.34 623.92" fill="none" stroke="#a5a5d4" stroke-width="2.52" stroke-dasharray="1.44 2.96" stroke-dashoffset="-2.1" opacity="0.85"/>
<path d="M630.49 565.17Q629.69 571.03 626.35 565.64T629.46 565.74M658.82 615.65Q654.16 617 648.71 614.07T649.55 619.99M679.15 637.73Q674.31 632.4 670.76 638.37T667.85 638.84M663.69 589.91Q661.75 590.69 665.42 587.33T659.84 586.72M682.13 633.52Q677.04 636.25 681.9 640.24T676.25 634.39M650.6 642.74Q655.5 640.33 660.91 644.05T659.94 640.23M660.52 645.45Q655.46 640.58 656.74 636.45T652.57 637.49M665.67 625.13Q664.06 620.78 658.19 624.27T660.93 619.3M658.23 553.06Q657.74 557.07 663.35 558.07T667.72 558M665.02 625.97Q667.45 628.84 665.58 626.94T669.97 624M654.93 571.31Q656.71 570.9 661.5 568.71T657.63 562.81M674.45 647.87Q670.01 652.89 665.04 656.34T663.82 651.65M668.96 608.07Q671.78 612.47 671.61 616.92T675.51 618.9M654.75 634.12Q649.38 631.27 652.13 632.74T650.32 628.05M664.7 558.69Q668.06 560.66 662.71 558.34T667.03 557.77M666.63 608.67Q664.39 610.09 664.97 613.94T669.22 612.08M653.66 563.08Q654.75 558.53 654.7 555.75T655.36 559.64M638.85 598.31Q641.89 603.59 644.02 607.61T642.72 602.29" fill="none" stroke="#c44" stroke-width="0.6"/>
<path d="M659.12 561.15L660.54 577.37M655.87 613.99L665.22 626.66M643.44 550.81L643.92 564.37M637.09 581.43L639.85 591.06M642.47 605.21L649.12 610.78M661.46 625.58L662.42 636.36M646.63 577.28L652.02 586.04M638.52 569.85L632.61 578.91M671.18 592.37L670.71 604.55M666.06 605.71L667.48 618.43M658.78 578.58L658.72 595.64M674.03 622.62L673.03 632.25M662.07 599.03L666.57 608.41M655.41 627.75L658.26 642.43M661.56 584.34L663.3 597.62M662.08 607.22L660.94 617.64M660.99 572.69L663.65 580.75M646.58 597.58L651.04 613.81M641.99 608.25L655.27 615M636.55 561.3L639.61 569.24M646.37 554L642.66 570.95M651.11 596.05L649.87 613.63M675.13 634.41L673.99 643.98M672.8 621.09L679.58 636.8M641.29 567.23L640.62 581.65M649.05 585.68L658.45 597.66M650.71 636.63L649.87 647.29M641.1 580.65L638.07 593.05M637.76 586.79L639.9 599.38M655.66 594.67L661.46 610.28" fill="none" stroke="#913d3d" stroke-width="6.4" stroke-linecap="round"/>
<path d="M659.12 561.15L660.54 577.37M655.87 613.99L665.22 626.66M643.44 550.81L643.92 564.37M637.09 581.43L639.85 591.06M642.47 605.21L649.12 610.78M661.46 625.58L662.42 636.36M646.63 577.28L652.02 586.04M638.52 569.85L632.61 578.91M671.18 592.37L670.71 604.55M666.06 605.71L667.48 618.43M658.78 578.58L658.72 595.64M674.03 622.62L673.03 632.25M662.07 599.03L666.57 608.41M655.41 627.75L658.26 642.43M661.56 584.34L663.3 597.62M662.08 607.22L660.94 617.64M660.99 572.69L663.65 580.75M646.58 597.58L651.04 613.81M641.99 608.25L655.27 615M636.55 561.3L639.61 569.24M646.37 554L642.66 570.95M651.11 596.05L649.87 613.63M675.13 634.41L673.99 643.98M672.8 621.09L679.58 636.8M641.29 567.23L640.62 581.65M649.05 585.68L658.45 597.66M650.71 636.63L649.87 647.29M641.1 580.65L638.07 593.05M637.76 586.79L639.9 599.38M655.66 594.67L661.46 610.28" fill="none" stroke="#d05858" stroke-width="5.6" stroke-linecap="round"/>
<path d="M659.12 561.15L660.54 577.37M655.87 613.99L665.22 626.66M643.44 550.81L643.92 564.37M637.09 581.43L639.85 591.06M642.47 605.21L649.12 610.78M661.46 625.58L662.42 636.36M646.63 577.28L652.02 586.04M638.52 569.85L632.61 578.91M671.18 592.37L670.71 604.55M666.06 605.71L667.48 618.43M658.78 578.58L658.72 595.64M674.03 622.62L673.03 632.25M662.07 599.03L666.57 608.41M655.41 627.75L658.26 642.43M661.56 584.34L663.3 597.62M662.08 607.22L660.94 617.64M660.99 572.69L663.65 580.75M646.58 597.58L651.04 613.81M641.99 608.25L655.27 615M636.55 561.3L639.61 569.24M646.37 554L642.66 570.95M651.11 596.05L649.87 613.63M675.13 634.41L673.99 643.98M672.8 621.09L679.58 636.8M641.29 567.23L640.62 581.65M649.05 585.68L658.45 597.66M650.71 636.63L649.87 647.29M641.1 580.65L638.07 593.05M637.76 586.79L639.9 599.38M655.66 594.67L661.46 610.28" fill="none" stroke="#913d3d" stroke-width="5.04" stroke-dasharray="1.8 2.6"/>
<path d="M659.12 561.15L660.54 577.37M655.87 613.99L665.22 626.66M643.44 550.81L643.92 564.37M637.09 581.43L639.85 591.06M642.47 605.21L649.12 610.78M661.46 625.58L662.42 636.36M646.63 577.28L652.02 586.04M638.52 569.85L632.61 578.91M671.18 592.37L670.71 604.55M666.06 605.71L667.48 618.43M658.78 578.58L658.72 595.64M674.03 622.62L673.03 632.25M662.07 599.03L666.57 608.41M655.41 627.75L658.26 642.43M661.56 584.34L663.3 597.62M662.08 607.22L660.94 617.64M660.99 572.69L663.65 580.75M646.58 597.58L651.04 613.81M641.99 608.25L655.27 615M636.55 561.3L639.61 569.24M646.37 554L642.66 570.95M651.11 596.05L649.87 613.63M675.13 634.41L673.99 643.98M672.8 621.09L679.58 636.8M641.29 567.23L640.62 581.65M649.05 585.68L658.45 597.66M650.71 636.63L649.87 647.29M641.1 580.65L638.07 593.05M637.76 586.79L639.9 599.38M655.66 594.67L661.46 610.28" fill="none" stroke="#e5a3a3" stroke-width="2.52" stroke-dasharray="1.44 2.96" stroke-dashoffset="-2.1" opacity="0.85"/>
<path d="M635.6 682.55Q638.99 681.67 635.9 681.09T632.37 680.42M646.2 695.91Q641.79 693.08 646.96 691.97T652.26 691.28M620.38 661.97Q618.18 666.24 619.45 663.38T620.26 662.26M624.61 643.93Q625.25 646.49 630.84 649.4T625.67 647.25M634.3 704.67Q631.15 703.07 628.19 702.25T632.74 697.15M658.07 678.81Q661.76 678.92 666.36 676.54T670.08 671.27M650.7 636.93Q655.59 639.22 658.8 644.78T663.38 644.93M626.55 658.2Q630.34 660.39 632.19 662.18T629.16 660.31M625.49 650.17Q619.94 644.96 620.39 649.99T616.25 645.48M639.83 663.87Q644.54 658.32 642.09 657.63T637.97 657.19M621.24 668.73Q626.51 663.33 629.63 666.59T627.49 669.4M615.26 694Q611.31 690.06 614.18 684.6T615.65 682.77" fill="none" stroke="#55a" stroke-width="0.6"/>
<path d="M643.48 693.88L641.99 702.42M603.85 679.46L612.08 669.59M596.72 689.99L609.46 691.28M609.52 660.5L613.01 673.19M626.15 654L632.6 661.44M631.86 671.3L643.34 674.9M637.26 683.08L650.62 688.21M618.17 643.85L616.21 651.67M611.65 690.91L613.13 677.75M616.99 689.26L626.68 691.67M644.54 693.68L656.84 692.11M638.51 682.97L635.12 694.69M612.63 689.07L623.36 690.53M616.01 655.73L628.93 657.1M601.89 705.19L612.05 704.82M652.54 679.98L656.29 687.15M630.75 648.96L644.51 653.12M623.36 642.73L623.92 654.31M645.07 647.23L655.99 654.32M650.63 669.09L653.54 678.82M647.31 678.51L660.1 681.94M642.67 650.36L657.37 655.8M641.09 666.73L649.28 676.83M632.1 665.47L634.68 680.05M624.85 688.51L633.36 689.74M636.81 672.15L647.59 683.59M623.64 694.89L638.62 697.93M597.4 700.73L608.52 705.45M634.45 688.53L641.77 690.64M625.65 646.77L637.81 649.64M645.56 679.35L658 687.87M619.99 648.76L621.54 660.81M603.44 669.81L616.96 669.43M612.34 680.52L622.63 684.89M616.45 693.67L623.28 697.48M633.69 649.45L640.24 660.45M610.94 668.35L624.44 670.32M647.64 670.53L658.59 672.2M636.16 701.92L647.63 700.95M603.11 697.45L610.19 697.33M643.46 638.92L658 635.39M630.15 684.31L639.26 684.17M648.18 701.64L658.24 701.81M610.93 672.96L621.62 676.34M636.53 703.62L648.45 693.53M627.39 679.65L632.86 684.3" fill="none" stroke="#40407c" stroke-width="6.4" stroke-linecap="round"/>
<path d="M643.48 693.88L641.99 702.42M603.85 679.46L612.08 669.59M596.72 689.99L609.46 691.28M609.52 660.5L613.01 673.19M626.15 654L632.6 661.44M631.86 671.3L643.34 674.9M637.26 683.08L650.62 688.21M618.17 643.85L616.21 651.67M611.65 690.91L613.13 677.75M616.99 689.26L626.68 691.67M644.54 693.68L656.84 692.11M638.51 682.97L635.12 694.69M612.63 689.07L623.36 690.53M616.01 655.73L628.93 657.1M601.89 705.19L612.05 704.82M652.54 679.98L656.29 687.15M630.75 648.96L644.51 653.12M623.36 642.73L623.92 654.31M645.07 647.23L655.99 654.32M650.63 669.09L653.54 678.82M647.31 678.51L660.1 681.94M642.67 650.36L657.37 655.8M641.09 666.73L649.28 676.83M632.1 665.47L634.68 680.05M624.85 688.51L633.36 689.74M636.81 672.15L647.59 683.59M623.64 694.89L638.62 697.93M597.4 700.73L608.52 705.45M634.45 688.53L641.77 690.64M625.65 646.77L637.81 649.64M645.56 679.35L658 687.87M619.99 648.76L621.54 660.81M603.44 669.81L616.96 669.43M612.34 680.52L622.63 684.89M616.45 693.67L623.28 697.48M633.69 649.45L640.24 660.45M610.94 668.35L624.44 670.32M647.64 670.53L658.59 672.2M636.16 701.92L647.63 700.95M603.11 697.45L610.19 697.33M643.46 638.92L658 635.39M630.15 684.31L639.26 684.17M648.18 701.64L658.24 701.81M610.93 672.96L621.62 676.34M636.53 703.62L648.45 693.53M627.39 679.65L632.86 684.3" fill="none" stroke="#5c5cb2" stroke-width="5.6" stroke-linecap="round"/>
<path d="M643.48 693.88L641.99 702.42M603.85 679.46L612.08 669.59M596.72 689.99L609.46 691.28M609.52 660.5L613.01 673.19M626.15 654L632.6 661.44M631.86 671.3L643.34 674.9M637.26 683.08L650.62 688.21M618.17 643.85L616.21 651.67M611.65 690.91L613.13 677.75M616.99 689.26L626.68 691.67M644.54 693.68L656.84 692.11M638.51 682.97L635.12 694.69M612.63 689.07L623.36 690.53M616.01 655.73L628.93 657.1M601.89 705.19L612.05 704.82M652.54 679.98L656.29 687.15M630.75 648.96L644.51 653.12M623.36 642.73L623.92 654.31M645.07 647.23L655.99 654.32M650.63 669.09L653.54 678.82M647.31 678.51L660.1 681.94M642.67 650.36L657.37 655.8M641.09 666.73L649.28 676.83M632.1 665.47L634.68 680.05M624.85 688.51L633.36 689.74M636.81 672.15L647.59 683.59M623.64 694.89L638.62 697.93M597.4 700.73L608.52 705.45M634.45 688.53L641.77 690.64M625.65 646.77L637.81 649.64M645.56 679.35L658 687.87M619.99 648.76L621.54 660.81M603.44 669.81L616.96 669.43M612.34 680.52L622.63 684.89M616.45 693.67L623.28 697.48M633.69 649.45L640.24 660.45M610.94 668.35L624.44 670.32M647.64 670.53L658.59 672.2M636.16 701.92L647.63 700.95M603.11 697.45L610.19 697.33M643.46 638.92L658 635.39M630.15 684.31L639.26 684.17M648.18 701.64L658.24 701.81M610.93 672.96L621.62 676.34M636.53 703.62L648.45 693.53M627.39 679.65L632.86 684.3" fill="none" stroke="#40407c" stroke-width="5.04" stroke-dasharray="1.8 2.6"/>
<path d="M643.48 693.88L641.99 702.42M603.85 679.46L612.08 669.59M596.72 689.99L609.46 691.28M609.52 660.5L613.01 673.19M626.15 654L632.6 661.44M631.86 671.3L643.34 674.9M637.26 683.08L650.62 688.21M618.17 643.85L616.21 651.67M611.65 690.91L613.13 677.75M616.99 689.26L626.68 691.67M644.54 693.68L656.84 692.11M638.51 682.97L635.12 694.69M612.63 689.07L623.36 690.53M616.01 655.73L628.93 657.1M601.89 705.19L612.05 704.82M652.54 679.98L656.29 687.15M630.75 648.96L644.51 653.12M623.36 642.73L623.92 654.31M645.07 647.23L655.99 654.32M650.63 669.09L653.54 678.82M647.31 678.51L660.1 681.94M642.67 650.36L657.37 655.8M641.09 666.73L649.28 676.83M632.1 665.47L634.68 680.05M624.85 688.51L633.36 689.74M636.81 672.15L647.59 683.59M623.64 694.89L638.62 697.93M597.4 700.73L608.52 705.45M634.45 688.53L641.77 690.64M625.65 646.77L637.81 649.64M645.56 679.35L658 687.87M619.99 648.76L621.54 660.81M603.44 669.81L616.96 669.43M612.34 680.52L622.63 684.89M616.45 693.67L623.28 697.48M633.69 649.45L640.24 660.45M610.94 668.35L624.44 670.32M647.64 670.53L658.59 672.2M636.16 701.92L647.63 700.95M603.11 697.45L610.19 697.33M643.46 638.92L658 635.39M630.15 684.31L639.26 684.17M648.18 701.64L658.24 701.81M610.93 672.96L621.62 676.34M636.53 703.62L648.45 693.53M627.39 679.65L632.86 684.3" fill="none" stroke="#a5a5d4" stroke-width="2.52" stroke-dasharray="1.44 2.96" stroke-dashoffset="-2.1" opacity="0.85"/>
<path d="M670.5 665.38Q674.94 661.71 673.29 665.33T677.71 662.9M654.8 683.3Q654.35 688.07 660.16 694.02T662.02 699.76M675.19 654.79Q680.66 649.42 681.31 646.3T683.31 646.82M669.56 690.16Q668.2 690.08 673.07 688.58T669.35 688.62M664.78 672.71Q665.39 670.96 664.36 675.91T665.84 679.87M651.9 676.81Q647.47 673.17 649.5 676.05T651.07 674.83M654.55 694.93Q655.91 689.4 660.98 684.27T655.46 682.98M681.88 659.63Q678.8 661.99 680.78 667.69T680.6 666.75M669.03 644.63Q666.2 647.84 663.09 652.23T661.31 648.64M658.88 655.38Q658.09 657.9 663.85 656.84T663.07 659.96M659.86 658.36Q662.49 653.38 667.17 649.15T664.44 649.63M655.51 647.35Q660.99 647.27 662.24 653.06T665.02 655.68M680.86 656.37Q683.14 653.14 677.24 651.38T681.57 648.42M679.66 672.17Q675.77 677.93 669.91 681.33T674.08 681.65M678.64 678.83Q677.93 682.04 679.14 687.07T679.97 686.44M681.36 683.12Q677.63 683.5 678.98 682.96T678.09 685.72M668.47 648.61Q672.52 650.94 668.01 654.32T671.13 650.45M670.26 641.4Q672.83 641.15 673.14 643.97T678.38 640.44" fill="none" stroke="#c44" stroke-width="0.6"/>
<path d="M657.08 646.13L668.29 644.47M656.08 683.23L664.5 683.12M649.64 649.53L657.56 655.04M651.82 650.83L661.72 650.3M668.75 679.37L665.86 691.13M658.1 661.18L671.06 668.98M662.96 664.07L672.19 670.38M675.44 666.72L670.37 675.97M672.64 661.68L683.18 663.33M670.41 683.33L679.38 673.1M669.02 668.36L681.58 661.7M671.22 650.83L681.59 651.34M671.96 649.32L680.33 650.8M658.42 698.3L664.43 693.04M660.34 701.89L670.92 700.51M674.08 645.12L677.18 660.2M655.72 691.46L665.74 688.19M652.12 659.43L662.97 651.07M665.21 698.95L664.75 691.84M665.5 685.34L674.18 673.41M656.35 681.35L666.19 687.9M667.42 671.97L678.07 671.92M660.69 669.4L669.11 670.3M659.36 640.44L662.32 651.13M656.51 696.29L667.96 698.15M662.89 650.63L678.33 653.82" fill="none" stroke="#913d3d" stroke-width="6.4" stroke-linecap="round"/>
<path d="M657.08 646.13L668.29 644.47M656.08 683.23L664.5 683.12M649.64 649.53L657.56 655.04M651.82 650.83L661.72 650.3M668.75 679.37L665.86 691.13M658.1 661.18L671.06 668.98M662.96 664.07L672.19 670.38M675.44 666.72L670.37 675.97M672.64 661.68L683.18 663.33M670.41 683.33L679.38 673.1M669.02 668.36L681.58 661.7M671.22 650.83L681.59 651.34M671.96 649.32L680.33 650.8M658.42 698.3L664.43 693.04M660.34 701.89L670.92 700.51M674.08 645.12L677.18 660.2M655.72 691.46L665.74 688.19M652.12 659.43L662.97 651.07M665.21 698.95L664.75 691.84M665.5 685.34L674.18 673.41M656.35 681.35L666.19 687.9M667.42 671.97L678.07 671.92M660.69 669.4L669.11 670.3M659.36 640.44L662.32 651.13M656.51 696.29L667.96 698.15M662.89 650.63L678.33 653.82" fill="none" stroke="#d05858" stroke-width="5.6" stroke-linecap="round"/>
<path d="M657.08 646.13L668.29 644.47M656.08 683.23L664.5 683.12M649.64 649.53L657.56 655.04M651.82 650.83L661.72 650.3M668.75 679.37L665.86 691.13M658.1 661.18L671.06 668.98M662.96 664.07L672.19 670.38M675.44 666.72L670.37 675.97M672.64 661.68L683.18 663.33M670.41 683.33L679.38 673.1M669.02 668.36L681.58 661.7M671.22 650.83L681.59 651.34M671.96 649.32L680.33 650.8M658.42 698.3L664.43 693.04M660.34 701.89L670.92 700.51M674.08 645.12L677.18 660.2M655.72 691.46L665.74 688.19M652.12 659.43L662.97 651.07M665.21 698.95L664.75 691.84M665.5 685.34L674.18 673.41M656.35 681.35L666.19 687.9M667.42 671.97L678.07 671.92M660.69 669.4L669.11 670.3M659.36 640.44L662.32 651.13M656.51 696.29L667.96 698.15M662.89 650.63L678.33 653.82" fill="none" stroke="#913d3d" stroke-width="5.04" stroke-dasharray="1.8 2.6"/>
<path d="M657.08 646.13L668.29 644.47M656.08 683.23L664.5 683.12M649.64 649.53L657.56 655.04M651.82 650.83L661.72 650.3M668.75 679.37L665.86 691.13M658.1 661.18L671.06 668.98M662.96 664.07L672.19 670.38M675.44 666.72L670.37 675.97M672.64 661.68L683.18 663.33M670.41 683.33L679.38 673.1M669.02 668.36L681.58 661.7M671.22 650.83L681.59 651.34M671.96 649.32L680.33 650.8M658.42 698.3L664.43 693.04M660.34 701.89L670.92 700.51M674.08 645.12L677.18 660.2M655.72 691.46L665.74 688.19M652.12 659.43L662.97 651.07M665.21 698.95L664.75 691.84M665.5 685.34L674.18 673.41M656.35 681.35L666.19 687.9M667.42 671.97L678.07 671.92M660.69 669.4L669.11 670.3M659.36 640.44L662.32 651.13M656.51 696.29L667.96 698.15M662.89 650.63L678.33 653.82" fill="none" stroke="#e5a3a3" stroke-width="2.52" stroke-dasharray="1.44 2.96" stroke-dashoffset="-2.1" opacity="0.85"/>
</g>
<text x="563.8" y="630.4" font-size="13.6" textLength="41.1" lengthAdjust="spacingAndGlyphs">ABCG2</text>
<text x="497" y="515.4" font-size="12.9" fill="#595959"><tspan font-style="italic" textLength="18.3" lengthAdjust="spacingAndGlyphs">VSS</tspan><tspan font-style="italic" font-size="9.6" dy="3.4" textLength="27" lengthAdjust="spacingAndGlyphs">measur</tspan><tspan dy="-3.4">: 0.37</tspan></text>
<text x="496" y="534.4" font-size="12.9" fill="#595959"><tspan font-style="italic" textLength="19" lengthAdjust="spacingAndGlyphs">SPS</tspan><tspan font-style="italic" font-size="9.6" dy="3.4" textLength="27.7" lengthAdjust="spacingAndGlyphs">measur</tspan><tspan dy="-3.4">: </tspan><tspan font-weight="bold" textLength="23.3" lengthAdjust="spacingAndGlyphs">0.57</tspan></text>
<text x="496.6" y="553.2" font-size="12.9" fill="#595959" textLength="80.6" lengthAdjust="spacingAndGlyphs">TM-score: 0.75</text>
<text x="496.6" y="572.5" font-size="12.9" fill="#595959" textLength="91.1" lengthAdjust="spacingAndGlyphs">LDDT-sever: 0.63</text>
<text x="496.6" y="591" font-size="12.9" fill="#595959" textLength="63.5" lengthAdjust="spacingAndGlyphs">RMSD: <tspan font-weight="bold">3.49</tspan></text>
<path d="M487.6 523.8Q488.14 529.36 493.7 529.9Q488.14 530.44 487.6 536Q487.06 530.44 481.5 529.9Q487.06 529.36 487.6 523.8Z" fill="#c8201e"/>
<path d="M487.6 580.3Q488.14 585.86 493.7 586.4Q488.14 586.94 487.6 592.5Q487.06 586.94 481.5 586.4Q487.06 585.86 487.6 580.3Z" fill="#c8201e"/>
<circle cx="620.5" cy="511.9" r="5.1" fill="#6f6fc0"/>
<circle cx="620.5" cy="529.1" r="5.1" fill="#e06a6a"/>
<text x="630.3" y="517" font-size="14.2" font-family="Liberation Mono" font-weight="bold" textLength="18.3" lengthAdjust="spacingAndGlyphs">OF</text>
<text x="631" y="534.1" font-size="14.2" font-family="Liberation Mono" font-weight="bold" textLength="18.3" lengthAdjust="spacingAndGlyphs">IF</text>
</svg></body></html>
